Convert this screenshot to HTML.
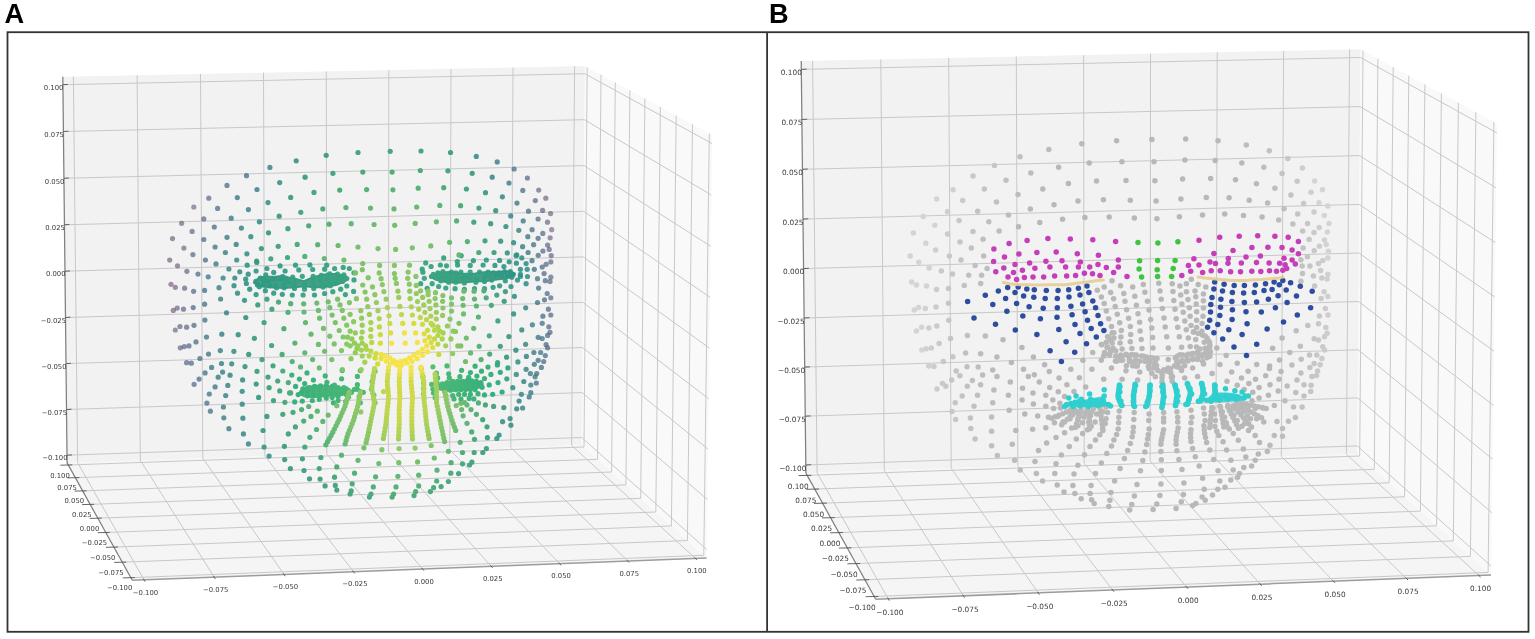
<!DOCTYPE html>
<html><head><meta charset="utf-8"><style>
html,body{margin:0;padding:0;background:#fff;}
body{width:1535px;height:639px;overflow:hidden;position:relative;}
svg{position:absolute;left:0;top:0;filter:blur(0.45px);}
.g{stroke:#c8c8c8;stroke-width:1;}
.ax{stroke:#808080;stroke-width:1.25;}
.ax2{stroke:#9c9c9c;stroke-width:1.5;}
.tk{stroke:#555;stroke-width:0.9;}
text{font-family:"DejaVu Sans","Liberation Sans",sans-serif;fill:#3a3a3a;}
.lbl{font-family:"Liberation Sans",sans-serif;font-weight:bold;fill:#000;}
</style></head><body>
<svg width="1535" height="639" viewBox="0 0 1535 639">
<polygon points="67.1,462.9 581.7,445.0 584.9,66.0 62.8,76.8" fill="#f2f2f2"/>
<polygon points="581.7,445.0 706.6,557.9 712.2,135.0 584.9,66.0" fill="#f9f9f9"/>
<polygon points="67.1,462.9 581.7,445.0 706.6,557.9 132.3,580.3" fill="#f5f5f5"/>
<line class="g" x1="77.6" y1="462.5" x2="73.4" y2="76.6"/>
<line class="g" x1="67.0" y1="455.2" x2="581.8" y2="437.5"/>
<line class="g" x1="703.8" y1="555.3" x2="709.3" y2="133.4"/>
<line class="g" x1="581.8" y1="437.5" x2="706.7" y2="549.5"/>
<line class="g" x1="77.6" y1="462.5" x2="144.0" y2="579.8"/>
<line class="g" x1="130.8" y1="577.7" x2="703.8" y2="555.3"/>
<line class="g" x1="140.3" y1="460.3" x2="137.1" y2="75.3"/>
<line class="g" x1="66.5" y1="409.5" x2="582.2" y2="392.6"/>
<line class="g" x1="687.4" y1="540.5" x2="692.5" y2="124.3"/>
<line class="g" x1="582.2" y1="392.6" x2="707.4" y2="499.5"/>
<line class="g" x1="140.3" y1="460.3" x2="214.2" y2="577.1"/>
<line class="g" x1="122.2" y1="562.2" x2="687.4" y2="540.5"/>
<line class="g" x1="202.8" y1="458.2" x2="200.5" y2="74.0"/>
<line class="g" x1="66.0" y1="363.6" x2="582.5" y2="347.5"/>
<line class="g" x1="671.4" y1="526.0" x2="676.2" y2="115.5"/>
<line class="g" x1="582.5" y1="347.5" x2="708.1" y2="449.2"/>
<line class="g" x1="202.8" y1="458.2" x2="284.0" y2="574.4"/>
<line class="g" x1="113.9" y1="547.1" x2="671.4" y2="526.0"/>
<line class="g" x1="264.9" y1="456.0" x2="263.5" y2="72.7"/>
<line class="g" x1="65.5" y1="317.5" x2="582.9" y2="302.3"/>
<line class="g" x1="655.8" y1="512.0" x2="660.4" y2="106.9"/>
<line class="g" x1="582.9" y1="302.3" x2="708.7" y2="398.8"/>
<line class="g" x1="264.9" y1="456.0" x2="353.4" y2="571.6"/>
<line class="g" x1="105.7" y1="532.5" x2="655.8" y2="512.0"/>
<line class="g" x1="326.8" y1="453.8" x2="326.3" y2="71.4"/>
<line class="g" x1="65.0" y1="271.2" x2="583.3" y2="256.9"/>
<line class="g" x1="640.7" y1="498.3" x2="644.9" y2="98.5"/>
<line class="g" x1="583.3" y1="256.9" x2="709.4" y2="348.1"/>
<line class="g" x1="326.8" y1="453.8" x2="422.5" y2="569.0"/>
<line class="g" x1="97.8" y1="518.2" x2="640.7" y2="498.3"/>
<line class="g" x1="388.4" y1="451.7" x2="388.8" y2="70.1"/>
<line class="g" x1="64.4" y1="224.8" x2="583.7" y2="211.3"/>
<line class="g" x1="625.9" y1="484.9" x2="629.9" y2="90.4"/>
<line class="g" x1="583.7" y1="211.3" x2="710.1" y2="297.3"/>
<line class="g" x1="388.4" y1="451.7" x2="491.2" y2="566.3"/>
<line class="g" x1="90.1" y1="504.4" x2="625.9" y2="484.9"/>
<line class="g" x1="449.8" y1="449.6" x2="451.0" y2="68.8"/>
<line class="g" x1="63.9" y1="178.3" x2="584.1" y2="165.6"/>
<line class="g" x1="611.6" y1="472.0" x2="615.3" y2="82.5"/>
<line class="g" x1="584.1" y1="165.6" x2="710.7" y2="246.2"/>
<line class="g" x1="449.8" y1="449.6" x2="559.6" y2="563.6"/>
<line class="g" x1="82.6" y1="490.9" x2="611.6" y2="472.0"/>
<line class="g" x1="510.8" y1="447.5" x2="513.0" y2="67.5"/>
<line class="g" x1="63.4" y1="131.5" x2="584.4" y2="119.7"/>
<line class="g" x1="597.6" y1="459.3" x2="601.0" y2="74.8"/>
<line class="g" x1="584.4" y1="119.7" x2="711.4" y2="195.0"/>
<line class="g" x1="510.8" y1="447.5" x2="627.7" y2="560.9"/>
<line class="g" x1="75.4" y1="477.7" x2="597.6" y2="459.3"/>
<line class="g" x1="571.6" y1="445.4" x2="574.6" y2="66.2"/>
<line class="g" x1="62.9" y1="84.7" x2="584.8" y2="73.7"/>
<line class="g" x1="584.0" y1="447.0" x2="587.2" y2="67.2"/>
<line class="g" x1="584.8" y1="73.7" x2="712.1" y2="143.6"/>
<line class="g" x1="571.6" y1="445.4" x2="695.4" y2="558.3"/>
<line class="g" x1="68.3" y1="465.0" x2="584.0" y2="447.0"/>
<line class="ax2" x1="132.3" y1="580.3" x2="706.6" y2="557.9"/>
<line class="ax" x1="67.1" y1="462.9" x2="132.3" y2="580.3"/>
<line class="ax" x1="67.1" y1="462.9" x2="62.8" y2="76.8"/>
<line class="tk" x1="67.0" y1="455.2" x2="72.0" y2="454.9"/>
<line class="tk" x1="122.8" y1="577.9" x2="134.8" y2="577.6"/>
<line class="tk" x1="143.4" y1="578.8" x2="145.1" y2="581.7"/>
<line class="tk" x1="66.5" y1="409.5" x2="71.5" y2="409.2"/>
<line class="tk" x1="114.2" y1="562.4" x2="126.2" y2="562.1"/>
<line class="tk" x1="213.5" y1="576.1" x2="215.3" y2="578.9"/>
<line class="tk" x1="66.0" y1="363.6" x2="71.0" y2="363.3"/>
<line class="tk" x1="105.9" y1="547.3" x2="117.9" y2="547.0"/>
<line class="tk" x1="283.3" y1="573.4" x2="285.2" y2="576.2"/>
<line class="tk" x1="65.5" y1="317.5" x2="70.5" y2="317.2"/>
<line class="tk" x1="97.7" y1="532.7" x2="109.7" y2="532.4"/>
<line class="tk" x1="352.7" y1="570.7" x2="354.7" y2="573.4"/>
<line class="tk" x1="65.0" y1="271.2" x2="70.0" y2="270.9"/>
<line class="tk" x1="89.8" y1="518.4" x2="101.8" y2="518.1"/>
<line class="tk" x1="421.7" y1="568.0" x2="423.9" y2="570.6"/>
<line class="tk" x1="64.4" y1="224.8" x2="69.4" y2="224.5"/>
<line class="tk" x1="82.1" y1="504.6" x2="94.1" y2="504.3"/>
<line class="tk" x1="490.4" y1="565.4" x2="492.7" y2="567.9"/>
<line class="tk" x1="63.9" y1="178.3" x2="68.9" y2="178.0"/>
<line class="tk" x1="74.6" y1="491.1" x2="86.6" y2="490.8"/>
<line class="tk" x1="558.8" y1="562.7" x2="561.1" y2="565.2"/>
<line class="tk" x1="63.4" y1="131.5" x2="68.4" y2="131.2"/>
<line class="tk" x1="67.4" y1="477.9" x2="79.4" y2="477.6"/>
<line class="tk" x1="626.8" y1="560.1" x2="629.2" y2="562.5"/>
<line class="tk" x1="62.9" y1="84.7" x2="67.9" y2="84.4"/>
<line class="tk" x1="60.3" y1="465.2" x2="72.3" y2="464.9"/>
<line class="tk" x1="694.5" y1="557.5" x2="697.0" y2="559.8"/>
<text x="67.5" y="460.4" text-anchor="end" font-size="6.85">−0.100</text>
<text x="132.3" y="590.2" text-anchor="end" font-size="6.85">−0.100</text>
<text x="145.5" y="594.6" text-anchor="middle" font-size="6.85">−0.100</text>
<text x="67.0" y="414.7" text-anchor="end" font-size="6.85">−0.075</text>
<text x="123.7" y="574.7" text-anchor="end" font-size="6.85">−0.075</text>
<text x="215.7" y="591.9" text-anchor="middle" font-size="6.85">−0.075</text>
<text x="66.5" y="368.8" text-anchor="end" font-size="6.85">−0.050</text>
<text x="115.4" y="559.6" text-anchor="end" font-size="6.85">−0.050</text>
<text x="285.5" y="589.2" text-anchor="middle" font-size="6.85">−0.050</text>
<text x="66.0" y="322.7" text-anchor="end" font-size="6.85">−0.025</text>
<text x="107.2" y="545.0" text-anchor="end" font-size="6.85">−0.025</text>
<text x="354.9" y="586.4" text-anchor="middle" font-size="6.85">−0.025</text>
<text x="65.5" y="276.4" text-anchor="end" font-size="6.85">0.000</text>
<text x="99.3" y="530.7" text-anchor="end" font-size="6.85">0.000</text>
<text x="424.0" y="583.8" text-anchor="middle" font-size="6.85">0.000</text>
<text x="64.9" y="230.0" text-anchor="end" font-size="6.85">0.025</text>
<text x="91.6" y="516.9" text-anchor="end" font-size="6.85">0.025</text>
<text x="492.7" y="581.1" text-anchor="middle" font-size="6.85">0.025</text>
<text x="64.4" y="183.5" text-anchor="end" font-size="6.85">0.050</text>
<text x="84.1" y="503.4" text-anchor="end" font-size="6.85">0.050</text>
<text x="561.1" y="578.4" text-anchor="middle" font-size="6.85">0.050</text>
<text x="63.9" y="136.7" text-anchor="end" font-size="6.85">0.075</text>
<text x="76.9" y="490.2" text-anchor="end" font-size="6.85">0.075</text>
<text x="629.2" y="575.7" text-anchor="middle" font-size="6.85">0.075</text>
<text x="63.4" y="89.9" text-anchor="end" font-size="6.85">0.100</text>
<text x="69.8" y="477.5" text-anchor="end" font-size="6.85">0.100</text>
<text x="696.9" y="573.1" text-anchor="middle" font-size="6.85">0.100</text>
<g><polygon points="253.6,282.8 259.3,277.0 266.5,276.4 275.1,276.4 283.0,275.5 289.4,277.5 295.2,278.5 303.8,281.0 313.1,277.0 321.0,275.0 327.4,273.8 336.8,273.8 343.9,275.2 348.2,278.5 345.4,281.4 336.8,285.0 329.6,286.4 323.1,287.5 313.8,287.5 304.5,286.5 295.2,287.5 285.1,288.2 276.5,288.0 268.7,287.5 259.3,286.5" fill="#2e9878" fill-opacity="0.9" stroke="#2e9878" stroke-opacity="0.9" stroke-width="1.5" stroke-linejoin="round"/>
<polygon points="430.0,275.8 437.9,272.6 448.7,271.8 455.8,272.4 463.0,273.4 470.2,274.2 479.5,272.4 488.1,271.5 495.3,271.8 502.4,271.3 509.6,271.0 515.3,273.6 513.2,276.5 506.0,278.7 498.9,279.4 491.7,280.5 484.5,281.5 475.9,281.5 466.6,282.5 457.3,283.0 448.7,282.6 440.8,281.5 434.3,279.4" fill="#2e9878" fill-opacity="0.9" stroke="#2e9878" stroke-opacity="0.9" stroke-width="1.5" stroke-linejoin="round"/>
<polygon points="298.8,393.4 302.9,387.6 314.6,385.5 326.3,385.5 338.1,387.2 345.7,388.0 345.7,394.0 336.9,395.3 325.2,396.5 313.4,397.5 304.7,396.5 299.4,394.6" fill="#43ad6e" fill-opacity="0.9" stroke="#43ad6e" stroke-opacity="0.9" stroke-width="1.5" stroke-linejoin="round"/>
<polygon points="483.3,384.9 478.6,381.0 469.8,380.0 458.1,380.5 449.3,381.6 442.3,383.0 437.6,384.8 437.6,389.2 446.4,391.0 455.2,391.0 464.0,390.4 472.8,389.2 478.6,387.5" fill="#44aa72" fill-opacity="0.9" stroke="#44aa72" stroke-opacity="0.9" stroke-width="1.5" stroke-linejoin="round"/></g><g><circle cx="181.6" cy="223.3" r="2.6" fill="rgb(53,21,64)" fill-opacity="0.45"/>
<circle cx="172.5" cy="238.6" r="2.6" fill="rgb(53,21,64)" fill-opacity="0.45"/>
<circle cx="545.8" cy="198.2" r="2.6" fill="rgb(53,21,64)" fill-opacity="0.45"/>
<circle cx="169.7" cy="260.0" r="2.6" fill="rgb(53,21,64)" fill-opacity="0.45"/>
<circle cx="550.6" cy="213.6" r="2.6" fill="rgb(53,21,64)" fill-opacity="0.45"/>
<circle cx="177.5" cy="265.8" r="2.6" fill="rgb(53,21,64)" fill-opacity="0.45"/>
<circle cx="171.0" cy="284.3" r="2.6" fill="rgb(53,21,64)" fill-opacity="0.45"/>
<circle cx="175.3" cy="287.3" r="2.6" fill="rgb(53,21,64)" fill-opacity="0.45"/>
<circle cx="173.3" cy="310.4" r="2.6" fill="rgb(53,21,64)" fill-opacity="0.45"/>
<circle cx="193.8" cy="207.0" r="2.6" fill="rgb(58,30,74)" fill-opacity="0.45"/>
<circle cx="551.7" cy="229.7" r="2.6" fill="rgb(59,31,75)" fill-opacity="0.45"/>
<circle cx="183.9" cy="248.1" r="2.6" fill="rgb(65,44,90)" fill-opacity="0.49"/>
<circle cx="175.3" cy="330.0" r="2.6" fill="rgb(65,45,91)" fill-opacity="0.49"/>
<circle cx="177.2" cy="308.1" r="2.6" fill="rgb(67,51,97)" fill-opacity="0.52"/>
<circle cx="547.5" cy="222.2" r="2.6" fill="rgb(67,54,100)" fill-opacity="0.53"/>
<circle cx="550.1" cy="237.8" r="2.6" fill="rgb(68,56,101)" fill-opacity="0.53"/>
<circle cx="538.7" cy="190.1" r="2.6" fill="rgb(68,59,104)" fill-opacity="0.54"/>
<circle cx="192.1" cy="231.4" r="2.6" fill="rgb(68,60,105)" fill-opacity="0.55"/>
<circle cx="180.3" cy="347.8" r="2.6" fill="rgb(68,64,108)" fill-opacity="0.56"/>
<circle cx="180.0" cy="326.5" r="2.6" fill="rgb(68,64,108)" fill-opacity="0.56"/>
<circle cx="551.2" cy="255.6" r="2.6" fill="rgb(68,65,109)" fill-opacity="0.56"/>
<circle cx="542.6" cy="210.4" r="2.6" fill="rgb(68,65,109)" fill-opacity="0.56"/>
<circle cx="549.2" cy="249.4" r="2.6" fill="rgb(68,69,111)" fill-opacity="0.58"/>
<circle cx="550.8" cy="261.9" r="2.6" fill="rgb(68,70,112)" fill-opacity="0.58"/>
<circle cx="184.6" cy="288.2" r="2.6" fill="rgb(68,71,113)" fill-opacity="0.58"/>
<circle cx="186.9" cy="271.3" r="2.6" fill="rgb(68,71,113)" fill-opacity="0.58"/>
<circle cx="183.5" cy="309.2" r="2.6" fill="rgb(68,72,114)" fill-opacity="0.59"/>
<circle cx="547.6" cy="245.1" r="2.6" fill="rgb(68,72,114)" fill-opacity="0.59"/>
<circle cx="184.3" cy="346.6" r="2.6" fill="rgb(67,74,115)" fill-opacity="0.60"/>
<circle cx="208.8" cy="198.2" r="2.6" fill="rgb(67,75,115)" fill-opacity="0.60"/>
<circle cx="550.8" cy="277.2" r="2.6" fill="rgb(67,76,116)" fill-opacity="0.60"/>
<circle cx="192.9" cy="254.6" r="2.6" fill="rgb(67,77,117)" fill-opacity="0.61"/>
<circle cx="186.6" cy="362.7" r="2.6" fill="rgb(67,78,117)" fill-opacity="0.61"/>
<circle cx="550.0" cy="281.5" r="2.6" fill="rgb(66,80,118)" fill-opacity="0.62"/>
<circle cx="203.8" cy="218.9" r="2.6" fill="rgb(66,80,118)" fill-opacity="0.62"/>
<circle cx="186.6" cy="327.2" r="2.6" fill="rgb(66,81,119)" fill-opacity="0.62"/>
<circle cx="550.8" cy="297.8" r="2.6" fill="rgb(66,82,119)" fill-opacity="0.63"/>
<circle cx="542.8" cy="233.4" r="2.6" fill="rgb(66,82,119)" fill-opacity="0.63"/>
<circle cx="535.3" cy="200.6" r="2.6" fill="rgb(66,82,119)" fill-opacity="0.63"/>
<circle cx="550.8" cy="315.0" r="2.6" fill="rgb(65,83,120)" fill-opacity="0.64"/>
<circle cx="527.4" cy="178.0" r="2.6" fill="rgb(65,84,120)" fill-opacity="0.64"/>
<circle cx="189.0" cy="345.9" r="2.6" fill="rgb(65,85,121)" fill-opacity="0.64"/>
<circle cx="546.1" cy="264.3" r="2.6" fill="rgb(65,86,121)" fill-opacity="0.64"/>
<circle cx="538.1" cy="219.0" r="2.6" fill="rgb(65,86,121)" fill-opacity="0.65"/>
<circle cx="550.0" cy="332.3" r="2.6" fill="rgb(65,87,122)" fill-opacity="0.65"/>
<circle cx="191.3" cy="363.2" r="2.6" fill="rgb(64,88,122)" fill-opacity="0.65"/>
<circle cx="194.1" cy="384.3" r="2.6" fill="rgb(64,88,122)" fill-opacity="0.65"/>
<circle cx="542.9" cy="251.0" r="2.6" fill="rgb(64,89,123)" fill-opacity="0.66"/>
<circle cx="548.4" cy="309.2" r="2.6" fill="rgb(64,89,123)" fill-opacity="0.66"/>
<circle cx="548.8" cy="326.8" r="2.6" fill="rgb(64,89,123)" fill-opacity="0.66"/>
<circle cx="193.6" cy="291.3" r="2.6" fill="rgb(64,90,123)" fill-opacity="0.66"/>
<circle cx="547.2" cy="293.5" r="2.6" fill="rgb(64,90,123)" fill-opacity="0.66"/>
<circle cx="203.8" cy="239.5" r="2.6" fill="rgb(63,91,124)" fill-opacity="0.67"/>
<circle cx="547.6" cy="347.8" r="2.6" fill="rgb(63,92,124)" fill-opacity="0.67"/>
<circle cx="193.2" cy="307.6" r="2.6" fill="rgb(63,92,124)" fill-opacity="0.67"/>
<circle cx="547.6" cy="335.4" r="2.6" fill="rgb(63,93,124)" fill-opacity="0.67"/>
<circle cx="545.3" cy="280.7" r="2.6" fill="rgb(63,93,124)" fill-opacity="0.67"/>
<circle cx="198.0" cy="274.1" r="2.6" fill="rgb(62,94,125)" fill-opacity="0.68"/>
<circle cx="544.1" cy="273.6" r="2.6" fill="rgb(62,94,125)" fill-opacity="0.68"/>
<circle cx="194.0" cy="325.3" r="2.6" fill="rgb(62,95,125)" fill-opacity="0.68"/>
<circle cx="538.1" cy="238.3" r="2.6" fill="rgb(62,96,125)" fill-opacity="0.69"/>
<circle cx="227.0" cy="185.4" r="2.6" fill="rgb(62,96,126)" fill-opacity="0.69"/>
<circle cx="546.1" cy="344.7" r="2.6" fill="rgb(62,96,126)" fill-opacity="0.69"/>
<circle cx="542.2" cy="267.0" r="2.6" fill="rgb(61,97,126)" fill-opacity="0.69"/>
<circle cx="217.6" cy="208.4" r="2.6" fill="rgb(61,97,126)" fill-opacity="0.69"/>
<circle cx="545.3" cy="355.6" r="2.6" fill="rgb(61,97,126)" fill-opacity="0.69"/>
<circle cx="199.1" cy="379.1" r="2.6" fill="rgb(61,97,126)" fill-opacity="0.69"/>
<circle cx="196.0" cy="341.9" r="2.6" fill="rgb(61,98,126)" fill-opacity="0.69"/>
<circle cx="544.5" cy="299.8" r="2.6" fill="rgb(61,98,126)" fill-opacity="0.70"/>
<circle cx="543.7" cy="361.5" r="2.6" fill="rgb(61,100,127)" fill-opacity="0.70"/>
<circle cx="205.4" cy="260.0" r="2.6" fill="rgb(60,101,127)" fill-opacity="0.71"/>
<circle cx="214.3" cy="227.0" r="2.6" fill="rgb(60,102,127)" fill-opacity="0.71"/>
<circle cx="538.2" cy="255.3" r="2.6" fill="rgb(60,102,128)" fill-opacity="0.71"/>
<circle cx="199.9" cy="358.5" r="2.6" fill="rgb(60,102,128)" fill-opacity="0.71"/>
<circle cx="206.9" cy="403.1" r="2.6" fill="rgb(59,103,128)" fill-opacity="0.71"/>
<circle cx="522.8" cy="190.4" r="2.6" fill="rgb(59,103,128)" fill-opacity="0.71"/>
<circle cx="542.9" cy="316.2" r="2.6" fill="rgb(59,103,128)" fill-opacity="0.72"/>
<circle cx="528.5" cy="211.2" r="2.6" fill="rgb(59,103,128)" fill-opacity="0.72"/>
<circle cx="541.4" cy="367.4" r="2.6" fill="rgb(59,104,128)" fill-opacity="0.72"/>
<circle cx="514.1" cy="169.0" r="2.6" fill="rgb(59,105,128)" fill-opacity="0.72"/>
<circle cx="210.4" cy="411.2" r="2.6" fill="rgb(59,105,128)" fill-opacity="0.72"/>
<circle cx="532.1" cy="229.7" r="2.6" fill="rgb(59,105,128)" fill-opacity="0.72"/>
<circle cx="542.2" cy="338.5" r="2.6" fill="rgb(59,106,128)" fill-opacity="0.72"/>
<circle cx="542.2" cy="323.3" r="2.6" fill="rgb(59,106,128)" fill-opacity="0.72"/>
<circle cx="204.6" cy="290.4" r="2.6" fill="rgb(59,107,129)" fill-opacity="0.73"/>
<circle cx="205.1" cy="372.9" r="2.6" fill="rgb(59,107,129)" fill-opacity="0.73"/>
<circle cx="540.6" cy="352.5" r="2.6" fill="rgb(58,108,129)" fill-opacity="0.73"/>
<circle cx="533.6" cy="244.7" r="2.6" fill="rgb(58,108,129)" fill-opacity="0.73"/>
<circle cx="209.3" cy="394.0" r="2.6" fill="rgb(58,108,129)" fill-opacity="0.74"/>
<circle cx="204.6" cy="304.2" r="2.6" fill="rgb(58,109,129)" fill-opacity="0.74"/>
<circle cx="538.6" cy="288.1" r="2.6" fill="rgb(58,109,129)" fill-opacity="0.74"/>
<circle cx="208.2" cy="276.8" r="2.6" fill="rgb(58,110,129)" fill-opacity="0.74"/>
<circle cx="537.5" cy="278.7" r="2.6" fill="rgb(58,110,129)" fill-opacity="0.74"/>
<circle cx="215.1" cy="247.0" r="2.6" fill="rgb(58,111,129)" fill-opacity="0.75"/>
<circle cx="204.9" cy="320.1" r="2.6" fill="rgb(58,111,129)" fill-opacity="0.75"/>
<circle cx="538.2" cy="360.3" r="2.6" fill="rgb(58,111,129)" fill-opacity="0.75"/>
<circle cx="536.3" cy="383.0" r="2.6" fill="rgb(58,111,129)" fill-opacity="0.75"/>
<circle cx="536.7" cy="373.6" r="2.6" fill="rgb(58,112,130)" fill-opacity="0.75"/>
<circle cx="206.5" cy="337.0" r="2.6" fill="rgb(57,113,130)" fill-opacity="0.76"/>
<circle cx="246.5" cy="175.7" r="2.6" fill="rgb(57,113,130)" fill-opacity="0.76"/>
<circle cx="538.2" cy="337.3" r="2.6" fill="rgb(57,113,130)" fill-opacity="0.76"/>
<circle cx="537.5" cy="302.5" r="2.6" fill="rgb(57,113,130)" fill-opacity="0.76"/>
<circle cx="534.3" cy="269.3" r="2.6" fill="rgb(57,113,130)" fill-opacity="0.76"/>
<circle cx="208.5" cy="354.1" r="2.6" fill="rgb(57,114,130)" fill-opacity="0.76"/>
<circle cx="535.1" cy="376.8" r="2.6" fill="rgb(57,115,130)" fill-opacity="0.76"/>
<circle cx="237.3" cy="197.6" r="2.6" fill="rgb(57,115,130)" fill-opacity="0.77"/>
<circle cx="527.8" cy="236.7" r="2.6" fill="rgb(57,115,130)" fill-opacity="0.77"/>
<circle cx="532.0" cy="260.7" r="2.6" fill="rgb(57,115,130)" fill-opacity="0.77"/>
<circle cx="216.0" cy="263.9" r="2.6" fill="rgb(57,116,130)" fill-opacity="0.77"/>
<circle cx="211.6" cy="367.4" r="2.6" fill="rgb(57,116,130)" fill-opacity="0.77"/>
<circle cx="523.2" cy="220.9" r="2.6" fill="rgb(57,117,130)" fill-opacity="0.77"/>
<circle cx="215.1" cy="386.9" r="2.6" fill="rgb(57,117,130)" fill-opacity="0.77"/>
<circle cx="534.3" cy="364.3" r="2.6" fill="rgb(57,118,130)" fill-opacity="0.78"/>
<circle cx="231.2" cy="218.2" r="2.6" fill="rgb(57,118,130)" fill-opacity="0.78"/>
<circle cx="223.8" cy="417.8" r="2.6" fill="rgb(56,119,130)" fill-opacity="0.78"/>
<circle cx="517.0" cy="203.1" r="2.6" fill="rgb(56,119,130)" fill-opacity="0.78"/>
<circle cx="530.8" cy="392.7" r="2.6" fill="rgb(56,119,130)" fill-opacity="0.78"/>
<circle cx="528.1" cy="252.5" r="2.6" fill="rgb(56,119,131)" fill-opacity="0.79"/>
<circle cx="533.9" cy="352.5" r="2.6" fill="rgb(56,119,131)" fill-opacity="0.79"/>
<circle cx="228.9" cy="428.7" r="2.6" fill="rgb(56,120,131)" fill-opacity="0.79"/>
<circle cx="509.0" cy="183.0" r="2.6" fill="rgb(56,120,131)" fill-opacity="0.79"/>
<circle cx="227.0" cy="237.3" r="2.6" fill="rgb(56,120,131)" fill-opacity="0.79"/>
<circle cx="529.2" cy="397.0" r="2.6" fill="rgb(56,120,131)" fill-opacity="0.79"/>
<circle cx="530.8" cy="385.0" r="2.6" fill="rgb(56,120,131)" fill-opacity="0.79"/>
<circle cx="223.4" cy="407.0" r="2.6" fill="rgb(56,121,131)" fill-opacity="0.79"/>
<circle cx="218.2" cy="377.2" r="2.6" fill="rgb(56,122,131)" fill-opacity="0.80"/>
<circle cx="530.4" cy="373.6" r="2.6" fill="rgb(56,123,131)" fill-opacity="0.80"/>
<circle cx="532.4" cy="324.8" r="2.6" fill="rgb(56,123,131)" fill-opacity="0.80"/>
<circle cx="225.4" cy="252.5" r="2.6" fill="rgb(56,123,131)" fill-opacity="0.80"/>
<circle cx="497.2" cy="161.9" r="2.6" fill="rgb(56,123,131)" fill-opacity="0.80"/>
<circle cx="219.0" cy="287.7" r="2.6" fill="rgb(56,123,131)" fill-opacity="0.80"/>
<circle cx="522.6" cy="246.7" r="2.6" fill="rgb(55,126,131)" fill-opacity="0.81"/>
<circle cx="223.1" cy="278.0" r="2.6" fill="rgb(55,127,131)" fill-opacity="0.81"/>
<circle cx="225.7" cy="395.6" r="2.6" fill="rgb(55,127,131)" fill-opacity="0.82"/>
<circle cx="518.8" cy="230.3" r="2.6" fill="rgb(55,127,131)" fill-opacity="0.82"/>
<circle cx="220.6" cy="299.0" r="2.6" fill="rgb(55,127,131)" fill-opacity="0.82"/>
<circle cx="220.3" cy="350.6" r="2.6" fill="rgb(55,127,131)" fill-opacity="0.82"/>
<circle cx="221.5" cy="363.5" r="2.6" fill="rgb(55,127,131)" fill-opacity="0.82"/>
<circle cx="222.6" cy="372.1" r="2.6" fill="rgb(55,127,131)" fill-opacity="0.82"/>
<circle cx="522.6" cy="408.0" r="2.6" fill="rgb(55,127,131)" fill-opacity="0.82"/>
<circle cx="269.9" cy="167.4" r="2.6" fill="rgb(55,128,131)" fill-opacity="0.82"/>
<circle cx="257.0" cy="189.5" r="2.6" fill="rgb(55,129,131)" fill-opacity="0.83"/>
<circle cx="221.8" cy="334.2" r="2.6" fill="rgb(55,129,131)" fill-opacity="0.83"/>
<circle cx="526.1" cy="369.3" r="2.6" fill="rgb(55,130,131)" fill-opacity="0.83"/>
<circle cx="228.9" cy="269.0" r="2.6" fill="rgb(55,130,131)" fill-opacity="0.83"/>
<circle cx="227.8" cy="385.4" r="2.6" fill="rgb(55,130,131)" fill-opacity="0.83"/>
<circle cx="248.4" cy="209.6" r="2.6" fill="rgb(54,131,131)" fill-opacity="0.83"/>
<circle cx="241.4" cy="228.1" r="2.6" fill="rgb(54,131,131)" fill-opacity="0.84"/>
<circle cx="526.4" cy="356.4" r="2.6" fill="rgb(54,131,131)" fill-opacity="0.84"/>
<circle cx="236.2" cy="244.4" r="2.6" fill="rgb(54,131,132)" fill-opacity="0.84"/>
<circle cx="523.8" cy="381.5" r="2.6" fill="rgb(54,131,132)" fill-opacity="0.84"/>
<circle cx="243.4" cy="433.9" r="2.6" fill="rgb(54,132,132)" fill-opacity="0.84"/>
<circle cx="525.7" cy="307.8" r="2.6" fill="rgb(54,132,132)" fill-opacity="0.84"/>
<circle cx="510.7" cy="215.9" r="2.6" fill="rgb(54,132,132)" fill-opacity="0.84"/>
<circle cx="521.4" cy="394.3" r="2.6" fill="rgb(54,132,132)" fill-opacity="0.84"/>
<circle cx="248.4" cy="443.9" r="2.6" fill="rgb(54,133,132)" fill-opacity="0.84"/>
<circle cx="525.6" cy="344.3" r="2.6" fill="rgb(54,133,132)" fill-opacity="0.84"/>
<circle cx="226.5" cy="312.8" r="2.6" fill="rgb(54,133,132)" fill-opacity="0.85"/>
<circle cx="230.1" cy="375.2" r="2.6" fill="rgb(54,134,132)" fill-opacity="0.85"/>
<circle cx="519.1" cy="401.0" r="2.6" fill="rgb(54,134,132)" fill-opacity="0.85"/>
<circle cx="502.4" cy="196.8" r="2.6" fill="rgb(54,135,132)" fill-opacity="0.85"/>
<circle cx="236.7" cy="260.0" r="2.6" fill="rgb(54,135,132)" fill-opacity="0.85"/>
<circle cx="516.7" cy="408.8" r="2.6" fill="rgb(54,135,132)" fill-opacity="0.85"/>
<circle cx="516.7" cy="254.9" r="2.6" fill="rgb(54,136,132)" fill-opacity="0.86"/>
<circle cx="242.9" cy="418.2" r="2.6" fill="rgb(54,136,132)" fill-opacity="0.86"/>
<circle cx="492.2" cy="177.2" r="2.6" fill="rgb(54,136,132)" fill-opacity="0.86"/>
<circle cx="231.7" cy="363.8" r="2.6" fill="rgb(54,137,132)" fill-opacity="0.86"/>
<circle cx="513.6" cy="242.7" r="2.6" fill="rgb(54,137,132)" fill-opacity="0.86"/>
<circle cx="234.8" cy="278.0" r="2.6" fill="rgb(54,137,132)" fill-opacity="0.86"/>
<circle cx="234.0" cy="285.7" r="2.6" fill="rgb(54,138,131)" fill-opacity="0.86"/>
<circle cx="521.8" cy="329.9" r="2.6" fill="rgb(54,138,131)" fill-opacity="0.87"/>
<circle cx="510.9" cy="425.2" r="2.6" fill="rgb(54,139,131)" fill-opacity="0.87"/>
<circle cx="527.2" cy="269.3" r="2.6" fill="rgb(47,141,134)" fill-opacity="0.87"/>
<circle cx="526.1" cy="263.6" r="2.6" fill="rgb(47,141,134)" fill-opacity="0.87"/>
<circle cx="527.5" cy="276.5" r="2.6" fill="rgb(47,141,134)" fill-opacity="0.87"/>
<circle cx="242.2" cy="404.2" r="2.6" fill="rgb(54,139,131)" fill-opacity="0.87"/>
<circle cx="233.9" cy="351.3" r="2.6" fill="rgb(54,139,131)" fill-opacity="0.87"/>
<circle cx="526.1" cy="283.7" r="2.6" fill="rgb(47,142,133)" fill-opacity="0.87"/>
<circle cx="239.8" cy="271.8" r="2.6" fill="rgb(54,140,131)" fill-opacity="0.88"/>
<circle cx="521.8" cy="257.9" r="2.6" fill="rgb(47,143,133)" fill-opacity="0.88"/>
<circle cx="476.3" cy="156.4" r="2.6" fill="rgb(54,140,131)" fill-opacity="0.88"/>
<circle cx="250.8" cy="236.7" r="2.6" fill="rgb(54,141,131)" fill-opacity="0.88"/>
<circle cx="510.1" cy="418.6" r="2.6" fill="rgb(54,141,131)" fill-opacity="0.88"/>
<circle cx="296.2" cy="160.8" r="2.6" fill="rgb(54,141,131)" fill-opacity="0.88"/>
<circle cx="505.9" cy="226.5" r="2.6" fill="rgb(54,141,131)" fill-opacity="0.88"/>
<circle cx="237.5" cy="293.2" r="2.6" fill="rgb(54,141,131)" fill-opacity="0.88"/>
<circle cx="520.4" cy="269.3" r="2.6" fill="rgb(47,145,133)" fill-opacity="0.88"/>
<circle cx="517.9" cy="361.9" r="2.6" fill="rgb(54,142,131)" fill-opacity="0.88"/>
<circle cx="242.2" cy="391.3" r="2.6" fill="rgb(54,142,131)" fill-opacity="0.88"/>
<circle cx="279.7" cy="182.6" r="2.6" fill="rgb(54,142,131)" fill-opacity="0.88"/>
<circle cx="520.4" cy="274.4" r="2.6" fill="rgb(47,145,133)" fill-opacity="0.88"/>
<circle cx="520.4" cy="276.5" r="2.6" fill="rgb(47,145,133)" fill-opacity="0.88"/>
<circle cx="516.3" cy="374.4" r="2.6" fill="rgb(54,142,131)" fill-opacity="0.88"/>
<circle cx="246.9" cy="253.8" r="2.6" fill="rgb(54,142,131)" fill-opacity="0.88"/>
<circle cx="268.0" cy="202.6" r="2.6" fill="rgb(54,142,131)" fill-opacity="0.88"/>
<circle cx="516.1" cy="255.7" r="2.6" fill="rgb(47,146,133)" fill-opacity="0.89"/>
<circle cx="516.4" cy="263.2" r="2.6" fill="rgb(47,146,133)" fill-opacity="0.89"/>
<circle cx="259.4" cy="221.8" r="2.6" fill="rgb(54,143,131)" fill-opacity="0.89"/>
<circle cx="517.5" cy="280.1" r="2.6" fill="rgb(47,147,133)" fill-opacity="0.89"/>
<circle cx="264.1" cy="447.0" r="2.6" fill="rgb(54,143,131)" fill-opacity="0.89"/>
<circle cx="269.1" cy="456.1" r="2.6" fill="rgb(54,143,131)" fill-opacity="0.89"/>
<circle cx="242.6" cy="379.9" r="2.6" fill="rgb(54,143,131)" fill-opacity="0.89"/>
<circle cx="238.2" cy="334.7" r="2.6" fill="rgb(54,143,131)" fill-opacity="0.89"/>
<circle cx="512.8" cy="387.7" r="2.6" fill="rgb(54,144,131)" fill-opacity="0.89"/>
<circle cx="513.2" cy="274.4" r="2.6" fill="rgb(47,147,133)" fill-opacity="0.89"/>
<circle cx="247.2" cy="265.2" r="2.6" fill="rgb(47,147,133)" fill-opacity="0.90"/>
<circle cx="515.9" cy="350.2" r="2.6" fill="rgb(54,145,131)" fill-opacity="0.90"/>
<circle cx="245.7" cy="279.2" r="2.6" fill="rgb(47,148,133)" fill-opacity="0.90"/>
<circle cx="511.8" cy="277.2" r="2.6" fill="rgb(47,148,133)" fill-opacity="0.90"/>
<circle cx="509.2" cy="261.8" r="2.6" fill="rgb(47,148,133)" fill-opacity="0.90"/>
<circle cx="510.3" cy="271.5" r="2.6" fill="rgb(47,148,133)" fill-opacity="0.90"/>
<circle cx="248.2" cy="274.2" r="2.6" fill="rgb(47,148,133)" fill-opacity="0.90"/>
<circle cx="246.4" cy="283.5" r="2.6" fill="rgb(47,148,133)" fill-opacity="0.90"/>
<circle cx="514.4" cy="296.3" r="2.6" fill="rgb(54,145,131)" fill-opacity="0.90"/>
<circle cx="511.0" cy="286.5" r="2.6" fill="rgb(47,149,132)" fill-opacity="0.90"/>
<circle cx="249.7" cy="289.2" r="2.6" fill="rgb(47,149,132)" fill-opacity="0.90"/>
<circle cx="507.5" cy="275.8" r="2.6" fill="rgb(48,150,132)" fill-opacity="0.90"/>
<circle cx="507.3" cy="252.9" r="2.6" fill="rgb(55,147,131)" fill-opacity="0.90"/>
<circle cx="495.7" cy="210.7" r="2.6" fill="rgb(55,147,131)" fill-opacity="0.90"/>
<circle cx="256.8" cy="262.4" r="2.6" fill="rgb(48,150,132)" fill-opacity="0.90"/>
<circle cx="256.1" cy="271.0" r="2.6" fill="rgb(48,150,132)" fill-opacity="0.90"/>
<circle cx="503.9" cy="266.5" r="2.6" fill="rgb(48,150,132)" fill-opacity="0.91"/>
<circle cx="504.6" cy="271.5" r="2.6" fill="rgb(48,150,132)" fill-opacity="0.91"/>
<circle cx="245.0" cy="366.6" r="2.6" fill="rgb(55,148,131)" fill-opacity="0.91"/>
<circle cx="505.3" cy="280.8" r="2.6" fill="rgb(48,151,132)" fill-opacity="0.91"/>
<circle cx="255.8" cy="281.4" r="2.6" fill="rgb(48,151,132)" fill-opacity="0.91"/>
<circle cx="244.5" cy="300.3" r="2.6" fill="rgb(55,148,131)" fill-opacity="0.91"/>
<circle cx="513.6" cy="313.9" r="2.6" fill="rgb(55,148,131)" fill-opacity="0.91"/>
<circle cx="257.5" cy="284.9" r="2.6" fill="rgb(48,151,132)" fill-opacity="0.91"/>
<circle cx="263.0" cy="430.5" r="2.6" fill="rgb(55,148,131)" fill-opacity="0.91"/>
<circle cx="256.1" cy="294.6" r="2.6" fill="rgb(48,151,132)" fill-opacity="0.91"/>
<circle cx="499.6" cy="260.4" r="2.6" fill="rgb(48,151,132)" fill-opacity="0.91"/>
<circle cx="260.4" cy="278.1" r="2.6" fill="rgb(48,152,132)" fill-opacity="0.91"/>
<circle cx="501.7" cy="275.8" r="2.6" fill="rgb(48,152,132)" fill-opacity="0.91"/>
<circle cx="259.3" cy="286.7" r="2.6" fill="rgb(48,152,132)" fill-opacity="0.91"/>
<circle cx="499.1" cy="435.0" r="2.6" fill="rgb(55,148,130)" fill-opacity="0.91"/>
<circle cx="502.6" cy="421.7" r="2.6" fill="rgb(55,148,130)" fill-opacity="0.91"/>
<circle cx="498.9" cy="272.9" r="2.6" fill="rgb(48,152,132)" fill-opacity="0.91"/>
<circle cx="266.9" cy="268.5" r="2.6" fill="rgb(48,153,132)" fill-opacity="0.91"/>
<circle cx="264.4" cy="279.9" r="2.6" fill="rgb(48,153,132)" fill-opacity="0.91"/>
<circle cx="265.8" cy="274.9" r="2.6" fill="rgb(48,153,132)" fill-opacity="0.91"/>
<circle cx="264.0" cy="284.2" r="2.6" fill="rgb(48,153,132)" fill-opacity="0.91"/>
<circle cx="499.6" cy="285.8" r="2.6" fill="rgb(48,153,132)" fill-opacity="0.91"/>
<circle cx="485.5" cy="192.7" r="2.6" fill="rgb(55,149,130)" fill-opacity="0.91"/>
<circle cx="265.4" cy="290.7" r="2.6" fill="rgb(48,153,132)" fill-opacity="0.92"/>
<circle cx="494.9" cy="265.4" r="2.6" fill="rgb(48,153,132)" fill-opacity="0.92"/>
<circle cx="245.8" cy="317.5" r="2.6" fill="rgb(55,149,130)" fill-opacity="0.92"/>
<circle cx="496.8" cy="438.5" r="2.6" fill="rgb(55,149,130)" fill-opacity="0.92"/>
<circle cx="496.0" cy="275.8" r="2.6" fill="rgb(49,153,131)" fill-opacity="0.92"/>
<circle cx="268.7" cy="281.0" r="2.6" fill="rgb(49,153,131)" fill-opacity="0.92"/>
<circle cx="269.7" cy="285.7" r="2.6" fill="rgb(49,153,131)" fill-opacity="0.92"/>
<circle cx="493.8" cy="272.9" r="2.6" fill="rgb(49,153,131)" fill-opacity="0.92"/>
<circle cx="273.7" cy="272.4" r="2.6" fill="rgb(49,153,131)" fill-opacity="0.92"/>
<circle cx="273.0" cy="279.6" r="2.6" fill="rgb(49,153,131)" fill-opacity="0.92"/>
<circle cx="503.8" cy="407.6" r="2.6" fill="rgb(56,151,130)" fill-opacity="0.92"/>
<circle cx="500.7" cy="241.2" r="2.6" fill="rgb(56,151,130)" fill-opacity="0.92"/>
<circle cx="256.6" cy="261.1" r="2.6" fill="rgb(56,151,130)" fill-opacity="0.92"/>
<circle cx="493.1" cy="287.3" r="2.6" fill="rgb(49,154,131)" fill-opacity="0.92"/>
<circle cx="491.7" cy="280.1" r="2.6" fill="rgb(49,154,131)" fill-opacity="0.92"/>
<circle cx="273.7" cy="293.2" r="2.6" fill="rgb(49,154,131)" fill-opacity="0.92"/>
<circle cx="280.1" cy="265.9" r="2.6" fill="rgb(49,154,131)" fill-opacity="0.92"/>
<circle cx="248.7" cy="354.4" r="2.6" fill="rgb(56,151,130)" fill-opacity="0.92"/>
<circle cx="277.3" cy="278.8" r="2.6" fill="rgb(49,154,131)" fill-opacity="0.92"/>
<circle cx="275.8" cy="285.7" r="2.6" fill="rgb(49,154,131)" fill-opacity="0.92"/>
<circle cx="276.5" cy="287.8" r="2.6" fill="rgb(50,155,131)" fill-opacity="0.92"/>
<circle cx="489.5" cy="275.8" r="2.6" fill="rgb(50,155,131)" fill-opacity="0.92"/>
<circle cx="486.3" cy="260.0" r="2.6" fill="rgb(50,155,131)" fill-opacity="0.92"/>
<circle cx="472.2" cy="173.3" r="2.6" fill="rgb(57,152,130)" fill-opacity="0.92"/>
<circle cx="488.1" cy="272.2" r="2.6" fill="rgb(50,155,131)" fill-opacity="0.92"/>
<circle cx="261.4" cy="248.6" r="2.6" fill="rgb(57,152,130)" fill-opacity="0.92"/>
<circle cx="290.4" cy="468.6" r="2.6" fill="rgb(57,152,130)" fill-opacity="0.93"/>
<circle cx="281.6" cy="279.2" r="2.6" fill="rgb(50,155,131)" fill-opacity="0.93"/>
<circle cx="326.2" cy="155.3" r="2.6" fill="rgb(57,152,130)" fill-opacity="0.93"/>
<circle cx="284.7" cy="459.6" r="2.6" fill="rgb(57,152,130)" fill-opacity="0.93"/>
<circle cx="282.6" cy="276.7" r="2.6" fill="rgb(50,155,131)" fill-opacity="0.93"/>
<circle cx="285.1" cy="271.0" r="2.6" fill="rgb(50,155,131)" fill-opacity="0.93"/>
<circle cx="268.5" cy="232.8" r="2.6" fill="rgb(57,153,130)" fill-opacity="0.93"/>
<circle cx="483.1" cy="265.0" r="2.6" fill="rgb(50,156,131)" fill-opacity="0.93"/>
<circle cx="283.7" cy="284.9" r="2.6" fill="rgb(50,156,131)" fill-opacity="0.93"/>
<circle cx="282.3" cy="294.3" r="2.6" fill="rgb(50,156,131)" fill-opacity="0.93"/>
<circle cx="484.5" cy="276.5" r="2.6" fill="rgb(50,156,131)" fill-opacity="0.93"/>
<circle cx="284.1" cy="287.8" r="2.6" fill="rgb(50,156,131)" fill-opacity="0.93"/>
<circle cx="258.6" cy="397.4" r="2.6" fill="rgb(57,153,130)" fill-opacity="0.93"/>
<circle cx="286.6" cy="280.6" r="2.6" fill="rgb(50,156,131)" fill-opacity="0.93"/>
<circle cx="484.5" cy="281.5" r="2.6" fill="rgb(50,156,131)" fill-opacity="0.93"/>
<circle cx="484.5" cy="288.7" r="2.6" fill="rgb(51,157,130)" fill-opacity="0.93"/>
<circle cx="288.7" cy="282.1" r="2.6" fill="rgb(51,157,130)" fill-opacity="0.93"/>
<circle cx="305.1" cy="177.2" r="2.6" fill="rgb(58,153,130)" fill-opacity="0.93"/>
<circle cx="508.9" cy="336.6" r="2.6" fill="rgb(58,153,130)" fill-opacity="0.93"/>
<circle cx="256.2" cy="384.1" r="2.6" fill="rgb(58,153,130)" fill-opacity="0.93"/>
<circle cx="295.5" cy="265.2" r="2.6" fill="rgb(51,157,130)" fill-opacity="0.93"/>
<circle cx="292.7" cy="277.1" r="2.6" fill="rgb(51,157,130)" fill-opacity="0.93"/>
<circle cx="479.5" cy="272.2" r="2.6" fill="rgb(51,157,130)" fill-opacity="0.93"/>
<circle cx="293.7" cy="285.7" r="2.6" fill="rgb(51,158,130)" fill-opacity="0.93"/>
<circle cx="290.7" cy="197.4" r="2.6" fill="rgb(58,154,129)" fill-opacity="0.93"/>
<circle cx="295.2" cy="281.4" r="2.6" fill="rgb(51,158,130)" fill-opacity="0.93"/>
<circle cx="298.8" cy="269.9" r="2.6" fill="rgb(51,158,130)" fill-opacity="0.93"/>
<circle cx="292.3" cy="295.0" r="2.6" fill="rgb(51,158,130)" fill-opacity="0.94"/>
<circle cx="279.2" cy="216.2" r="2.6" fill="rgb(58,154,129)" fill-opacity="0.94"/>
<circle cx="294.5" cy="288.5" r="2.6" fill="rgb(51,158,130)" fill-opacity="0.94"/>
<circle cx="473.4" cy="260.7" r="2.6" fill="rgb(51,158,130)" fill-opacity="0.94"/>
<circle cx="266.9" cy="416.4" r="2.6" fill="rgb(58,154,129)" fill-opacity="0.94"/>
<circle cx="476.6" cy="278.7" r="2.6" fill="rgb(51,158,130)" fill-opacity="0.94"/>
<circle cx="450.5" cy="152.5" r="2.6" fill="rgb(58,154,129)" fill-opacity="0.94"/>
<circle cx="475.9" cy="282.2" r="2.6" fill="rgb(51,158,130)" fill-opacity="0.94"/>
<circle cx="302.3" cy="276.3" r="2.6" fill="rgb(52,159,130)" fill-opacity="0.94"/>
<circle cx="506.6" cy="357.2" r="2.6" fill="rgb(59,155,129)" fill-opacity="0.94"/>
<circle cx="505.4" cy="291.6" r="2.6" fill="rgb(59,155,129)" fill-opacity="0.94"/>
<circle cx="470.2" cy="265.4" r="2.6" fill="rgb(52,159,130)" fill-opacity="0.94"/>
<circle cx="474.5" cy="288.7" r="2.6" fill="rgb(52,159,130)" fill-opacity="0.94"/>
<circle cx="309.9" cy="264.9" r="2.6" fill="rgb(52,159,130)" fill-opacity="0.94"/>
<circle cx="304.5" cy="282.8" r="2.6" fill="rgb(52,159,130)" fill-opacity="0.94"/>
<circle cx="470.2" cy="272.2" r="2.6" fill="rgb(52,159,130)" fill-opacity="0.94"/>
<circle cx="490.7" cy="223.7" r="2.6" fill="rgb(59,155,129)" fill-opacity="0.94"/>
<circle cx="304.5" cy="286.4" r="2.6" fill="rgb(52,159,130)" fill-opacity="0.94"/>
<circle cx="303.1" cy="295.0" r="2.6" fill="rgb(52,159,130)" fill-opacity="0.94"/>
<circle cx="304.5" cy="289.2" r="2.6" fill="rgb(52,159,130)" fill-opacity="0.94"/>
<circle cx="257.0" cy="371.3" r="2.6" fill="rgb(60,156,129)" fill-opacity="0.94"/>
<circle cx="469.5" cy="277.9" r="2.6" fill="rgb(52,160,130)" fill-opacity="0.94"/>
<circle cx="312.7" cy="269.5" r="2.6" fill="rgb(52,160,130)" fill-opacity="0.94"/>
<circle cx="461.2" cy="255.7" r="2.6" fill="rgb(52,160,130)" fill-opacity="0.94"/>
<circle cx="254.4" cy="338.3" r="2.6" fill="rgb(60,156,129)" fill-opacity="0.94"/>
<circle cx="313.1" cy="276.3" r="2.6" fill="rgb(52,160,130)" fill-opacity="0.94"/>
<circle cx="486.4" cy="448.6" r="2.6" fill="rgb(60,156,129)" fill-opacity="0.94"/>
<circle cx="465.9" cy="275.1" r="2.6" fill="rgb(52,160,130)" fill-opacity="0.94"/>
<circle cx="313.1" cy="281.4" r="2.6" fill="rgb(52,160,130)" fill-opacity="0.94"/>
<circle cx="313.5" cy="285.7" r="2.6" fill="rgb(53,160,129)" fill-opacity="0.94"/>
<circle cx="284.4" cy="446.3" r="2.6" fill="rgb(60,157,129)" fill-opacity="0.95"/>
<circle cx="313.8" cy="288.5" r="2.6" fill="rgb(53,160,129)" fill-opacity="0.95"/>
<circle cx="464.4" cy="283.0" r="2.6" fill="rgb(53,160,129)" fill-opacity="0.95"/>
<circle cx="463.0" cy="278.7" r="2.6" fill="rgb(53,160,129)" fill-opacity="0.95"/>
<circle cx="314.5" cy="295.0" r="2.6" fill="rgb(53,160,129)" fill-opacity="0.95"/>
<circle cx="460.9" cy="272.2" r="2.6" fill="rgb(53,160,129)" fill-opacity="0.95"/>
<circle cx="457.3" cy="261.5" r="2.6" fill="rgb(53,160,129)" fill-opacity="0.95"/>
<circle cx="321.3" cy="275.3" r="2.6" fill="rgb(53,160,129)" fill-opacity="0.95"/>
<circle cx="324.6" cy="269.2" r="2.6" fill="rgb(53,160,129)" fill-opacity="0.95"/>
<circle cx="464.4" cy="289.4" r="2.6" fill="rgb(53,160,129)" fill-opacity="0.95"/>
<circle cx="320.3" cy="279.9" r="2.6" fill="rgb(53,160,129)" fill-opacity="0.95"/>
<circle cx="457.6" cy="265.0" r="2.6" fill="rgb(53,160,129)" fill-opacity="0.95"/>
<circle cx="326.7" cy="265.2" r="2.6" fill="rgb(53,160,129)" fill-opacity="0.95"/>
<circle cx="504.2" cy="301.3" r="2.6" fill="rgb(60,157,129)" fill-opacity="0.95"/>
<circle cx="309.5" cy="478.8" r="2.6" fill="rgb(60,157,129)" fill-opacity="0.95"/>
<circle cx="322.4" cy="284.2" r="2.6" fill="rgb(54,161,129)" fill-opacity="0.95"/>
<circle cx="323.1" cy="287.1" r="2.6" fill="rgb(54,161,129)" fill-opacity="0.95"/>
<circle cx="455.8" cy="272.9" r="2.6" fill="rgb(54,161,129)" fill-opacity="0.95"/>
<circle cx="257.8" cy="304.9" r="2.6" fill="rgb(61,158,129)" fill-opacity="0.95"/>
<circle cx="329.6" cy="273.8" r="2.6" fill="rgb(54,161,129)" fill-opacity="0.95"/>
<circle cx="457.3" cy="278.7" r="2.6" fill="rgb(54,161,129)" fill-opacity="0.95"/>
<circle cx="327.4" cy="279.2" r="2.6" fill="rgb(54,161,129)" fill-opacity="0.95"/>
<circle cx="324.6" cy="293.5" r="2.6" fill="rgb(54,161,129)" fill-opacity="0.95"/>
<circle cx="334.6" cy="268.5" r="2.6" fill="rgb(54,161,129)" fill-opacity="0.95"/>
<circle cx="482.8" cy="452.5" r="2.6" fill="rgb(61,158,129)" fill-opacity="0.95"/>
<circle cx="455.8" cy="282.2" r="2.6" fill="rgb(54,161,129)" fill-opacity="0.95"/>
<circle cx="304.0" cy="470.5" r="2.6" fill="rgb(61,158,129)" fill-opacity="0.95"/>
<circle cx="330.3" cy="283.5" r="2.6" fill="rgb(54,161,129)" fill-opacity="0.95"/>
<circle cx="451.5" cy="272.2" r="2.6" fill="rgb(54,161,129)" fill-opacity="0.95"/>
<circle cx="330.3" cy="285.7" r="2.6" fill="rgb(54,161,129)" fill-opacity="0.95"/>
<circle cx="333.2" cy="279.2" r="2.6" fill="rgb(55,162,129)" fill-opacity="0.95"/>
<circle cx="337.5" cy="274.2" r="2.6" fill="rgb(55,162,129)" fill-opacity="0.95"/>
<circle cx="443.7" cy="257.9" r="2.6" fill="rgb(55,162,129)" fill-opacity="0.95"/>
<circle cx="455.1" cy="288.7" r="2.6" fill="rgb(55,162,129)" fill-opacity="0.95"/>
<circle cx="446.5" cy="265.8" r="2.6" fill="rgb(55,162,129)" fill-opacity="0.95"/>
<circle cx="343.2" cy="267.4" r="2.6" fill="rgb(55,162,129)" fill-opacity="0.95"/>
<circle cx="336.0" cy="282.8" r="2.6" fill="rgb(55,162,129)" fill-opacity="0.95"/>
<circle cx="332.8" cy="291.7" r="2.6" fill="rgb(55,162,129)" fill-opacity="0.95"/>
<circle cx="450.1" cy="278.7" r="2.6" fill="rgb(55,162,129)" fill-opacity="0.95"/>
<circle cx="338.9" cy="278.1" r="2.6" fill="rgb(55,162,129)" fill-opacity="0.95"/>
<circle cx="447.2" cy="274.4" r="2.6" fill="rgb(55,162,129)" fill-opacity="0.95"/>
<circle cx="343.9" cy="274.9" r="2.6" fill="rgb(55,162,129)" fill-opacity="0.95"/>
<circle cx="446.5" cy="276.5" r="2.6" fill="rgb(55,162,129)" fill-opacity="0.96"/>
<circle cx="448.7" cy="282.2" r="2.6" fill="rgb(55,162,129)" fill-opacity="0.96"/>
<circle cx="487.4" cy="437.7" r="2.6" fill="rgb(62,159,128)" fill-opacity="0.96"/>
<circle cx="349.3" cy="268.5" r="2.6" fill="rgb(55,162,129)" fill-opacity="0.96"/>
<circle cx="342.5" cy="281.4" r="2.6" fill="rgb(55,162,129)" fill-opacity="0.96"/>
<circle cx="344.6" cy="277.4" r="2.6" fill="rgb(55,162,129)" fill-opacity="0.96"/>
<circle cx="440.4" cy="265.0" r="2.6" fill="rgb(55,162,129)" fill-opacity="0.96"/>
<circle cx="442.9" cy="271.5" r="2.6" fill="rgb(56,163,128)" fill-opacity="0.96"/>
<circle cx="340.7" cy="289.2" r="2.6" fill="rgb(56,163,128)" fill-opacity="0.96"/>
<circle cx="346.8" cy="278.5" r="2.6" fill="rgb(56,163,128)" fill-opacity="0.96"/>
<circle cx="354.0" cy="272.8" r="2.6" fill="rgb(56,163,128)" fill-opacity="0.96"/>
<circle cx="441.5" cy="277.2" r="2.6" fill="rgb(56,163,128)" fill-opacity="0.96"/>
<circle cx="346.8" cy="286.0" r="2.6" fill="rgb(56,163,128)" fill-opacity="0.96"/>
<circle cx="445.8" cy="288.0" r="2.6" fill="rgb(56,163,128)" fill-opacity="0.96"/>
<circle cx="437.9" cy="272.9" r="2.6" fill="rgb(56,163,128)" fill-opacity="0.96"/>
<circle cx="345.4" cy="294.6" r="2.6" fill="rgb(56,163,128)" fill-opacity="0.96"/>
<circle cx="440.8" cy="280.8" r="2.6" fill="rgb(56,163,128)" fill-opacity="0.96"/>
<circle cx="354.0" cy="279.9" r="2.6" fill="rgb(56,163,128)" fill-opacity="0.96"/>
<circle cx="494.0" cy="252.5" r="2.6" fill="rgb(63,159,128)" fill-opacity="0.96"/>
<circle cx="431.1" cy="266.5" r="2.6" fill="rgb(56,163,128)" fill-opacity="0.96"/>
<circle cx="358.0" cy="152.5" r="2.6" fill="rgb(64,160,128)" fill-opacity="0.96"/>
<circle cx="270.8" cy="258.8" r="2.6" fill="rgb(64,160,128)" fill-opacity="0.96"/>
<circle cx="436.5" cy="277.9" r="2.6" fill="rgb(57,164,128)" fill-opacity="0.96"/>
<circle cx="425.7" cy="262.9" r="2.6" fill="rgb(57,164,128)" fill-opacity="0.96"/>
<circle cx="433.3" cy="274.4" r="2.6" fill="rgb(57,164,128)" fill-opacity="0.96"/>
<circle cx="478.9" cy="208.1" r="2.6" fill="rgb(64,160,128)" fill-opacity="0.96"/>
<circle cx="353.6" cy="291.4" r="2.6" fill="rgb(57,164,128)" fill-opacity="0.96"/>
<circle cx="262.0" cy="359.6" r="2.6" fill="rgb(64,160,128)" fill-opacity="0.96"/>
<circle cx="438.6" cy="286.5" r="2.6" fill="rgb(57,164,128)" fill-opacity="0.96"/>
<circle cx="431.5" cy="276.5" r="2.6" fill="rgb(57,164,128)" fill-opacity="0.96"/>
<circle cx="422.2" cy="269.0" r="2.6" fill="rgb(57,164,128)" fill-opacity="0.96"/>
<circle cx="506.8" cy="378.8" r="2.6" fill="rgb(48,168,128)" fill-opacity="0.96"/>
<circle cx="507.9" cy="367.9" r="2.6" fill="rgb(48,168,128)" fill-opacity="0.96"/>
<circle cx="422.9" cy="272.2" r="2.6" fill="rgb(57,164,128)" fill-opacity="0.96"/>
<circle cx="432.2" cy="283.7" r="2.6" fill="rgb(57,164,128)" fill-opacity="0.96"/>
<circle cx="325.1" cy="485.9" r="2.6" fill="rgb(64,160,128)" fill-opacity="0.96"/>
<circle cx="424.3" cy="278.3" r="2.6" fill="rgb(57,165,128)" fill-opacity="0.96"/>
<circle cx="493.6" cy="406.4" r="2.6" fill="rgb(65,161,128)" fill-opacity="0.96"/>
<circle cx="427.2" cy="288.3" r="2.6" fill="rgb(57,165,128)" fill-opacity="0.97"/>
<circle cx="420.7" cy="283.7" r="2.6" fill="rgb(57,165,128)" fill-opacity="0.97"/>
<circle cx="269.1" cy="387.7" r="2.6" fill="rgb(65,161,128)" fill-opacity="0.97"/>
<circle cx="502.1" cy="392.0" r="2.6" fill="rgb(49,169,128)" fill-opacity="0.97"/>
<circle cx="320.1" cy="479.1" r="2.6" fill="rgb(66,162,127)" fill-opacity="0.97"/>
<circle cx="278.2" cy="246.3" r="2.6" fill="rgb(66,162,127)" fill-opacity="0.97"/>
<circle cx="302.4" cy="458.8" r="2.6" fill="rgb(66,162,127)" fill-opacity="0.97"/>
<circle cx="466.4" cy="189.0" r="2.6" fill="rgb(66,162,127)" fill-opacity="0.97"/>
<circle cx="273.5" cy="400.6" r="2.6" fill="rgb(66,162,127)" fill-opacity="0.97"/>
<circle cx="500.3" cy="346.3" r="2.6" fill="rgb(66,162,127)" fill-opacity="0.97"/>
<circle cx="268.0" cy="377.1" r="2.6" fill="rgb(66,162,127)" fill-opacity="0.97"/>
<circle cx="487.0" cy="426.8" r="2.6" fill="rgb(67,163,127)" fill-opacity="0.97"/>
<circle cx="288.3" cy="433.9" r="2.6" fill="rgb(67,163,127)" fill-opacity="0.97"/>
<circle cx="264.1" cy="322.5" r="2.6" fill="rgb(67,163,127)" fill-opacity="0.97"/>
<circle cx="332.9" cy="173.3" r="2.6" fill="rgb(67,163,127)" fill-opacity="0.97"/>
<circle cx="287.9" cy="228.7" r="2.6" fill="rgb(67,163,127)" fill-opacity="0.97"/>
<circle cx="500.3" cy="372.3" r="2.6" fill="rgb(51,171,127)" fill-opacity="0.97"/>
<circle cx="471.9" cy="462.2" r="2.6" fill="rgb(67,163,127)" fill-opacity="0.97"/>
<circle cx="421.0" cy="151.0" r="2.6" fill="rgb(67,163,127)" fill-opacity="0.97"/>
<circle cx="336.8" cy="490.1" r="2.6" fill="rgb(67,163,127)" fill-opacity="0.97"/>
<circle cx="498.0" cy="382.6" r="2.6" fill="rgb(51,171,127)" fill-opacity="0.97"/>
<circle cx="266.9" cy="299.2" r="2.6" fill="rgb(67,163,127)" fill-opacity="0.97"/>
<circle cx="314.0" cy="192.4" r="2.6" fill="rgb(67,163,127)" fill-opacity="0.97"/>
<circle cx="469.5" cy="465.0" r="2.6" fill="rgb(68,164,127)" fill-opacity="0.97"/>
<circle cx="497.6" cy="362.7" r="2.6" fill="rgb(68,164,127)" fill-opacity="0.97"/>
<circle cx="496.8" cy="295.1" r="2.6" fill="rgb(68,164,127)" fill-opacity="0.98"/>
<circle cx="497.4" cy="365.0" r="2.6" fill="rgb(52,172,126)" fill-opacity="0.98"/>
<circle cx="390.2" cy="151.3" r="2.6" fill="rgb(68,164,127)" fill-opacity="0.98"/>
<circle cx="492.7" cy="394.3" r="2.6" fill="rgb(52,172,126)" fill-opacity="0.98"/>
<circle cx="447.9" cy="170.8" r="2.6" fill="rgb(68,164,127)" fill-opacity="0.98"/>
<circle cx="300.8" cy="212.3" r="2.6" fill="rgb(69,165,127)" fill-opacity="0.98"/>
<circle cx="497.9" cy="320.9" r="2.6" fill="rgb(69,165,127)" fill-opacity="0.98"/>
<circle cx="282.8" cy="414.3" r="2.6" fill="rgb(69,165,127)" fill-opacity="0.98"/>
<circle cx="335.3" cy="485.4" r="2.6" fill="rgb(69,165,127)" fill-opacity="0.98"/>
<circle cx="485.0" cy="240.8" r="2.6" fill="rgb(69,165,127)" fill-opacity="0.98"/>
<circle cx="474.2" cy="452.5" r="2.6" fill="rgb(69,165,127)" fill-opacity="0.98"/>
<circle cx="350.1" cy="494.0" r="2.6" fill="rgb(70,166,126)" fill-opacity="0.98"/>
<circle cx="490.9" cy="374.4" r="2.6" fill="rgb(54,174,125)" fill-opacity="0.98"/>
<circle cx="489.2" cy="384.9" r="2.6" fill="rgb(54,174,125)" fill-opacity="0.98"/>
<circle cx="319.2" cy="468.6" r="2.6" fill="rgb(70,166,126)" fill-opacity="0.98"/>
<circle cx="484.5" cy="394.9" r="2.6" fill="rgb(56,175,124)" fill-opacity="0.99"/>
<circle cx="488.0" cy="367.1" r="2.6" fill="rgb(56,175,124)" fill-opacity="0.99"/>
<circle cx="273.0" cy="365.8" r="2.6" fill="rgb(71,166,126)" fill-opacity="0.99"/>
<circle cx="290.6" cy="392.9" r="2.6" fill="rgb(56,175,124)" fill-opacity="0.99"/>
<circle cx="294.7" cy="401.9" r="2.6" fill="rgb(57,176,124)" fill-opacity="0.99"/>
<circle cx="484.5" cy="378.5" r="2.6" fill="rgb(57,176,124)" fill-opacity="0.99"/>
<circle cx="458.6" cy="473.6" r="2.6" fill="rgb(72,167,126)" fill-opacity="0.99"/>
<circle cx="271.9" cy="309.2" r="2.6" fill="rgb(72,167,126)" fill-opacity="0.99"/>
<circle cx="351.2" cy="490.9" r="2.6" fill="rgb(72,167,126)" fill-opacity="0.99"/>
<circle cx="271.6" cy="345.5" r="2.6" fill="rgb(72,167,126)" fill-opacity="0.99"/>
<circle cx="304.8" cy="447.0" r="2.6" fill="rgb(72,167,126)" fill-opacity="0.99"/>
<circle cx="482.1" cy="387.3" r="2.6" fill="rgb(57,176,124)" fill-opacity="0.99"/>
<circle cx="279.7" cy="390.9" r="2.6" fill="rgb(72,167,126)" fill-opacity="0.99"/>
<circle cx="277.7" cy="381.0" r="2.6" fill="rgb(72,167,126)" fill-opacity="0.99"/>
<circle cx="291.8" cy="375.0" r="2.6" fill="rgb(57,176,124)" fill-opacity="0.99"/>
<circle cx="481.0" cy="382.6" r="2.6" fill="rgb(57,176,124)" fill-opacity="0.99"/>
<circle cx="295.6" cy="386.4" r="2.6" fill="rgb(58,176,123)" fill-opacity="0.99"/>
<circle cx="298.2" cy="394.6" r="2.6" fill="rgb(58,176,123)" fill-opacity="0.99"/>
<circle cx="481.5" cy="371.2" r="2.6" fill="rgb(58,176,123)" fill-opacity="0.99"/>
<circle cx="478.0" cy="393.7" r="2.6" fill="rgb(58,176,123)" fill-opacity="0.99"/>
<circle cx="302.3" cy="401.1" r="2.6" fill="rgb(58,176,123)" fill-opacity="0.99"/>
<circle cx="478.6" cy="386.1" r="2.6" fill="rgb(58,176,123)" fill-opacity="0.99"/>
<circle cx="334.5" cy="477.2" r="2.6" fill="rgb(74,168,125)" fill-opacity="0.99"/>
<circle cx="369.4" cy="497.1" r="2.6" fill="rgb(74,168,125)" fill-opacity="0.99"/>
<circle cx="482.7" cy="419.7" r="2.6" fill="rgb(74,168,125)" fill-opacity="0.99"/>
<circle cx="284.9" cy="402.3" r="2.6" fill="rgb(74,168,125)" fill-opacity="0.99"/>
<circle cx="473.8" cy="222.2" r="2.6" fill="rgb(74,168,125)" fill-opacity="0.99"/>
<circle cx="295.4" cy="426.9" r="2.6" fill="rgb(74,168,125)" fill-opacity="0.99"/>
<circle cx="301.7" cy="392.3" r="2.6" fill="rgb(58,176,123)" fill-opacity="0.99"/>
<circle cx="299.4" cy="379.1" r="2.6" fill="rgb(60,177,122)" fill-opacity="0.99"/>
<circle cx="473.9" cy="399.0" r="2.6" fill="rgb(60,177,122)" fill-opacity="0.99"/>
<circle cx="302.9" cy="388.8" r="2.6" fill="rgb(60,177,122)" fill-opacity="0.99"/>
<circle cx="476.3" cy="381.4" r="2.6" fill="rgb(60,177,122)" fill-opacity="1.00"/>
<circle cx="475.1" cy="389.6" r="2.6" fill="rgb(60,177,122)" fill-opacity="1.00"/>
<circle cx="476.9" cy="376.1" r="2.6" fill="rgb(60,177,122)" fill-opacity="1.00"/>
<circle cx="462.5" cy="463.8" r="2.6" fill="rgb(75,169,125)" fill-opacity="1.00"/>
<circle cx="448.4" cy="481.5" r="2.6" fill="rgb(75,169,125)" fill-opacity="1.00"/>
<circle cx="485.4" cy="404.9" r="2.6" fill="rgb(75,169,125)" fill-opacity="1.00"/>
<circle cx="307.6" cy="395.8" r="2.6" fill="rgb(60,177,122)" fill-opacity="1.00"/>
<circle cx="304.7" cy="383.5" r="2.6" fill="rgb(60,177,122)" fill-opacity="1.00"/>
<circle cx="473.9" cy="385.5" r="2.6" fill="rgb(60,177,122)" fill-opacity="1.00"/>
<circle cx="307.6" cy="391.7" r="2.6" fill="rgb(60,177,122)" fill-opacity="1.00"/>
<circle cx="287.5" cy="257.5" r="2.6" fill="rgb(75,169,125)" fill-opacity="1.00"/>
<circle cx="475.1" cy="366.2" r="2.6" fill="rgb(61,178,122)" fill-opacity="1.00"/>
<circle cx="474.5" cy="439.3" r="2.6" fill="rgb(76,170,125)" fill-opacity="1.00"/>
<circle cx="312.3" cy="400.5" r="2.6" fill="rgb(61,178,122)" fill-opacity="1.00"/>
<circle cx="308.8" cy="387.6" r="2.6" fill="rgb(61,178,122)" fill-opacity="1.00"/>
<circle cx="491.3" cy="305.3" r="2.6" fill="rgb(76,170,125)" fill-opacity="1.00"/>
<circle cx="470.4" cy="394.3" r="2.6" fill="rgb(61,178,122)" fill-opacity="1.00"/>
<circle cx="441.1" cy="486.6" r="2.6" fill="rgb(76,170,125)" fill-opacity="1.00"/>
<circle cx="469.2" cy="398.4" r="2.6" fill="rgb(61,178,122)" fill-opacity="1.00"/>
<circle cx="307.0" cy="372.9" r="2.6" fill="rgb(61,178,122)" fill-opacity="1.00"/>
<circle cx="470.4" cy="389.6" r="2.6" fill="rgb(61,178,122)" fill-opacity="1.00"/>
<circle cx="471.6" cy="380.8" r="2.6" fill="rgb(61,178,122)" fill-opacity="1.00"/>
<circle cx="362.8" cy="172.1" r="2.6" fill="rgb(76,170,125)" fill-opacity="1.00"/>
<circle cx="313.4" cy="395.2" r="2.6" fill="rgb(61,178,122)" fill-opacity="1.00"/>
<circle cx="313.4" cy="391.1" r="2.6" fill="rgb(61,178,122)" fill-opacity="1.00"/>
<circle cx="371.0" cy="494.0" r="2.6" fill="rgb(76,170,125)" fill-opacity="1.00"/>
<circle cx="469.2" cy="384.9" r="2.6" fill="rgb(61,178,122)" fill-opacity="1.00"/>
<circle cx="278.5" cy="302.1" r="2.6" fill="rgb(77,171,124)" fill-opacity="1.00"/>
<circle cx="470.4" cy="372.6" r="2.6" fill="rgb(62,179,121)" fill-opacity="1.00"/>
<circle cx="314.6" cy="386.4" r="2.6" fill="rgb(62,179,121)" fill-opacity="1.00"/>
<circle cx="313.4" cy="380.0" r="2.6" fill="rgb(62,179,121)" fill-opacity="1.00"/>
<circle cx="319.3" cy="399.3" r="2.6" fill="rgb(62,179,121)" fill-opacity="1.00"/>
<circle cx="293.0" cy="412.3" r="2.6" fill="rgb(77,171,124)" fill-opacity="1.00"/>
<circle cx="468.7" cy="377.3" r="2.6" fill="rgb(62,179,121)" fill-opacity="1.00"/>
<circle cx="319.3" cy="394.6" r="2.6" fill="rgb(62,179,121)" fill-opacity="1.00"/>
<circle cx="352.2" cy="483.8" r="2.6" fill="rgb(77,171,124)" fill-opacity="1.00"/>
<circle cx="319.3" cy="390.5" r="2.6" fill="rgb(62,179,121)" fill-opacity="1.00"/>
<circle cx="320.9" cy="457.5" r="2.6" fill="rgb(77,171,124)" fill-opacity="1.00"/>
<circle cx="466.9" cy="380.8" r="2.6" fill="rgb(62,179,121)" fill-opacity="1.00"/>
<circle cx="465.7" cy="389.6" r="2.6" fill="rgb(62,179,121)" fill-opacity="1.00"/>
<circle cx="430.4" cy="491.6" r="2.6" fill="rgb(77,171,124)" fill-opacity="1.00"/>
<circle cx="464.5" cy="394.3" r="2.6" fill="rgb(62,179,121)" fill-opacity="1.00"/>
<circle cx="320.5" cy="385.8" r="2.6" fill="rgb(62,179,121)" fill-opacity="1.00"/>
<circle cx="460.6" cy="205.7" r="2.6" fill="rgb(79,172,124)" fill-opacity="1.00"/>
<circle cx="464.5" cy="384.9" r="2.6" fill="rgb(64,180,120)" fill-opacity="1.00"/>
<circle cx="489.7" cy="354.1" r="2.6" fill="rgb(79,172,124)" fill-opacity="1.00"/>
<circle cx="392.1" cy="497.1" r="2.6" fill="rgb(79,172,124)" fill-opacity="1.00"/>
<circle cx="297.2" cy="244.4" r="2.6" fill="rgb(79,172,124)" fill-opacity="1.00"/>
<circle cx="326.3" cy="398.1" r="2.6" fill="rgb(64,180,120)" fill-opacity="1.00"/>
<circle cx="325.2" cy="394.0" r="2.6" fill="rgb(64,180,120)" fill-opacity="1.00"/>
<circle cx="339.7" cy="190.1" r="2.6" fill="rgb(79,172,124)" fill-opacity="1.00"/>
<circle cx="325.2" cy="390.5" r="2.6" fill="rgb(64,180,120)" fill-opacity="1.00"/>
<circle cx="282.8" cy="371.0" r="2.6" fill="rgb(79,172,124)" fill-opacity="1.00"/>
<circle cx="461.0" cy="399.0" r="2.6" fill="rgb(64,180,120)" fill-opacity="1.00"/>
<circle cx="450.8" cy="473.2" r="2.6" fill="rgb(79,172,124)" fill-opacity="1.00"/>
<circle cx="326.3" cy="385.8" r="2.6" fill="rgb(64,180,120)" fill-opacity="1.00"/>
<circle cx="308.7" cy="225.8" r="2.6" fill="rgb(79,172,124)" fill-opacity="1.00"/>
<circle cx="462.2" cy="381.4" r="2.6" fill="rgb(64,180,120)" fill-opacity="1.00"/>
<circle cx="325.2" cy="375.9" r="2.6" fill="rgb(64,180,120)" fill-opacity="1.00"/>
<circle cx="461.0" cy="389.6" r="2.6" fill="rgb(64,180,120)" fill-opacity="1.00"/>
<circle cx="326.9" cy="382.3" r="2.6" fill="rgb(65,181,120)" fill-opacity="1.00"/>
<circle cx="420.3" cy="170.5" r="2.6" fill="rgb(80,172,124)" fill-opacity="1.00"/>
<circle cx="433.6" cy="487.7" r="2.6" fill="rgb(80,172,124)" fill-opacity="1.00"/>
<circle cx="333.4" cy="402.8" r="2.6" fill="rgb(65,181,120)" fill-opacity="1.00"/>
<circle cx="331.0" cy="393.4" r="2.6" fill="rgb(65,181,120)" fill-opacity="1.00"/>
<circle cx="414.0" cy="495.6" r="2.6" fill="rgb(80,172,124)" fill-opacity="1.00"/>
<circle cx="478.8" cy="252.5" r="2.6" fill="rgb(80,172,124)" fill-opacity="1.00"/>
<circle cx="332.2" cy="397.5" r="2.6" fill="rgb(65,181,120)" fill-opacity="1.00"/>
<circle cx="331.0" cy="390.5" r="2.6" fill="rgb(65,181,120)" fill-opacity="1.00"/>
<circle cx="489.3" cy="335.8" r="2.6" fill="rgb(80,172,124)" fill-opacity="1.00"/>
<circle cx="459.9" cy="385.5" r="2.6" fill="rgb(65,181,120)" fill-opacity="1.00"/>
<circle cx="458.7" cy="394.3" r="2.6" fill="rgb(65,181,120)" fill-opacity="1.00"/>
<circle cx="289.6" cy="392.9" r="2.6" fill="rgb(80,172,124)" fill-opacity="1.00"/>
<circle cx="322.8" cy="208.9" r="2.6" fill="rgb(80,172,124)" fill-opacity="1.00"/>
<circle cx="461.6" cy="370.3" r="2.6" fill="rgb(65,181,120)" fill-opacity="1.00"/>
<circle cx="332.2" cy="386.4" r="2.6" fill="rgb(65,181,120)" fill-opacity="1.00"/>
<circle cx="459.9" cy="376.7" r="2.6" fill="rgb(65,181,120)" fill-opacity="1.00"/>
<circle cx="282.1" cy="354.4" r="2.6" fill="rgb(80,172,124)" fill-opacity="1.00"/>
<circle cx="443.7" cy="187.7" r="2.6" fill="rgb(80,172,124)" fill-opacity="1.00"/>
<circle cx="309.9" cy="437.3" r="2.6" fill="rgb(80,172,124)" fill-opacity="1.00"/>
<circle cx="336.3" cy="394.6" r="2.6" fill="rgb(65,181,120)" fill-opacity="1.00"/>
<circle cx="334.5" cy="385.2" r="2.6" fill="rgb(65,181,120)" fill-opacity="1.00"/>
<circle cx="338.1" cy="400.5" r="2.6" fill="rgb(67,182,119)" fill-opacity="1.00"/>
<circle cx="457.5" cy="381.4" r="2.6" fill="rgb(67,182,119)" fill-opacity="1.00"/>
<circle cx="338.1" cy="396.4" r="2.6" fill="rgb(67,182,119)" fill-opacity="1.00"/>
<circle cx="336.9" cy="389.9" r="2.6" fill="rgb(67,182,119)" fill-opacity="1.00"/>
<circle cx="455.8" cy="389.6" r="2.6" fill="rgb(67,182,119)" fill-opacity="1.00"/>
<circle cx="486.2" cy="297.8" r="2.6" fill="rgb(82,173,123)" fill-opacity="1.00"/>
<circle cx="338.1" cy="387.6" r="2.6" fill="rgb(67,182,119)" fill-opacity="1.00"/>
<circle cx="288.3" cy="382.6" r="2.6" fill="rgb(82,173,123)" fill-opacity="1.00"/>
<circle cx="393.6" cy="494.0" r="2.6" fill="rgb(82,173,123)" fill-opacity="1.00"/>
<circle cx="454.0" cy="399.0" r="2.6" fill="rgb(67,182,119)" fill-opacity="1.00"/>
<circle cx="455.2" cy="385.5" r="2.6" fill="rgb(67,182,119)" fill-opacity="1.00"/>
<circle cx="392.1" cy="172.1" r="2.6" fill="rgb(82,173,123)" fill-opacity="1.00"/>
<circle cx="336.8" cy="466.9" r="2.6" fill="rgb(82,173,123)" fill-opacity="1.00"/>
<circle cx="341.6" cy="393.4" r="2.6" fill="rgb(67,182,119)" fill-opacity="1.00"/>
<circle cx="462.5" cy="452.5" r="2.6" fill="rgb(82,173,123)" fill-opacity="1.00"/>
<circle cx="452.8" cy="395.5" r="2.6" fill="rgb(69,182,118)" fill-opacity="1.00"/>
<circle cx="342.8" cy="389.9" r="2.6" fill="rgb(69,182,118)" fill-opacity="1.00"/>
<circle cx="341.6" cy="378.8" r="2.6" fill="rgb(69,182,118)" fill-opacity="1.00"/>
<circle cx="345.7" cy="401.7" r="2.6" fill="rgb(69,182,118)" fill-opacity="1.00"/>
<circle cx="343.9" cy="387.6" r="2.6" fill="rgb(69,182,118)" fill-opacity="1.00"/>
<circle cx="471.7" cy="431.9" r="2.6" fill="rgb(83,174,123)" fill-opacity="1.00"/>
<circle cx="342.2" cy="370.6" r="2.6" fill="rgb(69,182,118)" fill-opacity="1.00"/>
<circle cx="303.7" cy="421.1" r="2.6" fill="rgb(83,174,123)" fill-opacity="1.00"/>
<circle cx="452.8" cy="381.4" r="2.6" fill="rgb(69,182,118)" fill-opacity="1.00"/>
<circle cx="346.3" cy="394.6" r="2.6" fill="rgb(69,182,118)" fill-opacity="1.00"/>
<circle cx="415.6" cy="491.6" r="2.6" fill="rgb(83,174,123)" fill-opacity="1.00"/>
<circle cx="346.3" cy="388.8" r="2.6" fill="rgb(69,182,118)" fill-opacity="1.00"/>
<circle cx="373.3" cy="486.9" r="2.6" fill="rgb(83,174,123)" fill-opacity="1.00"/>
<circle cx="483.9" cy="290.8" r="2.6" fill="rgb(83,174,123)" fill-opacity="1.00"/>
<circle cx="283.9" cy="328.7" r="2.6" fill="rgb(83,174,123)" fill-opacity="1.00"/>
<circle cx="450.5" cy="390.2" r="2.6" fill="rgb(69,182,118)" fill-opacity="1.00"/>
<circle cx="348.6" cy="397.0" r="2.6" fill="rgb(69,182,118)" fill-opacity="1.00"/>
<circle cx="436.7" cy="481.0" r="2.6" fill="rgb(83,174,123)" fill-opacity="1.00"/>
<circle cx="450.5" cy="386.1" r="2.6" fill="rgb(69,182,118)" fill-opacity="1.00"/>
<circle cx="348.6" cy="390.5" r="2.6" fill="rgb(70,183,117)" fill-opacity="1.00"/>
<circle cx="476.4" cy="414.3" r="2.6" fill="rgb(85,175,122)" fill-opacity="1.00"/>
<circle cx="351.5" cy="392.3" r="2.6" fill="rgb(70,183,117)" fill-opacity="1.00"/>
<circle cx="449.3" cy="377.9" r="2.6" fill="rgb(70,183,117)" fill-opacity="1.00"/>
<circle cx="478.4" cy="402.9" r="2.6" fill="rgb(85,175,122)" fill-opacity="1.00"/>
<circle cx="447.0" cy="382.6" r="2.6" fill="rgb(72,184,117)" fill-opacity="1.00"/>
<circle cx="445.8" cy="395.5" r="2.6" fill="rgb(72,184,117)" fill-opacity="1.00"/>
<circle cx="354.5" cy="389.3" r="2.6" fill="rgb(72,184,117)" fill-opacity="1.00"/>
<circle cx="301.6" cy="409.6" r="2.6" fill="rgb(86,176,122)" fill-opacity="1.00"/>
<circle cx="448.7" cy="373.8" r="2.6" fill="rgb(72,184,117)" fill-opacity="1.00"/>
<circle cx="445.2" cy="386.1" r="2.6" fill="rgb(72,184,117)" fill-opacity="1.00"/>
<circle cx="444.6" cy="390.8" r="2.6" fill="rgb(72,184,117)" fill-opacity="1.00"/>
<circle cx="357.4" cy="389.3" r="2.6" fill="rgb(72,184,117)" fill-opacity="1.00"/>
<circle cx="357.4" cy="384.7" r="2.6" fill="rgb(72,184,117)" fill-opacity="1.00"/>
<circle cx="288.0" cy="312.3" r="2.6" fill="rgb(86,176,122)" fill-opacity="1.00"/>
<circle cx="357.4" cy="376.4" r="2.6" fill="rgb(72,184,117)" fill-opacity="1.00"/>
<circle cx="359.2" cy="396.4" r="2.6" fill="rgb(72,184,117)" fill-opacity="1.00"/>
<circle cx="360.3" cy="402.8" r="2.6" fill="rgb(74,185,116)" fill-opacity="1.00"/>
<circle cx="360.3" cy="391.7" r="2.6" fill="rgb(74,185,116)" fill-opacity="1.00"/>
<circle cx="354.5" cy="473.2" r="2.6" fill="rgb(88,177,122)" fill-opacity="1.00"/>
<circle cx="451.1" cy="462.7" r="2.6" fill="rgb(88,177,122)" fill-opacity="1.00"/>
<circle cx="442.3" cy="383.8" r="2.6" fill="rgb(74,185,116)" fill-opacity="1.00"/>
<circle cx="290.7" cy="303.7" r="2.6" fill="rgb(88,177,122)" fill-opacity="1.00"/>
<circle cx="360.3" cy="370.6" r="2.6" fill="rgb(74,185,116)" fill-opacity="1.00"/>
<circle cx="363.3" cy="392.3" r="2.6" fill="rgb(74,185,116)" fill-opacity="1.00"/>
<circle cx="418.7" cy="485.9" r="2.6" fill="rgb(88,177,122)" fill-opacity="1.00"/>
<circle cx="447.0" cy="365.9" r="2.6" fill="rgb(75,186,115)" fill-opacity="1.00"/>
<circle cx="467.4" cy="241.6" r="2.6" fill="rgb(89,178,121)" fill-opacity="1.00"/>
<circle cx="304.8" cy="256.4" r="2.6" fill="rgb(89,178,121)" fill-opacity="1.00"/>
<circle cx="439.3" cy="387.3" r="2.6" fill="rgb(75,186,115)" fill-opacity="1.00"/>
<circle cx="366.6" cy="189.6" r="2.6" fill="rgb(89,178,121)" fill-opacity="1.00"/>
<circle cx="292.2" cy="361.6" r="2.6" fill="rgb(89,178,121)" fill-opacity="1.00"/>
<circle cx="325.8" cy="444.8" r="2.6" fill="rgb(89,178,121)" fill-opacity="1.00"/>
<circle cx="396.0" cy="486.9" r="2.6" fill="rgb(89,178,121)" fill-opacity="1.00"/>
<circle cx="456.6" cy="220.9" r="2.6" fill="rgb(89,178,121)" fill-opacity="1.00"/>
<circle cx="316.5" cy="429.5" r="2.6" fill="rgb(89,178,121)" fill-opacity="1.00"/>
<circle cx="481.1" cy="359.6" r="2.6" fill="rgb(89,178,121)" fill-opacity="1.00"/>
<circle cx="437.0" cy="382.6" r="2.6" fill="rgb(77,187,114)" fill-opacity="1.00"/>
<circle cx="435.2" cy="397.8" r="2.6" fill="rgb(77,187,114)" fill-opacity="1.00"/>
<circle cx="437.6" cy="377.9" r="2.6" fill="rgb(77,187,114)" fill-opacity="1.00"/>
<circle cx="311.0" cy="416.4" r="2.6" fill="rgb(91,178,121)" fill-opacity="1.00"/>
<circle cx="371.5" cy="389.3" r="2.6" fill="rgb(77,187,114)" fill-opacity="1.00"/>
<circle cx="433.5" cy="393.1" r="2.6" fill="rgb(77,187,114)" fill-opacity="1.00"/>
<circle cx="372.1" cy="381.7" r="2.6" fill="rgb(77,187,114)" fill-opacity="1.00"/>
<circle cx="432.9" cy="389.0" r="2.6" fill="rgb(79,188,113)" fill-opacity="1.00"/>
<circle cx="329.0" cy="224.2" r="2.6" fill="rgb(92,179,120)" fill-opacity="1.00"/>
<circle cx="345.9" cy="207.6" r="2.6" fill="rgb(92,179,120)" fill-opacity="1.00"/>
<circle cx="418.2" cy="188.2" r="2.6" fill="rgb(92,179,120)" fill-opacity="1.00"/>
<circle cx="373.8" cy="395.2" r="2.6" fill="rgb(79,188,113)" fill-opacity="1.00"/>
<circle cx="460.2" cy="442.3" r="2.6" fill="rgb(92,179,120)" fill-opacity="1.00"/>
<circle cx="327.6" cy="441.7" r="2.6" fill="rgb(92,179,120)" fill-opacity="1.00"/>
<circle cx="375.0" cy="402.8" r="2.6" fill="rgb(79,188,113)" fill-opacity="1.00"/>
<circle cx="431.7" cy="384.3" r="2.6" fill="rgb(79,188,113)" fill-opacity="1.00"/>
<circle cx="373.2" cy="375.9" r="2.6" fill="rgb(79,188,113)" fill-opacity="1.00"/>
<circle cx="308.7" cy="406.5" r="2.6" fill="rgb(92,179,120)" fill-opacity="1.00"/>
<circle cx="294.9" cy="343.1" r="2.6" fill="rgb(92,179,120)" fill-opacity="1.00"/>
<circle cx="436.4" cy="373.2" r="2.6" fill="rgb(79,188,113)" fill-opacity="1.00"/>
<circle cx="471.0" cy="409.6" r="2.6" fill="rgb(94,180,120)" fill-opacity="1.00"/>
<circle cx="317.7" cy="244.7" r="2.6" fill="rgb(94,180,120)" fill-opacity="1.00"/>
<circle cx="439.8" cy="205.4" r="2.6" fill="rgb(94,180,120)" fill-opacity="1.00"/>
<circle cx="467.0" cy="423.3" r="2.6" fill="rgb(94,180,120)" fill-opacity="1.00"/>
<circle cx="341.5" cy="455.2" r="2.6" fill="rgb(94,180,120)" fill-opacity="1.00"/>
<circle cx="392.9" cy="189.8" r="2.6" fill="rgb(94,180,120)" fill-opacity="1.00"/>
<circle cx="437.0" cy="470.2" r="2.6" fill="rgb(94,180,120)" fill-opacity="1.00"/>
<circle cx="479.2" cy="346.3" r="2.6" fill="rgb(94,180,120)" fill-opacity="1.00"/>
<circle cx="375.6" cy="476.8" r="2.6" fill="rgb(94,180,120)" fill-opacity="1.00"/>
<circle cx="478.4" cy="317.0" r="2.6" fill="rgb(94,180,120)" fill-opacity="1.00"/>
<circle cx="375.0" cy="371.2" r="2.6" fill="rgb(82,189,112)" fill-opacity="1.00"/>
<circle cx="300.5" cy="366.9" r="2.6" fill="rgb(96,181,119)" fill-opacity="1.00"/>
<circle cx="329.3" cy="438.6" r="2.6" fill="rgb(96,181,119)" fill-opacity="1.00"/>
<circle cx="476.4" cy="306.0" r="2.6" fill="rgb(96,181,119)" fill-opacity="1.00"/>
<circle cx="474.1" cy="291.2" r="2.6" fill="rgb(96,181,119)" fill-opacity="1.00"/>
<circle cx="423.5" cy="394.3" r="2.6" fill="rgb(82,189,112)" fill-opacity="1.00"/>
<circle cx="423.5" cy="388.4" r="2.6" fill="rgb(82,189,112)" fill-opacity="1.00"/>
<circle cx="423.5" cy="382.6" r="2.6" fill="rgb(84,190,111)" fill-opacity="1.00"/>
<circle cx="474.5" cy="299.0" r="2.6" fill="rgb(97,182,119)" fill-opacity="1.00"/>
<circle cx="317.3" cy="411.2" r="2.6" fill="rgb(99,183,118)" fill-opacity="1.00"/>
<circle cx="303.7" cy="303.8" r="2.6" fill="rgb(99,183,118)" fill-opacity="1.00"/>
<circle cx="331.1" cy="435.4" r="2.6" fill="rgb(99,183,118)" fill-opacity="1.00"/>
<circle cx="322.8" cy="421.4" r="2.6" fill="rgb(99,183,118)" fill-opacity="1.00"/>
<circle cx="422.9" cy="376.7" r="2.6" fill="rgb(86,191,110)" fill-opacity="1.00"/>
<circle cx="304.0" cy="312.0" r="2.6" fill="rgb(101,184,117)" fill-opacity="1.00"/>
<circle cx="432.9" cy="366.8" r="2.6" fill="rgb(88,192,109)" fill-opacity="1.00"/>
<circle cx="304.8" cy="352.8" r="2.6" fill="rgb(101,184,117)" fill-opacity="1.00"/>
<circle cx="448.4" cy="451.3" r="2.6" fill="rgb(101,184,117)" fill-opacity="1.00"/>
<circle cx="418.7" cy="475.2" r="2.6" fill="rgb(101,184,117)" fill-opacity="1.00"/>
<circle cx="467.0" cy="404.9" r="2.6" fill="rgb(101,184,117)" fill-opacity="1.00"/>
<circle cx="370.5" cy="208.1" r="2.6" fill="rgb(101,184,117)" fill-opacity="1.00"/>
<circle cx="358.0" cy="460.3" r="2.6" fill="rgb(101,184,117)" fill-opacity="1.00"/>
<circle cx="305.5" cy="322.6" r="2.6" fill="rgb(102,184,117)" fill-opacity="1.00"/>
<circle cx="397.9" cy="476.3" r="2.6" fill="rgb(102,184,117)" fill-opacity="1.00"/>
<circle cx="332.8" cy="432.2" r="2.6" fill="rgb(102,184,117)" fill-opacity="1.00"/>
<circle cx="459.0" cy="254.9" r="2.6" fill="rgb(102,184,117)" fill-opacity="1.00"/>
<circle cx="473.7" cy="328.3" r="2.6" fill="rgb(102,184,117)" fill-opacity="1.00"/>
<circle cx="351.2" cy="223.7" r="2.6" fill="rgb(102,184,117)" fill-opacity="1.00"/>
<circle cx="463.1" cy="415.8" r="2.6" fill="rgb(102,184,117)" fill-opacity="1.00"/>
<circle cx="324.3" cy="258.5" r="2.6" fill="rgb(104,185,116)" fill-opacity="1.00"/>
<circle cx="416.7" cy="207.0" r="2.6" fill="rgb(104,185,116)" fill-opacity="1.00"/>
<circle cx="436.4" cy="221.8" r="2.6" fill="rgb(106,186,116)" fill-opacity="1.00"/>
<circle cx="345.1" cy="444.0" r="2.6" fill="rgb(106,186,116)" fill-opacity="1.00"/>
<circle cx="464.7" cy="402.5" r="2.6" fill="rgb(106,186,116)" fill-opacity="1.00"/>
<circle cx="334.4" cy="429.0" r="2.6" fill="rgb(106,186,116)" fill-opacity="1.00"/>
<circle cx="449.6" cy="242.3" r="2.6" fill="rgb(106,186,116)" fill-opacity="1.00"/>
<circle cx="394.0" cy="208.9" r="2.6" fill="rgb(106,186,116)" fill-opacity="1.00"/>
<circle cx="312.6" cy="359.6" r="2.6" fill="rgb(106,186,116)" fill-opacity="1.00"/>
<circle cx="311.0" cy="334.2" r="2.6" fill="rgb(106,186,116)" fill-opacity="1.00"/>
<circle cx="328.2" cy="415.1" r="2.6" fill="rgb(108,187,115)" fill-opacity="1.00"/>
<circle cx="338.1" cy="245.5" r="2.6" fill="rgb(108,187,115)" fill-opacity="1.00"/>
<circle cx="470.6" cy="352.9" r="2.6" fill="rgb(108,187,115)" fill-opacity="1.00"/>
<circle cx="455.7" cy="430.4" r="2.6" fill="rgb(108,187,115)" fill-opacity="1.00"/>
<circle cx="463.9" cy="291.2" r="2.6" fill="rgb(108,187,115)" fill-opacity="1.00"/>
<circle cx="461.6" cy="409.6" r="2.6" fill="rgb(108,187,115)" fill-opacity="1.00"/>
<circle cx="346.1" cy="440.6" r="2.6" fill="rgb(110,188,115)" fill-opacity="1.00"/>
<circle cx="336.0" cy="425.8" r="2.6" fill="rgb(110,188,115)" fill-opacity="1.00"/>
<circle cx="316.8" cy="303.1" r="2.6" fill="rgb(110,188,115)" fill-opacity="1.00"/>
<circle cx="421.2" cy="368.5" r="2.6" fill="rgb(98,196,104)" fill-opacity="1.00"/>
<circle cx="434.3" cy="458.0" r="2.6" fill="rgb(111,188,114)" fill-opacity="1.00"/>
<circle cx="319.3" cy="367.9" r="2.6" fill="rgb(111,188,114)" fill-opacity="1.00"/>
<circle cx="318.4" cy="310.4" r="2.6" fill="rgb(111,188,114)" fill-opacity="1.00"/>
<circle cx="454.4" cy="427.1" r="2.6" fill="rgb(111,188,114)" fill-opacity="1.00"/>
<circle cx="460.8" cy="403.3" r="2.6" fill="rgb(111,188,114)" fill-opacity="1.00"/>
<circle cx="374.1" cy="224.5" r="2.6" fill="rgb(111,188,114)" fill-opacity="1.00"/>
<circle cx="462.7" cy="298.6" r="2.6" fill="rgb(111,188,114)" fill-opacity="1.00"/>
<circle cx="337.6" cy="422.6" r="2.6" fill="rgb(113,189,113)" fill-opacity="1.00"/>
<circle cx="318.4" cy="344.4" r="2.6" fill="rgb(113,189,113)" fill-opacity="1.00"/>
<circle cx="347.0" cy="437.1" r="2.6" fill="rgb(113,189,113)" fill-opacity="1.00"/>
<circle cx="378.8" cy="463.5" r="2.6" fill="rgb(113,189,113)" fill-opacity="1.00"/>
<circle cx="319.6" cy="318.2" r="2.6" fill="rgb(113,189,113)" fill-opacity="1.00"/>
<circle cx="463.1" cy="305.3" r="2.6" fill="rgb(113,189,113)" fill-opacity="1.00"/>
<circle cx="465.5" cy="361.5" r="2.6" fill="rgb(115,190,113)" fill-opacity="1.00"/>
<circle cx="415.2" cy="223.4" r="2.6" fill="rgb(115,190,113)" fill-opacity="1.00"/>
<circle cx="444.6" cy="441.6" r="2.6" fill="rgb(115,190,113)" fill-opacity="1.00"/>
<circle cx="339.2" cy="419.4" r="2.6" fill="rgb(115,190,113)" fill-opacity="1.00"/>
<circle cx="466.3" cy="338.1" r="2.6" fill="rgb(115,190,113)" fill-opacity="1.00"/>
<circle cx="463.5" cy="313.9" r="2.6" fill="rgb(115,190,113)" fill-opacity="1.00"/>
<circle cx="453.1" cy="423.7" r="2.6" fill="rgb(115,190,113)" fill-opacity="1.00"/>
<circle cx="394.7" cy="225.3" r="2.6" fill="rgb(115,190,113)" fill-opacity="1.00"/>
<circle cx="343.9" cy="260.0" r="2.6" fill="rgb(115,190,113)" fill-opacity="1.00"/>
<circle cx="348.1" cy="433.7" r="2.6" fill="rgb(117,191,112)" fill-opacity="1.00"/>
<circle cx="323.5" cy="328.4" r="2.6" fill="rgb(117,191,112)" fill-opacity="1.00"/>
<circle cx="324.6" cy="351.3" r="2.6" fill="rgb(117,191,112)" fill-opacity="1.00"/>
<circle cx="358.0" cy="247.0" r="2.6" fill="rgb(117,191,112)" fill-opacity="1.00"/>
<circle cx="328.2" cy="301.8" r="2.6" fill="rgb(117,191,112)" fill-opacity="1.00"/>
<circle cx="336.8" cy="405.7" r="2.6" fill="rgb(119,192,111)" fill-opacity="1.00"/>
<circle cx="340.7" cy="416.1" r="2.6" fill="rgb(119,192,111)" fill-opacity="1.00"/>
<circle cx="456.2" cy="405.6" r="2.6" fill="rgb(119,192,111)" fill-opacity="1.00"/>
<circle cx="329.8" cy="307.6" r="2.6" fill="rgb(119,192,111)" fill-opacity="1.00"/>
<circle cx="363.9" cy="447.8" r="2.6" fill="rgb(119,192,111)" fill-opacity="1.00"/>
<circle cx="349.5" cy="430.3" r="2.6" fill="rgb(121,192,110)" fill-opacity="1.00"/>
<circle cx="451.9" cy="420.3" r="2.6" fill="rgb(121,192,110)" fill-opacity="1.00"/>
<circle cx="430.8" cy="245.9" r="2.6" fill="rgb(121,192,110)" fill-opacity="1.00"/>
<circle cx="443.8" cy="438.1" r="2.6" fill="rgb(121,192,110)" fill-opacity="1.00"/>
<circle cx="417.6" cy="461.9" r="2.6" fill="rgb(121,192,110)" fill-opacity="1.00"/>
<circle cx="342.1" cy="412.8" r="2.6" fill="rgb(121,192,110)" fill-opacity="1.00"/>
<circle cx="329.8" cy="336.2" r="2.6" fill="rgb(123,193,110)" fill-opacity="1.00"/>
<circle cx="331.8" cy="359.6" r="2.6" fill="rgb(123,193,110)" fill-opacity="1.00"/>
<circle cx="332.1" cy="315.1" r="2.6" fill="rgb(123,193,110)" fill-opacity="1.00"/>
<circle cx="398.8" cy="462.7" r="2.6" fill="rgb(123,193,110)" fill-opacity="1.00"/>
<circle cx="337.6" cy="299.2" r="2.6" fill="rgb(123,193,110)" fill-opacity="1.00"/>
<circle cx="350.8" cy="427.0" r="2.6" fill="rgb(125,194,109)" fill-opacity="1.00"/>
<circle cx="450.9" cy="416.9" r="2.6" fill="rgb(125,194,109)" fill-opacity="1.00"/>
<circle cx="343.6" cy="409.5" r="2.6" fill="rgb(125,194,109)" fill-opacity="1.00"/>
<circle cx="378.0" cy="248.6" r="2.6" fill="rgb(125,194,109)" fill-opacity="1.00"/>
<circle cx="451.5" cy="297.8" r="2.6" fill="rgb(125,194,109)" fill-opacity="1.00"/>
<circle cx="443.0" cy="434.6" r="2.6" fill="rgb(125,194,109)" fill-opacity="1.00"/>
<circle cx="334.2" cy="343.9" r="2.6" fill="rgb(125,194,109)" fill-opacity="1.00"/>
<circle cx="335.3" cy="322.6" r="2.6" fill="rgb(125,194,109)" fill-opacity="1.00"/>
<circle cx="362.7" cy="263.5" r="2.6" fill="rgb(126,195,108)" fill-opacity="1.00"/>
<circle cx="460.8" cy="345.9" r="2.6" fill="rgb(126,195,108)" fill-opacity="1.00"/>
<circle cx="355.6" cy="272.9" r="2.6" fill="rgb(126,195,108)" fill-opacity="1.00"/>
<circle cx="340.0" cy="304.9" r="2.6" fill="rgb(126,195,108)" fill-opacity="1.00"/>
<circle cx="459.0" cy="323.3" r="2.6" fill="rgb(126,195,108)" fill-opacity="1.00"/>
<circle cx="412.3" cy="247.8" r="2.6" fill="rgb(126,195,108)" fill-opacity="1.00"/>
<circle cx="345.0" cy="406.2" r="2.6" fill="rgb(126,195,108)" fill-opacity="1.00"/>
<circle cx="352.1" cy="423.7" r="2.6" fill="rgb(128,195,108)" fill-opacity="1.00"/>
<circle cx="449.8" cy="413.4" r="2.6" fill="rgb(128,195,108)" fill-opacity="1.00"/>
<circle cx="395.6" cy="249.4" r="2.6" fill="rgb(128,195,108)" fill-opacity="1.00"/>
<circle cx="362.3" cy="269.7" r="2.6" fill="rgb(128,195,108)" fill-opacity="1.00"/>
<circle cx="366.1" cy="442.7" r="2.6" fill="rgb(128,195,108)" fill-opacity="1.00"/>
<circle cx="451.5" cy="304.1" r="2.6" fill="rgb(128,195,108)" fill-opacity="1.00"/>
<circle cx="342.3" cy="310.4" r="2.6" fill="rgb(128,195,108)" fill-opacity="1.00"/>
<circle cx="346.1" cy="402.7" r="2.6" fill="rgb(128,195,108)" fill-opacity="1.00"/>
<circle cx="339.2" cy="330.5" r="2.6" fill="rgb(130,196,107)" fill-opacity="1.00"/>
<circle cx="442.3" cy="431.0" r="2.6" fill="rgb(130,196,107)" fill-opacity="1.00"/>
<circle cx="342.3" cy="369.7" r="2.6" fill="rgb(130,196,107)" fill-opacity="1.00"/>
<circle cx="353.5" cy="420.3" r="2.6" fill="rgb(130,196,107)" fill-opacity="1.00"/>
<circle cx="448.8" cy="410.0" r="2.6" fill="rgb(130,196,107)" fill-opacity="1.00"/>
<circle cx="347.1" cy="399.3" r="2.6" fill="rgb(130,196,107)" fill-opacity="1.00"/>
<circle cx="431.2" cy="445.5" r="2.6" fill="rgb(130,196,107)" fill-opacity="1.00"/>
<circle cx="379.6" cy="265.4" r="2.6" fill="rgb(132,197,106)" fill-opacity="1.00"/>
<circle cx="341.5" cy="350.6" r="2.6" fill="rgb(132,197,106)" fill-opacity="1.00"/>
<circle cx="349.4" cy="302.6" r="2.6" fill="rgb(132,197,106)" fill-opacity="1.00"/>
<circle cx="343.9" cy="318.2" r="2.6" fill="rgb(132,197,106)" fill-opacity="1.00"/>
<circle cx="457.8" cy="345.9" r="2.6" fill="rgb(132,197,106)" fill-opacity="1.00"/>
<circle cx="442.9" cy="295.5" r="2.6" fill="rgb(132,197,106)" fill-opacity="1.00"/>
<circle cx="451.5" cy="311.1" r="2.6" fill="rgb(132,197,106)" fill-opacity="1.00"/>
<circle cx="368.2" cy="277.7" r="2.6" fill="rgb(132,197,106)" fill-opacity="1.00"/>
<circle cx="366.9" cy="439.2" r="2.6" fill="rgb(132,197,106)" fill-opacity="1.00"/>
<circle cx="362.7" cy="285.0" r="2.6" fill="rgb(132,197,106)" fill-opacity="1.00"/>
<circle cx="348.1" cy="395.8" r="2.6" fill="rgb(132,197,106)" fill-opacity="1.00"/>
<circle cx="343.1" cy="337.0" r="2.6" fill="rgb(134,198,105)" fill-opacity="1.00"/>
<circle cx="394.4" cy="265.4" r="2.6" fill="rgb(134,198,105)" fill-opacity="1.00"/>
<circle cx="379.2" cy="272.9" r="2.6" fill="rgb(134,198,105)" fill-opacity="1.00"/>
<circle cx="409.5" cy="265.2" r="2.6" fill="rgb(134,198,105)" fill-opacity="1.00"/>
<circle cx="441.5" cy="427.5" r="2.6" fill="rgb(134,198,105)" fill-opacity="1.00"/>
<circle cx="354.5" cy="416.9" r="2.6" fill="rgb(134,198,105)" fill-opacity="1.00"/>
<circle cx="447.8" cy="406.5" r="2.6" fill="rgb(134,198,105)" fill-opacity="1.00"/>
<circle cx="349.2" cy="392.4" r="2.6" fill="rgb(134,198,105)" fill-opacity="1.00"/>
<circle cx="356.4" cy="298.7" r="2.6" fill="rgb(134,198,105)" fill-opacity="1.00"/>
<circle cx="381.9" cy="449.7" r="2.6" fill="rgb(134,198,105)" fill-opacity="1.00"/>
<circle cx="455.5" cy="331.5" r="2.6" fill="rgb(136,198,104)" fill-opacity="1.00"/>
<circle cx="346.7" cy="325.2" r="2.6" fill="rgb(133,201,97)" fill-opacity="1.00"/>
<circle cx="350.1" cy="314.3" r="2.6" fill="rgb(136,198,104)" fill-opacity="1.00"/>
<circle cx="365.1" cy="292.0" r="2.6" fill="rgb(136,198,104)" fill-opacity="1.00"/>
<circle cx="381.1" cy="278.7" r="2.6" fill="rgb(136,198,104)" fill-opacity="1.00"/>
<circle cx="442.6" cy="301.3" r="2.6" fill="rgb(136,198,104)" fill-opacity="1.00"/>
<circle cx="408.1" cy="272.1" r="2.6" fill="rgb(136,198,104)" fill-opacity="1.00"/>
<circle cx="447.0" cy="403.0" r="2.6" fill="rgb(136,198,104)" fill-opacity="1.00"/>
<circle cx="394.4" cy="273.6" r="2.6" fill="rgb(136,198,104)" fill-opacity="1.00"/>
<circle cx="435.5" cy="292.7" r="2.6" fill="rgb(136,198,104)" fill-opacity="1.00"/>
<circle cx="355.5" cy="413.4" r="2.6" fill="rgb(136,198,104)" fill-opacity="1.00"/>
<circle cx="367.7" cy="435.7" r="2.6" fill="rgb(138,199,103)" fill-opacity="1.00"/>
<circle cx="346.7" cy="344.1" r="2.6" fill="rgb(135,202,96)" fill-opacity="1.00"/>
<circle cx="415.9" cy="276.4" r="2.6" fill="rgb(138,199,103)" fill-opacity="1.00"/>
<circle cx="372.5" cy="286.9" r="2.6" fill="rgb(138,199,103)" fill-opacity="1.00"/>
<circle cx="347.6" cy="337.2" r="2.6" fill="rgb(135,202,96)" fill-opacity="1.00"/>
<circle cx="440.8" cy="424.0" r="2.6" fill="rgb(138,199,103)" fill-opacity="1.00"/>
<circle cx="395.2" cy="278.3" r="2.6" fill="rgb(138,199,103)" fill-opacity="1.00"/>
<circle cx="446.3" cy="399.5" r="2.6" fill="rgb(138,199,103)" fill-opacity="1.00"/>
<circle cx="407.7" cy="278.3" r="2.6" fill="rgb(140,200,103)" fill-opacity="1.00"/>
<circle cx="382.3" cy="284.6" r="2.6" fill="rgb(140,200,103)" fill-opacity="1.00"/>
<circle cx="453.4" cy="331.2" r="2.6" fill="rgb(137,203,95)" fill-opacity="1.00"/>
<circle cx="356.6" cy="410.0" r="2.6" fill="rgb(140,200,103)" fill-opacity="1.00"/>
<circle cx="450.0" cy="319.0" r="2.6" fill="rgb(140,200,103)" fill-opacity="1.00"/>
<circle cx="350.2" cy="331.2" r="2.6" fill="rgb(137,203,95)" fill-opacity="1.00"/>
<circle cx="428.1" cy="291.2" r="2.6" fill="rgb(140,200,103)" fill-opacity="1.00"/>
<circle cx="366.7" cy="299.2" r="2.6" fill="rgb(140,200,103)" fill-opacity="1.00"/>
<circle cx="445.6" cy="395.9" r="2.6" fill="rgb(142,200,102)" fill-opacity="1.00"/>
<circle cx="351.0" cy="358.7" r="2.6" fill="rgb(139,204,94)" fill-opacity="1.00"/>
<circle cx="350.2" cy="345.8" r="2.6" fill="rgb(139,204,94)" fill-opacity="1.00"/>
<circle cx="396.4" cy="283.4" r="2.6" fill="rgb(142,200,102)" fill-opacity="1.00"/>
<circle cx="368.5" cy="432.2" r="2.6" fill="rgb(142,200,102)" fill-opacity="1.00"/>
<circle cx="435.1" cy="298.6" r="2.6" fill="rgb(142,200,102)" fill-opacity="1.00"/>
<circle cx="416.3" cy="285.4" r="2.6" fill="rgb(142,200,102)" fill-opacity="1.00"/>
<circle cx="353.6" cy="321.7" r="2.6" fill="rgb(139,204,94)" fill-opacity="1.00"/>
<circle cx="442.9" cy="308.0" r="2.6" fill="rgb(142,200,102)" fill-opacity="1.00"/>
<circle cx="357.6" cy="406.5" r="2.6" fill="rgb(142,200,102)" fill-opacity="1.00"/>
<circle cx="440.1" cy="420.5" r="2.6" fill="rgb(142,200,102)" fill-opacity="1.00"/>
<circle cx="409.3" cy="284.2" r="2.6" fill="rgb(142,200,102)" fill-opacity="1.00"/>
<circle cx="374.9" cy="294.7" r="2.6" fill="rgb(142,200,102)" fill-opacity="1.00"/>
<circle cx="444.9" cy="392.4" r="2.6" fill="rgb(142,200,102)" fill-opacity="1.00"/>
<circle cx="351.9" cy="338.9" r="2.6" fill="rgb(141,204,93)" fill-opacity="1.00"/>
<circle cx="429.1" cy="438.4" r="2.6" fill="rgb(145,201,101)" fill-opacity="1.00"/>
<circle cx="360.8" cy="310.7" r="2.6" fill="rgb(145,201,101)" fill-opacity="1.00"/>
<circle cx="428.1" cy="294.7" r="2.6" fill="rgb(145,201,101)" fill-opacity="1.00"/>
<circle cx="358.3" cy="403.0" r="2.6" fill="rgb(145,201,101)" fill-opacity="1.00"/>
<circle cx="383.9" cy="291.6" r="2.6" fill="rgb(145,201,101)" fill-opacity="1.00"/>
<circle cx="420.6" cy="290.8" r="2.6" fill="rgb(145,201,101)" fill-opacity="1.00"/>
<circle cx="360.8" cy="411.9" r="2.6" fill="rgb(145,201,101)" fill-opacity="1.00"/>
<circle cx="415.1" cy="448.1" r="2.6" fill="rgb(147,202,100)" fill-opacity="1.00"/>
<circle cx="452.6" cy="353.6" r="2.6" fill="rgb(144,205,92)" fill-opacity="1.00"/>
<circle cx="359.0" cy="399.5" r="2.6" fill="rgb(147,202,100)" fill-opacity="1.00"/>
<circle cx="439.4" cy="416.9" r="2.6" fill="rgb(147,202,100)" fill-opacity="1.00"/>
<circle cx="369.2" cy="428.6" r="2.6" fill="rgb(147,202,100)" fill-opacity="1.00"/>
<circle cx="367.8" cy="306.6" r="2.6" fill="rgb(149,202,99)" fill-opacity="1.00"/>
<circle cx="359.7" cy="395.9" r="2.6" fill="rgb(149,202,99)" fill-opacity="1.00"/>
<circle cx="354.5" cy="343.2" r="2.6" fill="rgb(146,205,91)" fill-opacity="1.00"/>
<circle cx="450.9" cy="338.9" r="2.6" fill="rgb(146,205,91)" fill-opacity="1.00"/>
<circle cx="397.9" cy="291.2" r="2.6" fill="rgb(149,202,99)" fill-opacity="1.00"/>
<circle cx="355.3" cy="332.9" r="2.6" fill="rgb(146,205,91)" fill-opacity="1.00"/>
<circle cx="435.9" cy="304.9" r="2.6" fill="rgb(149,202,99)" fill-opacity="1.00"/>
<circle cx="399.1" cy="448.6" r="2.6" fill="rgb(149,202,99)" fill-opacity="1.00"/>
<circle cx="409.7" cy="291.2" r="2.6" fill="rgb(149,202,99)" fill-opacity="1.00"/>
<circle cx="355.3" cy="352.7" r="2.6" fill="rgb(146,205,91)" fill-opacity="1.00"/>
<circle cx="360.4" cy="392.4" r="2.6" fill="rgb(149,202,99)" fill-opacity="1.00"/>
<circle cx="416.3" cy="293.5" r="2.6" fill="rgb(149,202,99)" fill-opacity="1.00"/>
<circle cx="428.5" cy="434.9" r="2.6" fill="rgb(151,203,98)" fill-opacity="1.00"/>
<circle cx="361.6" cy="318.2" r="2.6" fill="rgb(151,203,98)" fill-opacity="1.00"/>
<circle cx="438.7" cy="413.4" r="2.6" fill="rgb(151,203,98)" fill-opacity="1.00"/>
<circle cx="376.4" cy="302.5" r="2.6" fill="rgb(151,203,98)" fill-opacity="1.00"/>
<circle cx="429.2" cy="301.3" r="2.6" fill="rgb(151,203,98)" fill-opacity="1.00"/>
<circle cx="422.6" cy="297.4" r="2.6" fill="rgb(151,203,98)" fill-opacity="1.00"/>
<circle cx="447.4" cy="326.0" r="2.6" fill="rgb(148,206,90)" fill-opacity="1.00"/>
<circle cx="442.6" cy="315.4" r="2.6" fill="rgb(151,203,98)" fill-opacity="1.00"/>
<circle cx="369.9" cy="425.1" r="2.6" fill="rgb(151,203,98)" fill-opacity="1.00"/>
<circle cx="357.0" cy="348.4" r="2.6" fill="rgb(150,207,88)" fill-opacity="1.00"/>
<circle cx="386.2" cy="299.2" r="2.6" fill="rgb(153,204,97)" fill-opacity="1.00"/>
<circle cx="357.9" cy="345.8" r="2.6" fill="rgb(150,207,88)" fill-opacity="1.00"/>
<circle cx="438.0" cy="409.9" r="2.6" fill="rgb(155,204,96)" fill-opacity="1.00"/>
<circle cx="361.2" cy="369.7" r="2.6" fill="rgb(155,204,96)" fill-opacity="1.00"/>
<circle cx="383.3" cy="438.5" r="2.6" fill="rgb(155,204,96)" fill-opacity="1.00"/>
<circle cx="370.6" cy="421.6" r="2.6" fill="rgb(155,204,96)" fill-opacity="1.00"/>
<circle cx="398.7" cy="297.4" r="2.6" fill="rgb(155,204,96)" fill-opacity="1.00"/>
<circle cx="362.2" cy="325.2" r="2.6" fill="rgb(152,207,87)" fill-opacity="1.00"/>
<circle cx="427.8" cy="431.3" r="2.6" fill="rgb(157,205,95)" fill-opacity="1.00"/>
<circle cx="437.3" cy="406.3" r="2.6" fill="rgb(157,205,95)" fill-opacity="1.00"/>
<circle cx="369.4" cy="314.4" r="2.6" fill="rgb(157,205,95)" fill-opacity="1.00"/>
<circle cx="410.1" cy="298.6" r="2.6" fill="rgb(157,205,95)" fill-opacity="1.00"/>
<circle cx="436.3" cy="312.3" r="2.6" fill="rgb(157,205,95)" fill-opacity="1.00"/>
<circle cx="362.2" cy="332.0" r="2.6" fill="rgb(157,209,85)" fill-opacity="1.00"/>
<circle cx="361.4" cy="338.1" r="2.6" fill="rgb(157,209,85)" fill-opacity="1.00"/>
<circle cx="371.3" cy="418.1" r="2.6" fill="rgb(159,206,94)" fill-opacity="1.00"/>
<circle cx="436.6" cy="402.8" r="2.6" fill="rgb(159,206,94)" fill-opacity="1.00"/>
<circle cx="383.9" cy="435.0" r="2.6" fill="rgb(161,206,93)" fill-opacity="1.00"/>
<circle cx="417.5" cy="301.6" r="2.6" fill="rgb(161,206,93)" fill-opacity="1.00"/>
<circle cx="436.5" cy="399.2" r="2.6" fill="rgb(161,206,93)" fill-opacity="1.00"/>
<circle cx="361.4" cy="350.1" r="2.6" fill="rgb(159,209,84)" fill-opacity="1.00"/>
<circle cx="436.5" cy="395.6" r="2.6" fill="rgb(161,206,93)" fill-opacity="1.00"/>
<circle cx="430.0" cy="308.6" r="2.6" fill="rgb(161,206,93)" fill-opacity="1.00"/>
<circle cx="436.5" cy="392.0" r="2.6" fill="rgb(161,206,93)" fill-opacity="1.00"/>
<circle cx="423.8" cy="304.9" r="2.6" fill="rgb(161,206,93)" fill-opacity="1.00"/>
<circle cx="427.2" cy="427.8" r="2.6" fill="rgb(161,206,93)" fill-opacity="1.00"/>
<circle cx="436.5" cy="388.4" r="2.6" fill="rgb(161,206,93)" fill-opacity="1.00"/>
<circle cx="362.2" cy="343.2" r="2.6" fill="rgb(159,209,84)" fill-opacity="1.00"/>
<circle cx="372.1" cy="414.5" r="2.6" fill="rgb(163,207,93)" fill-opacity="1.00"/>
<circle cx="362.2" cy="356.1" r="2.6" fill="rgb(161,210,83)" fill-opacity="1.00"/>
<circle cx="378.0" cy="310.7" r="2.6" fill="rgb(163,207,93)" fill-opacity="1.00"/>
<circle cx="436.1" cy="384.8" r="2.6" fill="rgb(163,207,93)" fill-opacity="1.00"/>
<circle cx="412.5" cy="438.9" r="2.6" fill="rgb(163,207,93)" fill-opacity="1.00"/>
<circle cx="435.8" cy="381.2" r="2.6" fill="rgb(166,207,92)" fill-opacity="1.00"/>
<circle cx="445.7" cy="345.8" r="2.6" fill="rgb(164,210,82)" fill-opacity="1.00"/>
<circle cx="372.8" cy="411.0" r="2.6" fill="rgb(166,207,92)" fill-opacity="1.00"/>
<circle cx="443.1" cy="332.9" r="2.6" fill="rgb(164,210,82)" fill-opacity="1.00"/>
<circle cx="384.6" cy="431.5" r="2.6" fill="rgb(166,207,92)" fill-opacity="1.00"/>
<circle cx="398.5" cy="439.0" r="2.6" fill="rgb(166,207,92)" fill-opacity="1.00"/>
<circle cx="364.8" cy="362.2" r="2.6" fill="rgb(166,211,80)" fill-opacity="1.00"/>
<circle cx="426.6" cy="424.3" r="2.6" fill="rgb(168,208,91)" fill-opacity="1.00"/>
<circle cx="387.4" cy="307.6" r="2.6" fill="rgb(168,208,91)" fill-opacity="1.00"/>
<circle cx="372.0" cy="386.3" r="2.6" fill="rgb(168,208,91)" fill-opacity="1.00"/>
<circle cx="436.3" cy="319.0" r="2.6" fill="rgb(168,208,91)" fill-opacity="1.00"/>
<circle cx="372.0" cy="389.8" r="2.6" fill="rgb(168,208,91)" fill-opacity="1.00"/>
<circle cx="370.8" cy="322.6" r="2.6" fill="rgb(166,211,80)" fill-opacity="1.00"/>
<circle cx="373.5" cy="407.5" r="2.6" fill="rgb(170,209,90)" fill-opacity="1.00"/>
<circle cx="372.5" cy="382.7" r="2.6" fill="rgb(170,209,90)" fill-opacity="1.00"/>
<circle cx="372.7" cy="393.3" r="2.6" fill="rgb(170,209,90)" fill-opacity="1.00"/>
<circle cx="435.4" cy="377.7" r="2.6" fill="rgb(170,209,90)" fill-opacity="1.00"/>
<circle cx="365.7" cy="345.8" r="2.6" fill="rgb(168,211,79)" fill-opacity="1.00"/>
<circle cx="412.3" cy="435.3" r="2.6" fill="rgb(170,209,90)" fill-opacity="1.00"/>
<circle cx="373.4" cy="396.9" r="2.6" fill="rgb(170,209,90)" fill-opacity="1.00"/>
<circle cx="373.0" cy="379.1" r="2.6" fill="rgb(172,209,89)" fill-opacity="1.00"/>
<circle cx="374.2" cy="403.9" r="2.6" fill="rgb(172,209,89)" fill-opacity="1.00"/>
<circle cx="426.2" cy="420.7" r="2.6" fill="rgb(172,209,89)" fill-opacity="1.00"/>
<circle cx="374.1" cy="400.4" r="2.6" fill="rgb(172,209,89)" fill-opacity="1.00"/>
<circle cx="385.2" cy="427.9" r="2.6" fill="rgb(172,209,89)" fill-opacity="1.00"/>
<circle cx="442.2" cy="338.9" r="2.6" fill="rgb(171,212,78)" fill-opacity="1.00"/>
<circle cx="399.9" cy="306.4" r="2.6" fill="rgb(172,209,89)" fill-opacity="1.00"/>
<circle cx="398.7" cy="435.4" r="2.6" fill="rgb(172,209,89)" fill-opacity="1.00"/>
<circle cx="411.3" cy="306.8" r="2.6" fill="rgb(174,210,88)" fill-opacity="1.00"/>
<circle cx="430.8" cy="316.2" r="2.6" fill="rgb(174,210,88)" fill-opacity="1.00"/>
<circle cx="366.5" cy="349.3" r="2.6" fill="rgb(173,212,77)" fill-opacity="1.00"/>
<circle cx="439.7" cy="331.2" r="2.6" fill="rgb(173,212,77)" fill-opacity="1.00"/>
<circle cx="373.5" cy="375.6" r="2.6" fill="rgb(174,210,88)" fill-opacity="1.00"/>
<circle cx="370.8" cy="329.5" r="2.6" fill="rgb(173,212,77)" fill-opacity="1.00"/>
<circle cx="437.9" cy="326.9" r="2.6" fill="rgb(173,212,77)" fill-opacity="1.00"/>
<circle cx="418.7" cy="309.2" r="2.6" fill="rgb(174,210,88)" fill-opacity="1.00"/>
<circle cx="424.9" cy="312.3" r="2.6" fill="rgb(174,210,88)" fill-opacity="1.00"/>
<circle cx="425.8" cy="417.1" r="2.6" fill="rgb(176,210,87)" fill-opacity="1.00"/>
<circle cx="435.1" cy="374.1" r="2.6" fill="rgb(176,210,87)" fill-opacity="1.00"/>
<circle cx="412.1" cy="431.7" r="2.6" fill="rgb(176,210,87)" fill-opacity="1.00"/>
<circle cx="385.8" cy="424.4" r="2.6" fill="rgb(176,210,87)" fill-opacity="1.00"/>
<circle cx="379.2" cy="318.6" r="2.6" fill="rgb(176,210,87)" fill-opacity="1.00"/>
<circle cx="370.8" cy="336.4" r="2.6" fill="rgb(178,214,74)" fill-opacity="1.00"/>
<circle cx="398.8" cy="431.8" r="2.6" fill="rgb(178,211,86)" fill-opacity="1.00"/>
<circle cx="425.5" cy="413.5" r="2.6" fill="rgb(178,211,86)" fill-opacity="1.00"/>
<circle cx="374.0" cy="372.0" r="2.6" fill="rgb(181,211,85)" fill-opacity="1.00"/>
<circle cx="386.2" cy="420.8" r="2.6" fill="rgb(183,212,84)" fill-opacity="1.00"/>
<circle cx="425.1" cy="409.9" r="2.6" fill="rgb(183,212,84)" fill-opacity="1.00"/>
<circle cx="437.9" cy="335.5" r="2.6" fill="rgb(182,215,72)" fill-opacity="1.00"/>
<circle cx="412.0" cy="428.2" r="2.6" fill="rgb(183,212,84)" fill-opacity="1.00"/>
<circle cx="369.1" cy="356.1" r="2.6" fill="rgb(182,215,72)" fill-opacity="1.00"/>
<circle cx="424.8" cy="406.3" r="2.6" fill="rgb(185,212,83)" fill-opacity="1.00"/>
<circle cx="399.0" cy="428.2" r="2.6" fill="rgb(185,212,83)" fill-opacity="1.00"/>
<circle cx="371.7" cy="342.4" r="2.6" fill="rgb(184,215,71)" fill-opacity="1.00"/>
<circle cx="432.8" cy="325.2" r="2.6" fill="rgb(184,215,71)" fill-opacity="1.00"/>
<circle cx="386.5" cy="417.2" r="2.6" fill="rgb(185,212,83)" fill-opacity="1.00"/>
<circle cx="389.0" cy="315.8" r="2.6" fill="rgb(187,213,82)" fill-opacity="1.00"/>
<circle cx="431.1" cy="323.4" r="2.6" fill="rgb(187,216,69)" fill-opacity="1.00"/>
<circle cx="424.4" cy="402.8" r="2.6" fill="rgb(187,213,82)" fill-opacity="1.00"/>
<circle cx="374.5" cy="368.5" r="2.6" fill="rgb(187,213,82)" fill-opacity="1.00"/>
<circle cx="434.5" cy="330.3" r="2.6" fill="rgb(187,216,69)" fill-opacity="1.00"/>
<circle cx="424.1" cy="399.2" r="2.6" fill="rgb(187,213,82)" fill-opacity="1.00"/>
<circle cx="411.8" cy="424.6" r="2.6" fill="rgb(187,213,82)" fill-opacity="1.00"/>
<circle cx="370.8" cy="351.0" r="2.6" fill="rgb(189,216,68)" fill-opacity="1.00"/>
<circle cx="423.8" cy="392.0" r="2.6" fill="rgb(189,214,81)" fill-opacity="1.00"/>
<circle cx="423.8" cy="395.6" r="2.6" fill="rgb(189,214,81)" fill-opacity="1.00"/>
<circle cx="383.5" cy="391.6" r="2.6" fill="rgb(189,214,81)" fill-opacity="1.00"/>
<circle cx="423.8" cy="388.4" r="2.6" fill="rgb(189,214,81)" fill-opacity="1.00"/>
<circle cx="426.5" cy="319.7" r="2.6" fill="rgb(189,214,81)" fill-opacity="1.00"/>
<circle cx="386.9" cy="413.6" r="2.6" fill="rgb(189,214,81)" fill-opacity="1.00"/>
<circle cx="423.8" cy="384.8" r="2.6" fill="rgb(189,214,81)" fill-opacity="1.00"/>
<circle cx="399.2" cy="424.6" r="2.6" fill="rgb(189,214,81)" fill-opacity="1.00"/>
<circle cx="379.4" cy="326.9" r="2.6" fill="rgb(189,216,68)" fill-opacity="1.00"/>
<circle cx="437.9" cy="344.1" r="2.6" fill="rgb(191,216,67)" fill-opacity="1.00"/>
<circle cx="387.2" cy="410.0" r="2.6" fill="rgb(191,214,80)" fill-opacity="1.00"/>
<circle cx="411.8" cy="421.0" r="2.6" fill="rgb(194,215,79)" fill-opacity="1.00"/>
<circle cx="423.6" cy="381.2" r="2.6" fill="rgb(194,215,79)" fill-opacity="1.00"/>
<circle cx="420.3" cy="317.4" r="2.6" fill="rgb(194,215,79)" fill-opacity="1.00"/>
<circle cx="401.5" cy="314.6" r="2.6" fill="rgb(194,215,79)" fill-opacity="1.00"/>
<circle cx="387.6" cy="406.5" r="2.6" fill="rgb(194,215,79)" fill-opacity="1.00"/>
<circle cx="412.4" cy="315.0" r="2.6" fill="rgb(194,215,79)" fill-opacity="1.00"/>
<circle cx="399.2" cy="421.0" r="2.6" fill="rgb(196,215,78)" fill-opacity="1.00"/>
<circle cx="387.4" cy="385.0" r="2.6" fill="rgb(196,215,78)" fill-opacity="1.00"/>
<circle cx="387.8" cy="388.5" r="2.6" fill="rgb(196,215,78)" fill-opacity="1.00"/>
<circle cx="388.0" cy="402.9" r="2.6" fill="rgb(196,215,78)" fill-opacity="1.00"/>
<circle cx="388.1" cy="392.1" r="2.6" fill="rgb(196,215,78)" fill-opacity="1.00"/>
<circle cx="387.3" cy="381.4" r="2.6" fill="rgb(196,215,78)" fill-opacity="1.00"/>
<circle cx="411.8" cy="417.4" r="2.6" fill="rgb(196,215,78)" fill-opacity="1.00"/>
<circle cx="434.5" cy="338.9" r="2.6" fill="rgb(196,217,65)" fill-opacity="1.00"/>
<circle cx="388.3" cy="399.3" r="2.6" fill="rgb(196,215,78)" fill-opacity="1.00"/>
<circle cx="388.5" cy="395.7" r="2.6" fill="rgb(198,216,77)" fill-opacity="1.00"/>
<circle cx="399.2" cy="417.4" r="2.6" fill="rgb(198,216,77)" fill-opacity="1.00"/>
<circle cx="438.8" cy="354.4" r="2.6" fill="rgb(201,218,63)" fill-opacity="1.00"/>
<circle cx="411.8" cy="413.8" r="2.6" fill="rgb(200,216,76)" fill-opacity="1.00"/>
<circle cx="422.9" cy="377.7" r="2.6" fill="rgb(200,216,76)" fill-opacity="1.00"/>
<circle cx="380.3" cy="334.6" r="2.6" fill="rgb(203,219,62)" fill-opacity="1.00"/>
<circle cx="387.6" cy="377.8" r="2.6" fill="rgb(202,217,76)" fill-opacity="1.00"/>
<circle cx="399.2" cy="413.8" r="2.6" fill="rgb(202,217,76)" fill-opacity="1.00"/>
<circle cx="411.9" cy="410.2" r="2.6" fill="rgb(202,217,76)" fill-opacity="1.00"/>
<circle cx="389.8" cy="323.4" r="2.6" fill="rgb(205,219,62)" fill-opacity="1.00"/>
<circle cx="412.0" cy="406.6" r="2.6" fill="rgb(204,217,75)" fill-opacity="1.00"/>
<circle cx="399.2" cy="410.2" r="2.6" fill="rgb(204,217,75)" fill-opacity="1.00"/>
<circle cx="427.6" cy="330.3" r="2.6" fill="rgb(205,219,62)" fill-opacity="1.00"/>
<circle cx="412.2" cy="403.0" r="2.6" fill="rgb(204,217,75)" fill-opacity="1.00"/>
<circle cx="422.5" cy="324.3" r="2.6" fill="rgb(207,220,61)" fill-opacity="1.00"/>
<circle cx="412.4" cy="399.4" r="2.6" fill="rgb(207,217,75)" fill-opacity="1.00"/>
<circle cx="412.5" cy="395.8" r="2.6" fill="rgb(207,217,75)" fill-opacity="1.00"/>
<circle cx="375.1" cy="357.9" r="2.6" fill="rgb(207,220,61)" fill-opacity="1.00"/>
<circle cx="412.1" cy="392.2" r="2.6" fill="rgb(207,217,75)" fill-opacity="1.00"/>
<circle cx="411.7" cy="388.6" r="2.6" fill="rgb(207,217,75)" fill-opacity="1.00"/>
<circle cx="399.4" cy="406.6" r="2.6" fill="rgb(207,217,75)" fill-opacity="1.00"/>
<circle cx="411.4" cy="385.0" r="2.6" fill="rgb(207,217,75)" fill-opacity="1.00"/>
<circle cx="399.5" cy="388.6" r="2.6" fill="rgb(209,218,74)" fill-opacity="1.00"/>
<circle cx="377.7" cy="363.9" r="2.6" fill="rgb(210,220,60)" fill-opacity="1.00"/>
<circle cx="399.5" cy="403.0" r="2.6" fill="rgb(209,218,74)" fill-opacity="1.00"/>
<circle cx="399.6" cy="392.2" r="2.6" fill="rgb(209,218,74)" fill-opacity="1.00"/>
<circle cx="399.3" cy="385.0" r="2.6" fill="rgb(209,218,74)" fill-opacity="1.00"/>
<circle cx="399.7" cy="399.4" r="2.6" fill="rgb(209,218,74)" fill-opacity="1.00"/>
<circle cx="399.8" cy="395.8" r="2.6" fill="rgb(209,218,74)" fill-opacity="1.00"/>
<circle cx="376.0" cy="353.6" r="2.6" fill="rgb(210,220,60)" fill-opacity="1.00"/>
<circle cx="387.9" cy="374.2" r="2.6" fill="rgb(211,218,74)" fill-opacity="1.00"/>
<circle cx="429.3" cy="337.2" r="2.6" fill="rgb(212,221,60)" fill-opacity="1.00"/>
<circle cx="411.1" cy="381.4" r="2.6" fill="rgb(211,218,74)" fill-opacity="1.00"/>
<circle cx="399.2" cy="381.4" r="2.6" fill="rgb(211,218,74)" fill-opacity="1.00"/>
<circle cx="380.3" cy="343.2" r="2.6" fill="rgb(214,221,60)" fill-opacity="1.00"/>
<circle cx="422.3" cy="374.1" r="2.6" fill="rgb(213,219,74)" fill-opacity="1.00"/>
<circle cx="431.1" cy="342.4" r="2.6" fill="rgb(217,221,59)" fill-opacity="1.00"/>
<circle cx="413.8" cy="323.4" r="2.6" fill="rgb(217,221,59)" fill-opacity="1.00"/>
<circle cx="402.7" cy="323.4" r="2.6" fill="rgb(219,222,60)" fill-opacity="1.00"/>
<circle cx="399.4" cy="377.8" r="2.6" fill="rgb(217,220,74)" fill-opacity="1.00"/>
<circle cx="411.1" cy="377.8" r="2.6" fill="rgb(219,220,74)" fill-opacity="1.00"/>
<circle cx="424.2" cy="333.8" r="2.6" fill="rgb(221,222,60)" fill-opacity="1.00"/>
<circle cx="432.8" cy="347.5" r="2.6" fill="rgb(221,222,60)" fill-opacity="1.00"/>
<circle cx="390.6" cy="332.9" r="2.6" fill="rgb(223,223,60)" fill-opacity="1.00"/>
<circle cx="388.3" cy="370.6" r="2.6" fill="rgb(224,221,75)" fill-opacity="1.00"/>
<circle cx="425.0" cy="340.7" r="2.6" fill="rgb(232,225,63)" fill-opacity="1.00"/>
<circle cx="399.5" cy="374.2" r="2.6" fill="rgb(230,223,78)" fill-opacity="1.00"/>
<circle cx="421.6" cy="370.6" r="2.6" fill="rgb(232,224,79)" fill-opacity="1.00"/>
<circle cx="411.1" cy="374.2" r="2.6" fill="rgb(232,224,79)" fill-opacity="1.00"/>
<circle cx="381.1" cy="358.7" r="2.6" fill="rgb(234,225,65)" fill-opacity="1.00"/>
<circle cx="415.6" cy="332.9" r="2.6" fill="rgb(237,226,66)" fill-opacity="1.00"/>
<circle cx="381.1" cy="354.4" r="2.6" fill="rgb(237,226,66)" fill-opacity="1.00"/>
<circle cx="404.4" cy="332.9" r="2.6" fill="rgb(241,226,69)" fill-opacity="1.00"/>
<circle cx="426.8" cy="345.8" r="2.6" fill="rgb(241,226,69)" fill-opacity="1.00"/>
<circle cx="388.6" cy="367.0" r="2.6" fill="rgb(240,226,85)" fill-opacity="1.00"/>
<circle cx="391.5" cy="363.0" r="2.6" fill="rgb(245,227,72)" fill-opacity="1.00"/>
<circle cx="413.8" cy="355.3" r="2.6" fill="rgb(245,227,72)" fill-opacity="1.00"/>
<circle cx="409.5" cy="357.9" r="2.6" fill="rgb(245,227,72)" fill-opacity="1.00"/>
<circle cx="412.1" cy="361.3" r="2.6" fill="rgb(245,227,72)" fill-opacity="1.00"/>
<circle cx="417.3" cy="358.7" r="2.6" fill="rgb(245,227,72)" fill-opacity="1.00"/>
<circle cx="399.9" cy="367.0" r="2.6" fill="rgb(242,226,86)" fill-opacity="1.00"/>
<circle cx="399.7" cy="370.6" r="2.6" fill="rgb(242,226,86)" fill-opacity="1.00"/>
<circle cx="421.0" cy="367.0" r="2.6" fill="rgb(242,226,86)" fill-opacity="1.00"/>
<circle cx="396.6" cy="364.8" r="2.6" fill="rgb(245,227,72)" fill-opacity="1.00"/>
<circle cx="401.8" cy="364.8" r="2.6" fill="rgb(245,227,72)" fill-opacity="1.00"/>
<circle cx="407.0" cy="363.0" r="2.6" fill="rgb(245,227,72)" fill-opacity="1.00"/>
<circle cx="396.6" cy="362.2" r="2.6" fill="rgb(245,227,72)" fill-opacity="1.00"/>
<circle cx="393.2" cy="360.4" r="2.6" fill="rgb(245,227,72)" fill-opacity="1.00"/>
<circle cx="422.5" cy="355.3" r="2.6" fill="rgb(245,227,72)" fill-opacity="1.00"/>
<circle cx="427.6" cy="351.8" r="2.6" fill="rgb(245,227,72)" fill-opacity="1.00"/>
<circle cx="386.3" cy="361.3" r="2.6" fill="rgb(245,227,72)" fill-opacity="1.00"/>
<circle cx="391.5" cy="343.2" r="2.6" fill="rgb(245,227,72)" fill-opacity="1.00"/>
<circle cx="405.2" cy="360.4" r="2.6" fill="rgb(245,227,72)" fill-opacity="1.00"/>
<circle cx="400.9" cy="361.3" r="2.6" fill="rgb(245,227,72)" fill-opacity="1.00"/>
<circle cx="418.1" cy="352.7" r="2.6" fill="rgb(245,227,72)" fill-opacity="1.00"/>
<circle cx="422.5" cy="349.3" r="2.6" fill="rgb(245,227,72)" fill-opacity="1.00"/>
<circle cx="405.2" cy="343.2" r="2.6" fill="rgb(245,227,72)" fill-opacity="1.00"/>
<circle cx="417.3" cy="342.4" r="2.6" fill="rgb(245,227,72)" fill-opacity="1.00"/>
<circle cx="389.8" cy="357.9" r="2.6" fill="rgb(245,227,72)" fill-opacity="1.00"/>
<circle cx="385.4" cy="356.1" r="2.6" fill="rgb(245,227,72)" fill-opacity="1.00"/>
<circle cx="411.1" cy="370.6" r="2.6" fill="rgb(242,226,86)" fill-opacity="1.00"/>
<circle cx="411.1" cy="367.0" r="2.6" fill="rgb(242,226,86)" fill-opacity="1.00"/></g>
<polygon points="805.9,473.1 1357.3,453.9 1360.6,49.3 801.2,61.0" fill="#f2f2f2"/>
<polygon points="1357.3,453.9 1491.0,575.1 1497.0,123.7 1360.6,49.3" fill="#f9f9f9"/>
<polygon points="805.9,473.1 1357.3,453.9 1491.0,575.1 875.7,599.3" fill="#f5f5f5"/>
<line class="g" x1="817.1" y1="472.7" x2="812.6" y2="60.8"/>
<line class="g" x1="805.8" y1="465.0" x2="1357.3" y2="445.9"/>
<line class="g" x1="1488.1" y1="572.4" x2="1493.9" y2="122.0"/>
<line class="g" x1="1357.3" y1="445.9" x2="1491.2" y2="566.2"/>
<line class="g" x1="817.1" y1="472.7" x2="888.2" y2="598.8"/>
<line class="g" x1="874.1" y1="596.5" x2="1488.1" y2="572.4"/>
<line class="g" x1="884.3" y1="470.4" x2="880.8" y2="59.4"/>
<line class="g" x1="805.2" y1="416.2" x2="1357.7" y2="397.9"/>
<line class="g" x1="1470.4" y1="556.4" x2="1475.9" y2="112.2"/>
<line class="g" x1="1357.7" y1="397.9" x2="1491.9" y2="512.8"/>
<line class="g" x1="884.3" y1="470.4" x2="963.4" y2="595.8"/>
<line class="g" x1="864.9" y1="579.8" x2="1470.4" y2="556.4"/>
<line class="g" x1="951.2" y1="468.1" x2="948.7" y2="57.9"/>
<line class="g" x1="804.7" y1="367.1" x2="1358.1" y2="349.8"/>
<line class="g" x1="1453.3" y1="540.9" x2="1458.4" y2="102.7"/>
<line class="g" x1="1358.1" y1="349.8" x2="1492.6" y2="459.1"/>
<line class="g" x1="951.2" y1="468.1" x2="1038.2" y2="592.9"/>
<line class="g" x1="856.0" y1="563.6" x2="1453.3" y2="540.9"/>
<line class="g" x1="1017.8" y1="465.7" x2="1016.3" y2="56.5"/>
<line class="g" x1="804.1" y1="318.0" x2="1358.5" y2="301.5"/>
<line class="g" x1="1436.6" y1="525.8" x2="1441.4" y2="93.4"/>
<line class="g" x1="1358.5" y1="301.5" x2="1493.3" y2="405.3"/>
<line class="g" x1="1017.8" y1="465.7" x2="1112.6" y2="590.0"/>
<line class="g" x1="847.2" y1="547.9" x2="1436.6" y2="525.8"/>
<line class="g" x1="1084.2" y1="463.4" x2="1083.6" y2="55.1"/>
<line class="g" x1="803.5" y1="268.6" x2="1358.9" y2="253.0"/>
<line class="g" x1="1420.4" y1="511.1" x2="1424.9" y2="84.4"/>
<line class="g" x1="1358.9" y1="253.0" x2="1494.0" y2="351.2"/>
<line class="g" x1="1084.2" y1="463.4" x2="1186.6" y2="587.1"/>
<line class="g" x1="838.8" y1="532.6" x2="1420.4" y2="511.1"/>
<line class="g" x1="1150.2" y1="461.1" x2="1150.5" y2="53.7"/>
<line class="g" x1="803.0" y1="219.1" x2="1359.3" y2="204.4"/>
<line class="g" x1="1404.6" y1="496.8" x2="1408.8" y2="75.6"/>
<line class="g" x1="1359.3" y1="204.4" x2="1494.7" y2="296.9"/>
<line class="g" x1="1150.2" y1="461.1" x2="1260.3" y2="584.2"/>
<line class="g" x1="830.5" y1="517.7" x2="1404.6" y2="496.8"/>
<line class="g" x1="1215.9" y1="458.8" x2="1217.2" y2="52.3"/>
<line class="g" x1="802.4" y1="169.3" x2="1359.7" y2="155.6"/>
<line class="g" x1="1389.2" y1="482.8" x2="1393.2" y2="67.1"/>
<line class="g" x1="1359.7" y1="155.6" x2="1495.4" y2="242.5"/>
<line class="g" x1="1215.9" y1="458.8" x2="1333.5" y2="581.3"/>
<line class="g" x1="822.5" y1="503.2" x2="1389.2" y2="482.8"/>
<line class="g" x1="1281.3" y1="456.5" x2="1283.6" y2="50.9"/>
<line class="g" x1="801.8" y1="119.5" x2="1360.1" y2="106.6"/>
<line class="g" x1="1374.3" y1="469.3" x2="1377.9" y2="58.7"/>
<line class="g" x1="1360.1" y1="106.6" x2="1496.1" y2="187.8"/>
<line class="g" x1="1281.3" y1="456.5" x2="1406.4" y2="578.4"/>
<line class="g" x1="814.7" y1="489.1" x2="1374.3" y2="469.3"/>
<line class="g" x1="1346.4" y1="454.3" x2="1349.6" y2="49.5"/>
<line class="g" x1="801.3" y1="69.4" x2="1360.5" y2="57.5"/>
<line class="g" x1="1359.7" y1="456.0" x2="1363.0" y2="50.6"/>
<line class="g" x1="1360.5" y1="57.5" x2="1496.9" y2="132.9"/>
<line class="g" x1="1346.4" y1="454.3" x2="1479.0" y2="575.6"/>
<line class="g" x1="807.1" y1="475.4" x2="1359.7" y2="456.0"/>
<line class="ax2" x1="875.7" y1="599.3" x2="1491.0" y2="575.1"/>
<line class="ax" x1="805.9" y1="473.1" x2="875.7" y2="599.3"/>
<line class="ax" x1="805.9" y1="473.1" x2="801.2" y2="61.0"/>
<line class="tk" x1="805.8" y1="465.0" x2="811.1" y2="464.7"/>
<line class="tk" x1="865.6" y1="596.7" x2="878.4" y2="596.4"/>
<line class="tk" x1="887.7" y1="597.7" x2="889.3" y2="600.7"/>
<line class="tk" x1="805.2" y1="416.2" x2="810.6" y2="415.9"/>
<line class="tk" x1="856.3" y1="580.0" x2="869.2" y2="579.7"/>
<line class="tk" x1="962.8" y1="594.8" x2="964.6" y2="597.7"/>
<line class="tk" x1="804.7" y1="367.1" x2="810.0" y2="366.8"/>
<line class="tk" x1="847.4" y1="563.8" x2="860.2" y2="563.5"/>
<line class="tk" x1="1037.5" y1="591.9" x2="1039.4" y2="594.7"/>
<line class="tk" x1="804.1" y1="318.0" x2="809.5" y2="317.7"/>
<line class="tk" x1="838.7" y1="548.1" x2="851.5" y2="547.8"/>
<line class="tk" x1="1111.9" y1="589.0" x2="1113.9" y2="591.7"/>
<line class="tk" x1="803.5" y1="268.6" x2="808.9" y2="268.3"/>
<line class="tk" x1="830.2" y1="532.8" x2="843.1" y2="532.5"/>
<line class="tk" x1="1185.8" y1="586.1" x2="1188.0" y2="588.8"/>
<line class="tk" x1="803.0" y1="219.1" x2="808.3" y2="218.8"/>
<line class="tk" x1="822.0" y1="517.9" x2="834.8" y2="517.6"/>
<line class="tk" x1="1259.5" y1="583.3" x2="1261.7" y2="585.8"/>
<line class="tk" x1="802.4" y1="169.3" x2="807.8" y2="169.0"/>
<line class="tk" x1="814.0" y1="503.4" x2="826.8" y2="503.1"/>
<line class="tk" x1="1332.7" y1="580.4" x2="1335.1" y2="582.9"/>
<line class="tk" x1="801.8" y1="119.5" x2="807.2" y2="119.2"/>
<line class="tk" x1="806.2" y1="489.3" x2="819.0" y2="489.0"/>
<line class="tk" x1="1405.6" y1="577.6" x2="1408.0" y2="580.0"/>
<line class="tk" x1="801.3" y1="69.4" x2="806.6" y2="69.1"/>
<line class="tk" x1="798.5" y1="475.6" x2="811.4" y2="475.3"/>
<line class="tk" x1="1478.1" y1="574.8" x2="1480.6" y2="577.1"/>
<text x="806.3" y="470.6" text-anchor="end" font-size="7.34">−0.100</text>
<text x="875.7" y="609.8" text-anchor="end" font-size="7.34">−0.100</text>
<text x="889.9" y="614.6" text-anchor="middle" font-size="7.34">−0.100</text>
<text x="805.8" y="421.7" text-anchor="end" font-size="7.34">−0.075</text>
<text x="866.5" y="593.2" text-anchor="end" font-size="7.34">−0.075</text>
<text x="965.0" y="611.7" text-anchor="middle" font-size="7.34">−0.075</text>
<text x="805.2" y="372.7" text-anchor="end" font-size="7.34">−0.050</text>
<text x="857.6" y="577.0" text-anchor="end" font-size="7.34">−0.050</text>
<text x="1039.8" y="608.7" text-anchor="middle" font-size="7.34">−0.050</text>
<text x="804.6" y="323.5" text-anchor="end" font-size="7.34">−0.025</text>
<text x="848.9" y="561.3" text-anchor="end" font-size="7.34">−0.025</text>
<text x="1114.2" y="605.8" text-anchor="middle" font-size="7.34">−0.025</text>
<text x="804.1" y="274.2" text-anchor="end" font-size="7.34">0.000</text>
<text x="840.4" y="546.0" text-anchor="end" font-size="7.34">0.000</text>
<text x="1188.2" y="602.9" text-anchor="middle" font-size="7.34">0.000</text>
<text x="803.5" y="224.6" text-anchor="end" font-size="7.34">0.025</text>
<text x="832.1" y="531.1" text-anchor="end" font-size="7.34">0.025</text>
<text x="1261.9" y="600.0" text-anchor="middle" font-size="7.34">0.025</text>
<text x="802.9" y="174.9" text-anchor="end" font-size="7.34">0.050</text>
<text x="824.1" y="516.6" text-anchor="end" font-size="7.34">0.050</text>
<text x="1335.1" y="597.1" text-anchor="middle" font-size="7.34">0.050</text>
<text x="802.4" y="125.0" text-anchor="end" font-size="7.34">0.075</text>
<text x="816.3" y="502.5" text-anchor="end" font-size="7.34">0.075</text>
<text x="1408.1" y="594.3" text-anchor="middle" font-size="7.34">0.075</text>
<text x="801.8" y="75.0" text-anchor="end" font-size="7.34">0.100</text>
<text x="808.7" y="488.8" text-anchor="end" font-size="7.34">0.100</text>
<text x="1480.6" y="591.4" text-anchor="middle" font-size="7.34">0.100</text>
<g><circle cx="1081.8" cy="143.8" r="2.75" fill="rgb(185,185,185)"/>
<circle cx="1116.6" cy="140.8" r="2.75" fill="rgb(184,184,184)"/>
<circle cx="1048.8" cy="149.6" r="2.75" fill="rgb(188,188,188)"/>
<circle cx="1020.0" cy="156.7" r="2.75" fill="rgb(192,192,192)"/>
<circle cx="994.5" cy="165.6" r="2.75" fill="rgb(197,197,197)"/>
<circle cx="973.0" cy="176.0" r="2.75" fill="rgb(201,201,201)"/>
<circle cx="953.1" cy="189.7" r="2.75" fill="rgb(208,208,208)"/>
<circle cx="936.7" cy="199.1" r="2.75" fill="rgb(212,212,212)"/>
<circle cx="923.3" cy="216.5" r="2.75" fill="rgb(212,212,212)"/>
<circle cx="913.3" cy="233.0" r="2.75" fill="rgb(212,212,212)"/>
<circle cx="1089.2" cy="163.1" r="2.75" fill="rgb(184,184,184)"/>
<circle cx="1058.6" cy="167.2" r="2.75" fill="rgb(185,185,185)"/>
<circle cx="1030.8" cy="172.9" r="2.75" fill="rgb(188,188,188)"/>
<circle cx="1006.0" cy="180.3" r="2.75" fill="rgb(192,192,192)"/>
<circle cx="984.3" cy="189.0" r="2.75" fill="rgb(196,196,196)"/>
<circle cx="962.7" cy="200.6" r="2.75" fill="rgb(201,201,201)"/>
<circle cx="947.6" cy="211.8" r="2.75" fill="rgb(206,206,206)"/>
<circle cx="934.8" cy="225.3" r="2.75" fill="rgb(212,212,212)"/>
<circle cx="1096.5" cy="181.0" r="2.75" fill="rgb(184,184,184)"/>
<circle cx="1068.4" cy="183.5" r="2.75" fill="rgb(184,184,184)"/>
<circle cx="1042.8" cy="188.9" r="2.75" fill="rgb(185,185,185)"/>
<circle cx="1018.0" cy="194.4" r="2.75" fill="rgb(188,188,188)"/>
<circle cx="996.5" cy="202.0" r="2.75" fill="rgb(192,192,192)"/>
<circle cx="977.7" cy="211.2" r="2.75" fill="rgb(195,195,195)"/>
<circle cx="959.1" cy="220.6" r="2.75" fill="rgb(200,200,200)"/>
<circle cx="947.6" cy="234.0" r="2.75" fill="rgb(203,203,203)"/>
<circle cx="1103.4" cy="199.8" r="2.75" fill="rgb(184,184,184)"/>
<circle cx="1078.0" cy="201.1" r="2.75" fill="rgb(184,184,184)"/>
<circle cx="1054.0" cy="204.8" r="2.75" fill="rgb(184,184,184)"/>
<circle cx="1030.3" cy="209.0" r="2.75" fill="rgb(185,185,185)"/>
<circle cx="1008.5" cy="215.0" r="2.75" fill="rgb(188,188,188)"/>
<circle cx="988.8" cy="221.7" r="2.75" fill="rgb(191,191,191)"/>
<circle cx="973.0" cy="231.6" r="2.75" fill="rgb(195,195,195)"/>
<circle cx="1109.2" cy="217.0" r="2.75" fill="rgb(184,184,184)"/>
<circle cx="1084.9" cy="217.5" r="2.75" fill="rgb(184,184,184)"/>
<circle cx="1062.6" cy="219.2" r="2.75" fill="rgb(184,184,184)"/>
<circle cx="1039.8" cy="222.4" r="2.75" fill="rgb(184,184,184)"/>
<circle cx="1018.5" cy="226.8" r="2.75" fill="rgb(185,185,185)"/>
<circle cx="999.1" cy="231.0" r="2.75" fill="rgb(189,189,189)"/>
<circle cx="1151.9" cy="139.4" r="2.75" fill="rgb(184,184,184)"/>
<circle cx="1185.7" cy="139.1" r="2.75" fill="rgb(184,184,184)"/>
<circle cx="1218.0" cy="140.8" r="2.75" fill="rgb(185,185,185)"/>
<circle cx="1246.3" cy="144.9" r="2.75" fill="rgb(189,189,189)"/>
<circle cx="1269.3" cy="150.8" r="2.75" fill="rgb(194,194,194)"/>
<circle cx="1287.8" cy="158.4" r="2.75" fill="rgb(199,199,199)"/>
<circle cx="1302.4" cy="168.1" r="2.75" fill="rgb(205,205,205)"/>
<circle cx="1314.7" cy="181.0" r="2.75" fill="rgb(212,212,212)"/>
<circle cx="1322.5" cy="189.7" r="2.75" fill="rgb(212,212,212)"/>
<circle cx="1327.8" cy="206.1" r="2.75" fill="rgb(212,212,212)"/>
<circle cx="1329.0" cy="223.4" r="2.75" fill="rgb(212,212,212)"/>
<circle cx="1327.3" cy="232.1" r="2.75" fill="rgb(212,212,212)"/>
<circle cx="1121.9" cy="161.7" r="2.75" fill="rgb(184,184,184)"/>
<circle cx="1154.0" cy="161.7" r="2.75" fill="rgb(184,184,184)"/>
<circle cx="1184.9" cy="160.0" r="2.75" fill="rgb(184,184,184)"/>
<circle cx="1215.2" cy="160.4" r="2.75" fill="rgb(184,184,184)"/>
<circle cx="1241.8" cy="163.1" r="2.75" fill="rgb(185,185,185)"/>
<circle cx="1263.8" cy="167.2" r="2.75" fill="rgb(190,190,190)"/>
<circle cx="1282.1" cy="173.4" r="2.75" fill="rgb(195,195,195)"/>
<circle cx="1297.2" cy="181.3" r="2.75" fill="rgb(200,200,200)"/>
<circle cx="1311.0" cy="192.2" r="2.75" fill="rgb(206,206,206)"/>
<circle cx="1319.0" cy="202.8" r="2.75" fill="rgb(212,212,212)"/>
<circle cx="1324.3" cy="215.4" r="2.75" fill="rgb(212,212,212)"/>
<circle cx="1126.0" cy="180.5" r="2.75" fill="rgb(184,184,184)"/>
<circle cx="1154.9" cy="180.7" r="2.75" fill="rgb(184,184,184)"/>
<circle cx="1182.6" cy="179.0" r="2.75" fill="rgb(184,184,184)"/>
<circle cx="1210.6" cy="178.5" r="2.75" fill="rgb(184,184,184)"/>
<circle cx="1235.5" cy="179.8" r="2.75" fill="rgb(184,184,184)"/>
<circle cx="1256.4" cy="183.8" r="2.75" fill="rgb(186,186,186)"/>
<circle cx="1274.9" cy="188.2" r="2.75" fill="rgb(190,190,190)"/>
<circle cx="1290.9" cy="194.9" r="2.75" fill="rgb(195,195,195)"/>
<circle cx="1303.6" cy="203.6" r="2.75" fill="rgb(200,200,200)"/>
<circle cx="1314.0" cy="212.0" r="2.75" fill="rgb(205,205,205)"/>
<circle cx="1319.2" cy="227.4" r="2.75" fill="rgb(206,206,206)"/>
<circle cx="1130.3" cy="200.3" r="2.75" fill="rgb(184,184,184)"/>
<circle cx="1156.1" cy="201.1" r="2.75" fill="rgb(184,184,184)"/>
<circle cx="1180.9" cy="199.1" r="2.75" fill="rgb(184,184,184)"/>
<circle cx="1206.3" cy="197.4" r="2.75" fill="rgb(184,184,184)"/>
<circle cx="1229.1" cy="197.8" r="2.75" fill="rgb(184,184,184)"/>
<circle cx="1249.2" cy="200.3" r="2.75" fill="rgb(184,184,184)"/>
<circle cx="1267.6" cy="203.1" r="2.75" fill="rgb(187,187,187)"/>
<circle cx="1284.0" cy="208.7" r="2.75" fill="rgb(191,191,191)"/>
<circle cx="1297.7" cy="214.0" r="2.75" fill="rgb(196,196,196)"/>
<circle cx="1307.5" cy="223.4" r="2.75" fill="rgb(199,199,199)"/>
<circle cx="1134.3" cy="217.9" r="2.75" fill="rgb(184,184,184)"/>
<circle cx="1156.9" cy="218.7" r="2.75" fill="rgb(184,184,184)"/>
<circle cx="1179.4" cy="216.7" r="2.75" fill="rgb(184,184,184)"/>
<circle cx="1202.5" cy="215.0" r="2.75" fill="rgb(184,184,184)"/>
<circle cx="1224.7" cy="214.0" r="2.75" fill="rgb(184,184,184)"/>
<circle cx="1243.5" cy="215.4" r="2.75" fill="rgb(184,184,184)"/>
<circle cx="1262.1" cy="217.0" r="2.75" fill="rgb(185,185,185)"/>
<circle cx="1278.7" cy="220.1" r="2.75" fill="rgb(189,189,189)"/>
<circle cx="1292.9" cy="224.1" r="2.75" fill="rgb(193,193,193)"/>
<circle cx="1302.7" cy="231.0" r="2.75" fill="rgb(196,196,196)"/>
<circle cx="1314.0" cy="232.6" r="2.75" fill="rgb(202,202,202)"/>
<circle cx="925.8" cy="243.2" r="2.75" fill="rgb(212,212,212)"/>
<circle cx="910.2" cy="255.9" r="2.75" fill="rgb(212,212,212)"/>
<circle cx="918.8" cy="262.2" r="2.75" fill="rgb(212,212,212)"/>
<circle cx="935.6" cy="250.1" r="2.75" fill="rgb(207,207,207)"/>
<circle cx="929.1" cy="268.0" r="2.75" fill="rgb(210,210,210)"/>
<circle cx="911.6" cy="281.9" r="2.75" fill="rgb(212,212,212)"/>
<circle cx="916.4" cy="285.1" r="2.75" fill="rgb(212,212,212)"/>
<circle cx="926.5" cy="286.1" r="2.75" fill="rgb(210,210,210)"/>
<circle cx="936.5" cy="289.5" r="2.75" fill="rgb(204,204,204)"/>
<circle cx="914.2" cy="309.9" r="2.75" fill="rgb(212,212,212)"/>
<circle cx="918.5" cy="307.4" r="2.75" fill="rgb(212,212,212)"/>
<circle cx="925.3" cy="308.6" r="2.75" fill="rgb(209,209,209)"/>
<circle cx="936.0" cy="306.9" r="2.75" fill="rgb(203,203,203)"/>
<circle cx="916.4" cy="330.9" r="2.75" fill="rgb(212,212,212)"/>
<circle cx="921.6" cy="327.2" r="2.75" fill="rgb(212,212,212)"/>
<circle cx="928.8" cy="327.9" r="2.75" fill="rgb(206,206,206)"/>
<circle cx="936.8" cy="325.9" r="2.75" fill="rgb(202,202,202)"/>
<circle cx="941.3" cy="271.0" r="2.75" fill="rgb(202,202,202)"/>
<circle cx="949.3" cy="255.9" r="2.75" fill="rgb(200,200,200)"/>
<circle cx="948.5" cy="288.5" r="2.75" fill="rgb(199,199,199)"/>
<circle cx="948.5" cy="303.2" r="2.75" fill="rgb(198,198,198)"/>
<circle cx="948.8" cy="320.3" r="2.75" fill="rgb(198,198,198)"/>
<circle cx="950.5" cy="338.4" r="2.75" fill="rgb(197,197,197)"/>
<circle cx="960.0" cy="242.0" r="2.75" fill="rgb(198,198,198)"/>
<circle cx="971.3" cy="247.9" r="2.75" fill="rgb(194,194,194)"/>
<circle cx="961.0" cy="260.1" r="2.75" fill="rgb(196,196,196)"/>
<circle cx="952.4" cy="273.9" r="2.75" fill="rgb(198,198,198)"/>
<circle cx="975.1" cy="265.5" r="2.75" fill="rgb(192,192,192)"/>
<circle cx="968.7" cy="275.2" r="2.75" fill="rgb(193,193,193)"/>
<circle cx="964.3" cy="285.6" r="2.75" fill="rgb(194,194,194)"/>
<circle cx="967.4" cy="335.4" r="2.75" fill="rgb(192,192,192)"/>
<circle cx="983.1" cy="239.2" r="2.75" fill="rgb(191,191,191)"/>
<circle cx="983.7" cy="255.9" r="2.75" fill="rgb(190,190,190)"/>
<circle cx="987.1" cy="268.5" r="2.75" fill="rgb(189,189,189)"/>
<circle cx="981.6" cy="275.2" r="2.75" fill="rgb(190,190,190)"/>
<circle cx="980.7" cy="283.4" r="2.75" fill="rgb(190,190,190)"/>
<circle cx="985.4" cy="335.9" r="2.75" fill="rgb(188,188,188)"/>
<circle cx="1003.0" cy="339.8" r="2.75" fill="rgb(184,184,184)"/>
<circle cx="1309.1" cy="239.5" r="2.75" fill="rgb(199,199,199)"/>
<circle cx="1324.5" cy="239.9" r="2.75" fill="rgb(210,210,210)"/>
<circle cx="1303.1" cy="247.9" r="2.75" fill="rgb(195,195,195)"/>
<circle cx="1319.4" cy="246.2" r="2.75" fill="rgb(204,204,204)"/>
<circle cx="1314.2" cy="250.8" r="2.75" fill="rgb(200,200,200)"/>
<circle cx="1326.2" cy="244.5" r="2.75" fill="rgb(211,211,211)"/>
<circle cx="1328.4" cy="251.3" r="2.75" fill="rgb(212,212,212)"/>
<circle cx="1307.4" cy="256.7" r="2.75" fill="rgb(196,196,196)"/>
<circle cx="1327.9" cy="258.0" r="2.75" fill="rgb(211,211,211)"/>
<circle cx="1322.8" cy="260.5" r="2.75" fill="rgb(205,205,205)"/>
<circle cx="1318.5" cy="263.4" r="2.75" fill="rgb(202,202,202)"/>
<circle cx="1309.9" cy="265.9" r="2.75" fill="rgb(197,197,197)"/>
<circle cx="1320.6" cy="270.5" r="2.75" fill="rgb(203,203,203)"/>
<circle cx="1327.9" cy="274.3" r="2.75" fill="rgb(209,209,209)"/>
<circle cx="1321.9" cy="278.1" r="2.75" fill="rgb(203,203,203)"/>
<circle cx="1327.1" cy="278.9" r="2.75" fill="rgb(207,207,207)"/>
<circle cx="1313.4" cy="276.0" r="2.75" fill="rgb(198,198,198)"/>
<circle cx="1314.6" cy="286.0" r="2.75" fill="rgb(198,198,198)"/>
<circle cx="1324.1" cy="291.8" r="2.75" fill="rgb(204,204,204)"/>
<circle cx="1327.9" cy="296.4" r="2.75" fill="rgb(207,207,207)"/>
<circle cx="1321.1" cy="298.5" r="2.75" fill="rgb(202,202,202)"/>
<circle cx="1325.4" cy="308.6" r="2.75" fill="rgb(204,204,204)"/>
<circle cx="1327.9" cy="314.9" r="2.75" fill="rgb(206,206,206)"/>
<circle cx="1319.4" cy="316.1" r="2.75" fill="rgb(200,200,200)"/>
<circle cx="1307.8" cy="325.4" r="2.75" fill="rgb(194,194,194)"/>
<circle cx="1318.5" cy="323.7" r="2.75" fill="rgb(199,199,199)"/>
<circle cx="1325.8" cy="327.5" r="2.75" fill="rgb(204,204,204)"/>
<circle cx="1327.1" cy="333.3" r="2.75" fill="rgb(205,205,205)"/>
<circle cx="1296.2" cy="330.8" r="2.75" fill="rgb(190,190,190)"/>
<circle cx="1324.5" cy="336.7" r="2.75" fill="rgb(203,203,203)"/>
<circle cx="1314.2" cy="338.8" r="2.75" fill="rgb(197,197,197)"/>
<circle cx="1318.5" cy="340.0" r="2.75" fill="rgb(199,199,199)"/>
<circle cx="1282.1" cy="337.9" r="2.75" fill="rgb(185,185,185)"/>
<circle cx="939.1" cy="343.6" r="2.75" fill="rgb(201,201,201)"/>
<circle cx="921.9" cy="350.0" r="2.75" fill="rgb(212,212,212)"/>
<circle cx="926.2" cy="348.7" r="2.75" fill="rgb(208,208,208)"/>
<circle cx="931.3" cy="348.0" r="2.75" fill="rgb(205,205,205)"/>
<circle cx="952.8" cy="356.7" r="2.75" fill="rgb(197,197,197)"/>
<circle cx="965.6" cy="353.0" r="2.75" fill="rgb(193,193,193)"/>
<circle cx="980.6" cy="353.7" r="2.75" fill="rgb(189,189,189)"/>
<circle cx="996.9" cy="357.1" r="2.75" fill="rgb(186,186,186)"/>
<circle cx="1021.9" cy="347.5" r="2.75" fill="rgb(184,184,184)"/>
<circle cx="943.3" cy="361.4" r="2.75" fill="rgb(200,200,200)"/>
<circle cx="928.8" cy="365.9" r="2.75" fill="rgb(207,207,207)"/>
<circle cx="933.9" cy="366.4" r="2.75" fill="rgb(204,204,204)"/>
<circle cx="956.2" cy="371.0" r="2.75" fill="rgb(196,196,196)"/>
<circle cx="967.0" cy="366.8" r="2.75" fill="rgb(193,193,193)"/>
<circle cx="978.2" cy="367.1" r="2.75" fill="rgb(190,190,190)"/>
<circle cx="992.7" cy="370.1" r="2.75" fill="rgb(187,187,187)"/>
<circle cx="1011.4" cy="362.6" r="2.75" fill="rgb(184,184,184)"/>
<circle cx="1033.4" cy="357.1" r="2.75" fill="rgb(184,184,184)"/>
<circle cx="942.5" cy="383.5" r="2.75" fill="rgb(201,201,201)"/>
<circle cx="937.0" cy="389.1" r="2.75" fill="rgb(204,204,204)"/>
<circle cx="1023.5" cy="369.3" r="2.75" fill="rgb(184,184,184)"/>
<circle cx="1044.6" cy="364.8" r="2.75" fill="rgb(184,184,184)"/>
<circle cx="1034.3" cy="374.8" r="2.75" fill="rgb(184,184,184)"/>
<circle cx="1272.6" cy="348.3" r="2.75" fill="rgb(184,184,184)"/>
<circle cx="1300.3" cy="346.2" r="2.75" fill="rgb(191,191,191)"/>
<circle cx="1322.8" cy="346.7" r="2.75" fill="rgb(202,202,202)"/>
<circle cx="1324.5" cy="350.0" r="2.75" fill="rgb(203,203,203)"/>
<circle cx="1289.8" cy="352.5" r="2.75" fill="rgb(188,188,188)"/>
<circle cx="1309.5" cy="355.0" r="2.75" fill="rgb(195,195,195)"/>
<circle cx="1316.8" cy="355.0" r="2.75" fill="rgb(199,199,199)"/>
<circle cx="1321.9" cy="358.4" r="2.75" fill="rgb(202,202,202)"/>
<circle cx="1279.5" cy="360.1" r="2.75" fill="rgb(185,185,185)"/>
<circle cx="1301.2" cy="359.2" r="2.75" fill="rgb(192,192,192)"/>
<circle cx="1269.6" cy="365.9" r="2.75" fill="rgb(184,184,184)"/>
<circle cx="1291.9" cy="365.1" r="2.75" fill="rgb(189,189,189)"/>
<circle cx="1314.2" cy="363.4" r="2.75" fill="rgb(198,198,198)"/>
<circle cx="1320.2" cy="364.7" r="2.75" fill="rgb(201,201,201)"/>
<circle cx="1309.9" cy="367.6" r="2.75" fill="rgb(196,196,196)"/>
<circle cx="1317.6" cy="371.0" r="2.75" fill="rgb(200,200,200)"/>
<circle cx="1300.9" cy="373.1" r="2.75" fill="rgb(192,192,192)"/>
<circle cx="1300.9" cy="259.8" r="2.75" fill="rgb(193,193,193)"/>
<circle cx="1302.1" cy="265.9" r="2.75" fill="rgb(194,194,194)"/>
<circle cx="1302.5" cy="273.6" r="2.75" fill="rgb(193,193,193)"/>
<circle cx="1300.9" cy="281.3" r="2.75" fill="rgb(192,192,192)"/>
<circle cx="1269.4" cy="368.4" r="2.75" fill="rgb(184,184,184)"/>
<circle cx="1281.0" cy="371.6" r="2.75" fill="rgb(185,185,185)"/>
<circle cx="1111.5" cy="326.6" r="2.75" fill="rgb(184,184,184)"/>
<circle cx="1121.3" cy="330.5" r="2.75" fill="rgb(184,184,184)"/>
<circle cx="1130.3" cy="326.6" r="2.75" fill="rgb(184,184,184)"/>
<circle cx="1140.1" cy="330.9" r="2.75" fill="rgb(184,184,184)"/>
<circle cx="1151.8" cy="328.1" r="2.75" fill="rgb(184,184,184)"/>
<circle cx="1113.9" cy="332.8" r="2.75" fill="rgb(184,184,184)"/>
<circle cx="1120.9" cy="337.1" r="2.75" fill="rgb(184,184,184)"/>
<circle cx="1130.7" cy="334.4" r="2.75" fill="rgb(184,184,184)"/>
<circle cx="1141.2" cy="339.5" r="2.75" fill="rgb(184,184,184)"/>
<circle cx="1152.6" cy="337.5" r="2.75" fill="rgb(184,184,184)"/>
<circle cx="1110.7" cy="339.9" r="2.75" fill="rgb(184,184,184)"/>
<circle cx="1120.1" cy="343.0" r="2.75" fill="rgb(184,184,184)"/>
<circle cx="1130.3" cy="341.8" r="2.75" fill="rgb(184,184,184)"/>
<circle cx="1142.0" cy="348.5" r="2.75" fill="rgb(184,184,184)"/>
<circle cx="1153.0" cy="348.1" r="2.75" fill="rgb(184,184,184)"/>
<circle cx="1101.3" cy="344.6" r="2.75" fill="rgb(184,184,184)"/>
<circle cx="1107.6" cy="346.9" r="2.75" fill="rgb(184,184,184)"/>
<circle cx="1122.1" cy="348.9" r="2.75" fill="rgb(184,184,184)"/>
<circle cx="1131.9" cy="348.5" r="2.75" fill="rgb(184,184,184)"/>
<circle cx="1112.3" cy="350.0" r="2.75" fill="rgb(184,184,184)"/>
<circle cx="1105.3" cy="354.0" r="2.75" fill="rgb(184,184,184)"/>
<circle cx="1092.7" cy="352.4" r="2.75" fill="rgb(184,184,184)"/>
<circle cx="1101.3" cy="360.2" r="2.75" fill="rgb(184,184,184)"/>
<circle cx="1082.9" cy="360.2" r="2.75" fill="rgb(184,184,184)"/>
<circle cx="1070.8" cy="369.2" r="2.75" fill="rgb(184,184,184)"/>
<circle cx="1091.9" cy="369.2" r="2.75" fill="rgb(184,184,184)"/>
<circle cx="1049.3" cy="371.6" r="2.75" fill="rgb(184,184,184)"/>
<circle cx="1111.5" cy="368.0" r="2.75" fill="rgb(184,184,184)"/>
<circle cx="1126.0" cy="370.8" r="2.75" fill="rgb(184,184,184)"/>
<circle cx="1139.7" cy="371.9" r="2.75" fill="rgb(184,184,184)"/>
<circle cx="1117.0" cy="356.3" r="2.75" fill="rgb(184,184,184)"/>
<circle cx="1115.4" cy="361.0" r="2.75" fill="rgb(184,184,184)"/>
<circle cx="1121.7" cy="356.3" r="2.75" fill="rgb(184,184,184)"/>
<circle cx="1127.9" cy="355.5" r="2.75" fill="rgb(184,184,184)"/>
<circle cx="1129.5" cy="361.8" r="2.75" fill="rgb(184,184,184)"/>
<circle cx="1133.4" cy="354.7" r="2.75" fill="rgb(184,184,184)"/>
<circle cx="1135.8" cy="359.4" r="2.75" fill="rgb(184,184,184)"/>
<circle cx="1132.6" cy="365.7" r="2.75" fill="rgb(184,184,184)"/>
<circle cx="1137.3" cy="365.7" r="2.75" fill="rgb(184,184,184)"/>
<circle cx="1143.6" cy="356.3" r="2.75" fill="rgb(184,184,184)"/>
<circle cx="1146.7" cy="361.0" r="2.75" fill="rgb(184,184,184)"/>
<circle cx="1150.6" cy="357.9" r="2.75" fill="rgb(184,184,184)"/>
<circle cx="1153.8" cy="364.1" r="2.75" fill="rgb(184,184,184)"/>
<circle cx="1149.1" cy="368.8" r="2.75" fill="rgb(184,184,184)"/>
<circle cx="1126.4" cy="365.7" r="2.75" fill="rgb(184,184,184)"/>
<circle cx="1120.1" cy="360.2" r="2.75" fill="rgb(184,184,184)"/>
<circle cx="1107.6" cy="336.7" r="2.75" fill="rgb(184,184,184)"/>
<circle cx="1165.2" cy="327.0" r="2.75" fill="rgb(184,184,184)"/>
<circle cx="1177.7" cy="327.3" r="2.75" fill="rgb(184,184,184)"/>
<circle cx="1186.3" cy="329.7" r="2.75" fill="rgb(184,184,184)"/>
<circle cx="1191.0" cy="325.4" r="2.75" fill="rgb(184,184,184)"/>
<circle cx="1193.3" cy="332.0" r="2.75" fill="rgb(184,184,184)"/>
<circle cx="1166.7" cy="336.7" r="2.75" fill="rgb(184,184,184)"/>
<circle cx="1179.3" cy="336.7" r="2.75" fill="rgb(184,184,184)"/>
<circle cx="1188.3" cy="337.9" r="2.75" fill="rgb(184,184,184)"/>
<circle cx="1195.7" cy="339.5" r="2.75" fill="rgb(184,184,184)"/>
<circle cx="1168.3" cy="348.1" r="2.75" fill="rgb(184,184,184)"/>
<circle cx="1181.6" cy="347.3" r="2.75" fill="rgb(184,184,184)"/>
<circle cx="1190.2" cy="346.5" r="2.75" fill="rgb(184,184,184)"/>
<circle cx="1196.5" cy="346.9" r="2.75" fill="rgb(184,184,184)"/>
<circle cx="1216.8" cy="348.1" r="2.75" fill="rgb(184,184,184)"/>
<circle cx="1226.2" cy="355.5" r="2.75" fill="rgb(184,184,184)"/>
<circle cx="1219.9" cy="364.5" r="2.75" fill="rgb(184,184,184)"/>
<circle cx="1237.2" cy="363.3" r="2.75" fill="rgb(184,184,184)"/>
<circle cx="1256.7" cy="364.5" r="2.75" fill="rgb(184,184,184)"/>
<circle cx="1231.7" cy="371.9" r="2.75" fill="rgb(184,184,184)"/>
<circle cx="1248.1" cy="371.2" r="2.75" fill="rgb(184,184,184)"/>
<circle cx="1168.3" cy="359.4" r="2.75" fill="rgb(184,184,184)"/>
<circle cx="1155.0" cy="358.6" r="2.75" fill="rgb(184,184,184)"/>
<circle cx="1192.6" cy="368.0" r="2.75" fill="rgb(184,184,184)"/>
<circle cx="1203.5" cy="364.1" r="2.75" fill="rgb(184,184,184)"/>
<circle cx="1212.1" cy="373.5" r="2.75" fill="rgb(184,184,184)"/>
<circle cx="1181.6" cy="370.4" r="2.75" fill="rgb(184,184,184)"/>
<circle cx="1201.9" cy="331.3" r="2.75" fill="rgb(184,184,184)"/>
<circle cx="1205.1" cy="336.0" r="2.75" fill="rgb(184,184,184)"/>
<circle cx="1208.2" cy="340.6" r="2.75" fill="rgb(184,184,184)"/>
<circle cx="1209.8" cy="345.3" r="2.75" fill="rgb(184,184,184)"/>
<circle cx="1209.0" cy="350.0" r="2.75" fill="rgb(184,184,184)"/>
<circle cx="1205.9" cy="354.0" r="2.75" fill="rgb(184,184,184)"/>
<circle cx="1201.9" cy="356.3" r="2.75" fill="rgb(184,184,184)"/>
<circle cx="1197.3" cy="357.9" r="2.75" fill="rgb(184,184,184)"/>
<circle cx="1192.6" cy="359.4" r="2.75" fill="rgb(184,184,184)"/>
<circle cx="1187.9" cy="361.0" r="2.75" fill="rgb(184,184,184)"/>
<circle cx="1183.2" cy="361.8" r="2.75" fill="rgb(184,184,184)"/>
<circle cx="1178.5" cy="362.6" r="2.75" fill="rgb(184,184,184)"/>
<circle cx="1175.3" cy="357.9" r="2.75" fill="rgb(184,184,184)"/>
<circle cx="1180.0" cy="354.7" r="2.75" fill="rgb(184,184,184)"/>
<circle cx="1186.3" cy="355.5" r="2.75" fill="rgb(184,184,184)"/>
<circle cx="1191.0" cy="354.0" r="2.75" fill="rgb(184,184,184)"/>
<circle cx="1197.3" cy="352.4" r="2.75" fill="rgb(184,184,184)"/>
<circle cx="1209.8" cy="356.3" r="2.75" fill="rgb(184,184,184)"/>
<circle cx="1174.6" cy="365.7" r="2.75" fill="rgb(184,184,184)"/>
<circle cx="1170.6" cy="368.8" r="2.75" fill="rgb(184,184,184)"/>
<circle cx="1166.7" cy="371.2" r="2.75" fill="rgb(184,184,184)"/>
<circle cx="1161.3" cy="371.9" r="2.75" fill="rgb(184,184,184)"/>
<circle cx="1156.6" cy="365.7" r="2.75" fill="rgb(184,184,184)"/>
<circle cx="1184.7" cy="365.7" r="2.75" fill="rgb(184,184,184)"/>
<circle cx="1178.5" cy="367.3" r="2.75" fill="rgb(184,184,184)"/>
<circle cx="1059.1" cy="378.1" r="2.75" fill="rgb(184,184,184)"/>
<circle cx="1079.4" cy="377.7" r="2.75" fill="rgb(184,184,184)"/>
<circle cx="1103.7" cy="379.3" r="2.75" fill="rgb(184,184,184)"/>
<circle cx="1122.1" cy="379.3" r="2.75" fill="rgb(184,184,184)"/>
<circle cx="1137.7" cy="380.1" r="2.75" fill="rgb(184,184,184)"/>
<circle cx="1066.9" cy="384.8" r="2.75" fill="rgb(184,184,184)"/>
<circle cx="1085.7" cy="387.1" r="2.75" fill="rgb(184,184,184)"/>
<circle cx="1049.7" cy="387.5" r="2.75" fill="rgb(184,184,184)"/>
<circle cx="1058.3" cy="391.8" r="2.75" fill="rgb(184,184,184)"/>
<circle cx="1074.0" cy="391.4" r="2.75" fill="rgb(184,184,184)"/>
<circle cx="1045.8" cy="395.3" r="2.75" fill="rgb(184,184,184)"/>
<circle cx="1064.6" cy="396.5" r="2.75" fill="rgb(184,184,184)"/>
<circle cx="1052.8" cy="400.0" r="2.75" fill="rgb(184,184,184)"/>
<circle cx="1059.9" cy="403.2" r="2.75" fill="rgb(184,184,184)"/>
<circle cx="1045.8" cy="406.3" r="2.75" fill="rgb(184,184,184)"/>
<circle cx="1053.6" cy="408.6" r="2.75" fill="rgb(184,184,184)"/>
<circle cx="1060.6" cy="407.9" r="2.75" fill="rgb(184,184,184)"/>
<circle cx="1048.5" cy="417.3" r="2.75" fill="rgb(184,184,184)"/>
<circle cx="1057.5" cy="416.5" r="2.75" fill="rgb(184,184,184)"/>
<circle cx="1063.0" cy="421.9" r="2.75" fill="rgb(184,184,184)"/>
<circle cx="1054.4" cy="422.7" r="2.75" fill="rgb(184,184,184)"/>
<circle cx="1070.0" cy="418.8" r="2.75" fill="rgb(184,184,184)"/>
<circle cx="1068.5" cy="411.8" r="2.75" fill="rgb(184,184,184)"/>
<circle cx="1074.7" cy="411.0" r="2.75" fill="rgb(184,184,184)"/>
<circle cx="1081.0" cy="410.2" r="2.75" fill="rgb(184,184,184)"/>
<circle cx="1087.3" cy="409.4" r="2.75" fill="rgb(184,184,184)"/>
<circle cx="1093.5" cy="408.6" r="2.75" fill="rgb(184,184,184)"/>
<circle cx="1099.8" cy="407.9" r="2.75" fill="rgb(184,184,184)"/>
<circle cx="1106.0" cy="407.1" r="2.75" fill="rgb(184,184,184)"/>
<circle cx="1072.4" cy="414.9" r="2.75" fill="rgb(184,184,184)"/>
<circle cx="1078.6" cy="414.1" r="2.75" fill="rgb(184,184,184)"/>
<circle cx="1085.7" cy="413.3" r="2.75" fill="rgb(184,184,184)"/>
<circle cx="1091.9" cy="411.8" r="2.75" fill="rgb(184,184,184)"/>
<circle cx="1077.9" cy="418.8" r="2.75" fill="rgb(184,184,184)"/>
<circle cx="1084.1" cy="417.3" r="2.75" fill="rgb(184,184,184)"/>
<circle cx="1090.4" cy="415.7" r="2.75" fill="rgb(184,184,184)"/>
<circle cx="1096.6" cy="414.1" r="2.75" fill="rgb(184,184,184)"/>
<circle cx="1102.9" cy="411.8" r="2.75" fill="rgb(184,184,184)"/>
<circle cx="1107.6" cy="412.6" r="2.75" fill="rgb(184,184,184)"/>
<circle cx="1106.0" cy="418.8" r="2.75" fill="rgb(184,184,184)"/>
<circle cx="1105.3" cy="423.5" r="2.75" fill="rgb(184,184,184)"/>
<circle cx="1095.1" cy="421.9" r="2.75" fill="rgb(184,184,184)"/>
<circle cx="1088.8" cy="421.9" r="2.75" fill="rgb(184,184,184)"/>
<circle cx="1082.6" cy="422.7" r="2.75" fill="rgb(184,184,184)"/>
<circle cx="1119.3" cy="411.0" r="2.75" fill="rgb(184,184,184)"/>
<circle cx="1118.9" cy="417.3" r="2.75" fill="rgb(184,184,184)"/>
<circle cx="1118.6" cy="422.7" r="2.75" fill="rgb(184,184,184)"/>
<circle cx="1134.2" cy="412.6" r="2.75" fill="rgb(184,184,184)"/>
<circle cx="1133.8" cy="419.6" r="2.75" fill="rgb(184,184,184)"/>
<circle cx="1149.1" cy="414.1" r="2.75" fill="rgb(184,184,184)"/>
<circle cx="1148.7" cy="420.4" r="2.75" fill="rgb(184,184,184)"/>
<circle cx="1162.0" cy="378.1" r="2.75" fill="rgb(184,184,184)"/>
<circle cx="1162.0" cy="382.0" r="2.75" fill="rgb(184,184,184)"/>
<circle cx="1171.4" cy="377.3" r="2.75" fill="rgb(184,184,184)"/>
<circle cx="1172.2" cy="381.3" r="2.75" fill="rgb(184,184,184)"/>
<circle cx="1184.7" cy="378.1" r="2.75" fill="rgb(184,184,184)"/>
<circle cx="1197.6" cy="376.6" r="2.75" fill="rgb(184,184,184)"/>
<circle cx="1227.0" cy="381.3" r="2.75" fill="rgb(184,184,184)"/>
<circle cx="1241.5" cy="378.1" r="2.75" fill="rgb(184,184,184)"/>
<circle cx="1255.5" cy="379.3" r="2.75" fill="rgb(184,184,184)"/>
<circle cx="1237.2" cy="385.2" r="2.75" fill="rgb(184,184,184)"/>
<circle cx="1248.9" cy="383.6" r="2.75" fill="rgb(184,184,184)"/>
<circle cx="1259.1" cy="387.5" r="2.75" fill="rgb(184,184,184)"/>
<circle cx="1252.8" cy="392.2" r="2.75" fill="rgb(184,184,184)"/>
<circle cx="1259.1" cy="398.1" r="2.75" fill="rgb(184,184,184)"/>
<circle cx="1252.0" cy="400.8" r="2.75" fill="rgb(184,184,184)"/>
<circle cx="1163.6" cy="412.6" r="2.75" fill="rgb(184,184,184)"/>
<circle cx="1163.6" cy="418.0" r="2.75" fill="rgb(184,184,184)"/>
<circle cx="1163.6" cy="421.9" r="2.75" fill="rgb(184,184,184)"/>
<circle cx="1176.9" cy="411.8" r="2.75" fill="rgb(184,184,184)"/>
<circle cx="1177.7" cy="417.3" r="2.75" fill="rgb(184,184,184)"/>
<circle cx="1177.7" cy="421.9" r="2.75" fill="rgb(184,184,184)"/>
<circle cx="1191.0" cy="410.2" r="2.75" fill="rgb(184,184,184)"/>
<circle cx="1191.8" cy="417.3" r="2.75" fill="rgb(184,184,184)"/>
<circle cx="1191.0" cy="422.7" r="2.75" fill="rgb(184,184,184)"/>
<circle cx="1203.5" cy="407.9" r="2.75" fill="rgb(184,184,184)"/>
<circle cx="1204.3" cy="414.1" r="2.75" fill="rgb(184,184,184)"/>
<circle cx="1205.1" cy="420.4" r="2.75" fill="rgb(184,184,184)"/>
<circle cx="1212.9" cy="407.9" r="2.75" fill="rgb(184,184,184)"/>
<circle cx="1214.5" cy="414.1" r="2.75" fill="rgb(184,184,184)"/>
<circle cx="1215.3" cy="420.4" r="2.75" fill="rgb(184,184,184)"/>
<circle cx="1219.9" cy="406.3" r="2.75" fill="rgb(184,184,184)"/>
<circle cx="1222.3" cy="411.8" r="2.75" fill="rgb(184,184,184)"/>
<circle cx="1224.6" cy="417.3" r="2.75" fill="rgb(184,184,184)"/>
<circle cx="1226.2" cy="422.7" r="2.75" fill="rgb(184,184,184)"/>
<circle cx="1227.8" cy="405.5" r="2.75" fill="rgb(184,184,184)"/>
<circle cx="1230.9" cy="410.2" r="2.75" fill="rgb(184,184,184)"/>
<circle cx="1234.0" cy="414.9" r="2.75" fill="rgb(184,184,184)"/>
<circle cx="1237.2" cy="420.4" r="2.75" fill="rgb(184,184,184)"/>
<circle cx="1235.6" cy="404.7" r="2.75" fill="rgb(184,184,184)"/>
<circle cx="1239.5" cy="407.9" r="2.75" fill="rgb(184,184,184)"/>
<circle cx="1243.4" cy="411.8" r="2.75" fill="rgb(184,184,184)"/>
<circle cx="1247.3" cy="415.7" r="2.75" fill="rgb(184,184,184)"/>
<circle cx="1250.5" cy="418.8" r="2.75" fill="rgb(184,184,184)"/>
<circle cx="1243.4" cy="404.7" r="2.75" fill="rgb(184,184,184)"/>
<circle cx="1248.1" cy="407.9" r="2.75" fill="rgb(184,184,184)"/>
<circle cx="1255.2" cy="408.6" r="2.75" fill="rgb(184,184,184)"/>
<circle cx="1263.0" cy="407.9" r="2.75" fill="rgb(184,184,184)"/>
<circle cx="1256.7" cy="418.8" r="2.75" fill="rgb(184,184,184)"/>
<circle cx="1263.8" cy="421.9" r="2.75" fill="rgb(184,184,184)"/>
<circle cx="1045.8" cy="427.7" r="2.75" fill="rgb(184,184,184)"/>
<circle cx="1071.6" cy="428.1" r="2.75" fill="rgb(184,184,184)"/>
<circle cx="1077.9" cy="425.8" r="2.75" fill="rgb(184,184,184)"/>
<circle cx="1064.6" cy="432.8" r="2.75" fill="rgb(184,184,184)"/>
<circle cx="1056.0" cy="437.5" r="2.75" fill="rgb(184,184,184)"/>
<circle cx="1046.6" cy="443.0" r="2.75" fill="rgb(184,184,184)"/>
<circle cx="1076.3" cy="439.1" r="2.75" fill="rgb(184,184,184)"/>
<circle cx="1082.6" cy="433.6" r="2.75" fill="rgb(184,184,184)"/>
<circle cx="1087.6" cy="429.7" r="2.75" fill="rgb(184,184,184)"/>
<circle cx="1091.2" cy="426.2" r="2.75" fill="rgb(184,184,184)"/>
<circle cx="1069.3" cy="446.5" r="2.75" fill="rgb(184,184,184)"/>
<circle cx="1090.0" cy="446.5" r="2.75" fill="rgb(184,184,184)"/>
<circle cx="1095.5" cy="439.9" r="2.75" fill="rgb(184,184,184)"/>
<circle cx="1099.8" cy="434.8" r="2.75" fill="rgb(184,184,184)"/>
<circle cx="1102.9" cy="430.5" r="2.75" fill="rgb(184,184,184)"/>
<circle cx="1111.5" cy="446.1" r="2.75" fill="rgb(184,184,184)"/>
<circle cx="1113.9" cy="439.9" r="2.75" fill="rgb(184,184,184)"/>
<circle cx="1116.6" cy="434.4" r="2.75" fill="rgb(184,184,184)"/>
<circle cx="1118.2" cy="428.9" r="2.75" fill="rgb(184,184,184)"/>
<circle cx="1130.3" cy="443.4" r="2.75" fill="rgb(184,184,184)"/>
<circle cx="1132.2" cy="436.7" r="2.75" fill="rgb(184,184,184)"/>
<circle cx="1133.0" cy="432.0" r="2.75" fill="rgb(184,184,184)"/>
<circle cx="1133.4" cy="427.3" r="2.75" fill="rgb(184,184,184)"/>
<circle cx="1146.7" cy="444.6" r="2.75" fill="rgb(184,184,184)"/>
<circle cx="1147.5" cy="439.1" r="2.75" fill="rgb(184,184,184)"/>
<circle cx="1148.3" cy="434.4" r="2.75" fill="rgb(184,184,184)"/>
<circle cx="1149.1" cy="428.9" r="2.75" fill="rgb(184,184,184)"/>
<circle cx="1061.4" cy="455.1" r="2.75" fill="rgb(184,184,184)"/>
<circle cx="1084.5" cy="454.7" r="2.75" fill="rgb(184,184,184)"/>
<circle cx="1106.8" cy="453.6" r="2.75" fill="rgb(184,184,184)"/>
<circle cx="1127.6" cy="450.4" r="2.75" fill="rgb(184,184,184)"/>
<circle cx="1144.8" cy="452.0" r="2.75" fill="rgb(184,184,184)"/>
<circle cx="1124.4" cy="458.6" r="2.75" fill="rgb(184,184,184)"/>
<circle cx="1142.8" cy="460.6" r="2.75" fill="rgb(184,184,184)"/>
<circle cx="1056.0" cy="463.7" r="2.75" fill="rgb(184,184,184)"/>
<circle cx="1077.9" cy="465.3" r="2.75" fill="rgb(184,184,184)"/>
<circle cx="1101.3" cy="462.9" r="2.75" fill="rgb(184,184,184)"/>
<circle cx="1120.1" cy="468.4" r="2.75" fill="rgb(184,184,184)"/>
<circle cx="1140.5" cy="470.8" r="2.75" fill="rgb(184,184,184)"/>
<circle cx="1054.8" cy="473.5" r="2.75" fill="rgb(184,184,184)"/>
<circle cx="1074.0" cy="473.9" r="2.75" fill="rgb(184,184,184)"/>
<circle cx="1095.5" cy="473.5" r="2.75" fill="rgb(184,184,184)"/>
<circle cx="1163.6" cy="429.7" r="2.75" fill="rgb(184,184,184)"/>
<circle cx="1162.8" cy="433.6" r="2.75" fill="rgb(184,184,184)"/>
<circle cx="1162.0" cy="437.5" r="2.75" fill="rgb(184,184,184)"/>
<circle cx="1161.3" cy="440.6" r="2.75" fill="rgb(184,184,184)"/>
<circle cx="1160.9" cy="444.2" r="2.75" fill="rgb(184,184,184)"/>
<circle cx="1160.9" cy="451.6" r="2.75" fill="rgb(184,184,184)"/>
<circle cx="1161.3" cy="459.8" r="2.75" fill="rgb(184,184,184)"/>
<circle cx="1161.3" cy="470.4" r="2.75" fill="rgb(184,184,184)"/>
<circle cx="1178.1" cy="428.1" r="2.75" fill="rgb(184,184,184)"/>
<circle cx="1177.3" cy="432.0" r="2.75" fill="rgb(184,184,184)"/>
<circle cx="1176.5" cy="436.0" r="2.75" fill="rgb(184,184,184)"/>
<circle cx="1176.1" cy="439.9" r="2.75" fill="rgb(184,184,184)"/>
<circle cx="1176.1" cy="444.2" r="2.75" fill="rgb(184,184,184)"/>
<circle cx="1176.9" cy="450.8" r="2.75" fill="rgb(184,184,184)"/>
<circle cx="1178.9" cy="459.4" r="2.75" fill="rgb(184,184,184)"/>
<circle cx="1182.0" cy="469.6" r="2.75" fill="rgb(184,184,184)"/>
<circle cx="1191.0" cy="429.7" r="2.75" fill="rgb(184,184,184)"/>
<circle cx="1190.6" cy="433.6" r="2.75" fill="rgb(184,184,184)"/>
<circle cx="1190.6" cy="437.5" r="2.75" fill="rgb(184,184,184)"/>
<circle cx="1191.0" cy="441.4" r="2.75" fill="rgb(184,184,184)"/>
<circle cx="1192.6" cy="448.5" r="2.75" fill="rgb(184,184,184)"/>
<circle cx="1195.3" cy="456.7" r="2.75" fill="rgb(184,184,184)"/>
<circle cx="1199.2" cy="466.1" r="2.75" fill="rgb(184,184,184)"/>
<circle cx="1203.9" cy="425.8" r="2.75" fill="rgb(184,184,184)"/>
<circle cx="1204.3" cy="429.7" r="2.75" fill="rgb(184,184,184)"/>
<circle cx="1204.7" cy="433.6" r="2.75" fill="rgb(184,184,184)"/>
<circle cx="1205.5" cy="437.5" r="2.75" fill="rgb(184,184,184)"/>
<circle cx="1206.6" cy="442.6" r="2.75" fill="rgb(184,184,184)"/>
<circle cx="1209.8" cy="450.0" r="2.75" fill="rgb(184,184,184)"/>
<circle cx="1213.7" cy="459.4" r="2.75" fill="rgb(184,184,184)"/>
<circle cx="1218.0" cy="470.8" r="2.75" fill="rgb(184,184,184)"/>
<circle cx="1214.9" cy="426.6" r="2.75" fill="rgb(184,184,184)"/>
<circle cx="1216.8" cy="431.3" r="2.75" fill="rgb(184,184,184)"/>
<circle cx="1218.8" cy="435.6" r="2.75" fill="rgb(184,184,184)"/>
<circle cx="1223.1" cy="441.8" r="2.75" fill="rgb(184,184,184)"/>
<circle cx="1226.6" cy="450.0" r="2.75" fill="rgb(184,184,184)"/>
<circle cx="1230.9" cy="460.2" r="2.75" fill="rgb(184,184,184)"/>
<circle cx="1233.2" cy="470.0" r="2.75" fill="rgb(184,184,184)"/>
<circle cx="1239.5" cy="473.5" r="2.75" fill="rgb(184,184,184)"/>
<circle cx="1227.0" cy="426.6" r="2.75" fill="rgb(184,184,184)"/>
<circle cx="1229.3" cy="428.9" r="2.75" fill="rgb(184,184,184)"/>
<circle cx="1233.2" cy="433.6" r="2.75" fill="rgb(184,184,184)"/>
<circle cx="1238.3" cy="440.3" r="2.75" fill="rgb(184,184,184)"/>
<circle cx="1243.4" cy="448.9" r="2.75" fill="rgb(184,184,184)"/>
<circle cx="1245.8" cy="457.1" r="2.75" fill="rgb(184,184,184)"/>
<circle cx="1243.8" cy="467.6" r="2.75" fill="rgb(184,184,184)"/>
<circle cx="1241.9" cy="426.2" r="2.75" fill="rgb(184,184,184)"/>
<circle cx="1248.5" cy="430.5" r="2.75" fill="rgb(184,184,184)"/>
<circle cx="1255.2" cy="435.6" r="2.75" fill="rgb(184,184,184)"/>
<circle cx="1259.5" cy="442.6" r="2.75" fill="rgb(184,184,184)"/>
<circle cx="1258.3" cy="454.0" r="2.75" fill="rgb(184,184,184)"/>
<circle cx="1255.2" cy="460.2" r="2.75" fill="rgb(184,184,184)"/>
<circle cx="1251.6" cy="466.1" r="2.75" fill="rgb(184,184,184)"/>
<circle cx="1020.2" cy="470.0" r="2.75" fill="rgb(188,188,188)"/>
<circle cx="1036.4" cy="473.6" r="2.75" fill="rgb(186,186,186)"/>
<circle cx="1042.6" cy="480.9" r="2.75" fill="rgb(185,185,185)"/>
<circle cx="1057.2" cy="485.1" r="2.75" fill="rgb(184,184,184)"/>
<circle cx="1072.9" cy="485.4" r="2.75" fill="rgb(184,184,184)"/>
<circle cx="1091.1" cy="485.4" r="2.75" fill="rgb(184,184,184)"/>
<circle cx="1114.6" cy="480.9" r="2.75" fill="rgb(184,184,184)"/>
<circle cx="1137.0" cy="484.6" r="2.75" fill="rgb(184,184,184)"/>
<circle cx="1064.0" cy="491.9" r="2.75" fill="rgb(184,184,184)"/>
<circle cx="1074.9" cy="493.5" r="2.75" fill="rgb(184,184,184)"/>
<circle cx="1090.1" cy="493.5" r="2.75" fill="rgb(184,184,184)"/>
<circle cx="1110.9" cy="492.4" r="2.75" fill="rgb(184,184,184)"/>
<circle cx="1134.4" cy="496.1" r="2.75" fill="rgb(184,184,184)"/>
<circle cx="1081.2" cy="498.7" r="2.75" fill="rgb(184,184,184)"/>
<circle cx="1091.6" cy="499.7" r="2.75" fill="rgb(184,184,184)"/>
<circle cx="1094.2" cy="503.4" r="2.75" fill="rgb(184,184,184)"/>
<circle cx="1109.9" cy="500.2" r="2.75" fill="rgb(184,184,184)"/>
<circle cx="1108.8" cy="506.5" r="2.75" fill="rgb(184,184,184)"/>
<circle cx="1131.8" cy="504.4" r="2.75" fill="rgb(184,184,184)"/>
<circle cx="1129.7" cy="510.1" r="2.75" fill="rgb(184,184,184)"/>
<circle cx="1202.6" cy="478.3" r="2.75" fill="rgb(184,184,184)"/>
<circle cx="1219.8" cy="480.9" r="2.75" fill="rgb(184,184,184)"/>
<circle cx="1230.8" cy="479.9" r="2.75" fill="rgb(184,184,184)"/>
<circle cx="1237.6" cy="477.3" r="2.75" fill="rgb(184,184,184)"/>
<circle cx="1160.9" cy="484.1" r="2.75" fill="rgb(184,184,184)"/>
<circle cx="1183.9" cy="483.0" r="2.75" fill="rgb(184,184,184)"/>
<circle cx="1204.2" cy="489.3" r="2.75" fill="rgb(184,184,184)"/>
<circle cx="1217.8" cy="489.3" r="2.75" fill="rgb(184,184,184)"/>
<circle cx="1225.0" cy="487.2" r="2.75" fill="rgb(184,184,184)"/>
<circle cx="1159.9" cy="495.5" r="2.75" fill="rgb(184,184,184)"/>
<circle cx="1183.4" cy="494.5" r="2.75" fill="rgb(184,184,184)"/>
<circle cx="1212.5" cy="495.0" r="2.75" fill="rgb(184,184,184)"/>
<circle cx="1202.1" cy="497.1" r="2.75" fill="rgb(184,184,184)"/>
<circle cx="1205.2" cy="500.2" r="2.75" fill="rgb(184,184,184)"/>
<circle cx="1156.8" cy="503.9" r="2.75" fill="rgb(184,184,184)"/>
<circle cx="1153.1" cy="509.6" r="2.75" fill="rgb(184,184,184)"/>
<circle cx="1181.3" cy="501.8" r="2.75" fill="rgb(184,184,184)"/>
<circle cx="1176.1" cy="508.6" r="2.75" fill="rgb(184,184,184)"/>
<circle cx="1195.9" cy="503.4" r="2.75" fill="rgb(184,184,184)"/>
<circle cx="1192.7" cy="505.4" r="2.75" fill="rgb(184,184,184)"/>
<circle cx="1112.0" cy="280.8" r="2.75" fill="rgb(184,184,184)"/>
<circle cx="1104.2" cy="287.0" r="2.75" fill="rgb(184,184,184)"/>
<circle cx="1097.3" cy="290.2" r="2.75" fill="rgb(184,184,184)"/>
<circle cx="1120.5" cy="285.7" r="2.75" fill="rgb(184,184,184)"/>
<circle cx="1132.7" cy="287.0" r="2.75" fill="rgb(184,184,184)"/>
<circle cx="1143.3" cy="284.5" r="2.75" fill="rgb(184,184,184)"/>
<circle cx="1158.8" cy="283.3" r="2.75" fill="rgb(184,184,184)"/>
<circle cx="1172.2" cy="283.7" r="2.75" fill="rgb(184,184,184)"/>
<circle cx="1179.9" cy="286.1" r="2.75" fill="rgb(184,184,184)"/>
<circle cx="1186.4" cy="283.7" r="2.75" fill="rgb(184,184,184)"/>
<circle cx="1198.2" cy="284.5" r="2.75" fill="rgb(184,184,184)"/>
<circle cx="1191.3" cy="279.2" r="2.75" fill="rgb(184,184,184)"/>
<circle cx="1110.7" cy="292.6" r="2.75" fill="rgb(184,184,184)"/>
<circle cx="1101.4" cy="297.1" r="2.75" fill="rgb(184,184,184)"/>
<circle cx="1123.8" cy="293.5" r="2.75" fill="rgb(184,184,184)"/>
<circle cx="1134.8" cy="296.3" r="2.75" fill="rgb(184,184,184)"/>
<circle cx="1144.9" cy="292.2" r="2.75" fill="rgb(184,184,184)"/>
<circle cx="1160.0" cy="291.0" r="2.75" fill="rgb(184,184,184)"/>
<circle cx="1173.0" cy="291.4" r="2.75" fill="rgb(184,184,184)"/>
<circle cx="1180.7" cy="295.1" r="2.75" fill="rgb(184,184,184)"/>
<circle cx="1186.4" cy="291.8" r="2.75" fill="rgb(184,184,184)"/>
<circle cx="1195.0" cy="291.0" r="2.75" fill="rgb(184,184,184)"/>
<circle cx="1113.6" cy="298.7" r="2.75" fill="rgb(184,184,184)"/>
<circle cx="1104.2" cy="303.6" r="2.75" fill="rgb(184,184,184)"/>
<circle cx="1125.0" cy="301.2" r="2.75" fill="rgb(184,184,184)"/>
<circle cx="1136.4" cy="305.3" r="2.75" fill="rgb(184,184,184)"/>
<circle cx="1147.4" cy="301.2" r="2.75" fill="rgb(184,184,184)"/>
<circle cx="1161.2" cy="299.2" r="2.75" fill="rgb(184,184,184)"/>
<circle cx="1173.8" cy="300.4" r="2.75" fill="rgb(184,184,184)"/>
<circle cx="1181.9" cy="304.0" r="2.75" fill="rgb(184,184,184)"/>
<circle cx="1188.0" cy="299.6" r="2.75" fill="rgb(184,184,184)"/>
<circle cx="1195.8" cy="296.7" r="2.75" fill="rgb(184,184,184)"/>
<circle cx="1115.2" cy="306.5" r="2.75" fill="rgb(184,184,184)"/>
<circle cx="1106.3" cy="311.0" r="2.75" fill="rgb(184,184,184)"/>
<circle cx="1126.6" cy="309.7" r="2.75" fill="rgb(184,184,184)"/>
<circle cx="1138.0" cy="313.8" r="2.75" fill="rgb(184,184,184)"/>
<circle cx="1149.0" cy="310.1" r="2.75" fill="rgb(184,184,184)"/>
<circle cx="1162.4" cy="308.5" r="2.75" fill="rgb(184,184,184)"/>
<circle cx="1175.0" cy="309.3" r="2.75" fill="rgb(184,184,184)"/>
<circle cx="1183.2" cy="312.2" r="2.75" fill="rgb(184,184,184)"/>
<circle cx="1189.3" cy="307.7" r="2.75" fill="rgb(184,184,184)"/>
<circle cx="1196.2" cy="304.0" r="2.75" fill="rgb(184,184,184)"/>
<circle cx="1117.3" cy="314.2" r="2.75" fill="rgb(184,184,184)"/>
<circle cx="1108.7" cy="318.7" r="2.75" fill="rgb(184,184,184)"/>
<circle cx="1128.6" cy="318.3" r="2.75" fill="rgb(184,184,184)"/>
<circle cx="1139.6" cy="322.3" r="2.75" fill="rgb(184,184,184)"/>
<circle cx="1150.6" cy="319.5" r="2.75" fill="rgb(184,184,184)"/>
<circle cx="1164.0" cy="317.9" r="2.75" fill="rgb(184,184,184)"/>
<circle cx="1176.2" cy="318.7" r="2.75" fill="rgb(184,184,184)"/>
<circle cx="1184.8" cy="321.1" r="2.75" fill="rgb(184,184,184)"/>
<circle cx="1190.1" cy="316.2" r="2.75" fill="rgb(184,184,184)"/>
<circle cx="1196.6" cy="311.8" r="2.75" fill="rgb(184,184,184)"/>
<circle cx="1119.7" cy="322.8" r="2.75" fill="rgb(184,184,184)"/>
<circle cx="1196.6" cy="320.3" r="2.75" fill="rgb(184,184,184)"/>
<circle cx="1196.6" cy="327.6" r="2.75" fill="rgb(184,184,184)"/>
<circle cx="1205.8" cy="287.0" r="2.75" fill="rgb(184,184,184)"/>
<circle cx="1203.4" cy="293.9" r="2.75" fill="rgb(184,184,184)"/>
<circle cx="1203.4" cy="300.8" r="2.75" fill="rgb(184,184,184)"/>
<circle cx="1203.4" cy="308.1" r="2.75" fill="rgb(184,184,184)"/>
<circle cx="1203.0" cy="316.2" r="2.75" fill="rgb(184,184,184)"/>
<circle cx="1202.1" cy="323.6" r="2.75" fill="rgb(184,184,184)"/>
<circle cx="959.9" cy="375.8" r="2.75" fill="rgb(195,195,195)"/>
<circle cx="982.6" cy="375.0" r="2.75" fill="rgb(189,189,189)"/>
<circle cx="997.0" cy="376.6" r="2.75" fill="rgb(186,186,186)"/>
<circle cx="1028.3" cy="376.6" r="2.75" fill="rgb(184,184,184)"/>
<circle cx="951.7" cy="380.1" r="2.75" fill="rgb(198,198,198)"/>
<circle cx="972.4" cy="380.5" r="2.75" fill="rgb(192,192,192)"/>
<circle cx="980.6" cy="384.8" r="2.75" fill="rgb(190,190,190)"/>
<circle cx="967.3" cy="386.3" r="2.75" fill="rgb(193,193,193)"/>
<circle cx="1010.3" cy="382.0" r="2.75" fill="rgb(184,184,184)"/>
<circle cx="945.8" cy="386.3" r="2.75" fill="rgb(200,200,200)"/>
<circle cx="993.9" cy="389.9" r="2.75" fill="rgb(187,187,187)"/>
<circle cx="1022.5" cy="388.3" r="2.75" fill="rgb(184,184,184)"/>
<circle cx="1039.3" cy="382.0" r="2.75" fill="rgb(184,184,184)"/>
<circle cx="962.2" cy="396.1" r="2.75" fill="rgb(195,195,195)"/>
<circle cx="977.5" cy="395.3" r="2.75" fill="rgb(191,191,191)"/>
<circle cx="1008.4" cy="395.3" r="2.75" fill="rgb(185,185,185)"/>
<circle cx="1033.0" cy="393.0" r="2.75" fill="rgb(184,184,184)"/>
<circle cx="955.2" cy="402.8" r="2.75" fill="rgb(198,198,198)"/>
<circle cx="974.0" cy="406.3" r="2.75" fill="rgb(193,193,193)"/>
<circle cx="992.7" cy="402.8" r="2.75" fill="rgb(188,188,188)"/>
<circle cx="1022.1" cy="400.0" r="2.75" fill="rgb(184,184,184)"/>
<circle cx="1033.4" cy="404.0" r="2.75" fill="rgb(184,184,184)"/>
<circle cx="952.0" cy="411.4" r="2.75" fill="rgb(200,200,200)"/>
<circle cx="1009.2" cy="410.2" r="2.75" fill="rgb(185,185,185)"/>
<circle cx="955.6" cy="419.6" r="2.75" fill="rgb(199,199,199)"/>
<circle cx="970.4" cy="418.0" r="2.75" fill="rgb(194,194,194)"/>
<circle cx="991.6" cy="416.9" r="2.75" fill="rgb(189,189,189)"/>
<circle cx="1024.8" cy="414.1" r="2.75" fill="rgb(184,184,184)"/>
<circle cx="1037.7" cy="416.1" r="2.75" fill="rgb(184,184,184)"/>
<circle cx="970.8" cy="428.5" r="2.75" fill="rgb(195,195,195)"/>
<circle cx="991.6" cy="431.3" r="2.75" fill="rgb(190,190,190)"/>
<circle cx="1015.8" cy="430.5" r="2.75" fill="rgb(185,185,185)"/>
<circle cx="1032.6" cy="429.3" r="2.75" fill="rgb(184,184,184)"/>
<circle cx="975.1" cy="439.1" r="2.75" fill="rgb(195,195,195)"/>
<circle cx="991.6" cy="445.7" r="2.75" fill="rgb(191,191,191)"/>
<circle cx="1012.3" cy="444.2" r="2.75" fill="rgb(187,187,187)"/>
<circle cx="1038.5" cy="450.4" r="2.75" fill="rgb(184,184,184)"/>
<circle cx="997.4" cy="455.5" r="2.75" fill="rgb(191,191,191)"/>
<circle cx="1014.6" cy="460.2" r="2.75" fill="rgb(188,188,188)"/>
<circle cx="1035.0" cy="461.4" r="2.75" fill="rgb(185,185,185)"/>
<circle cx="1265.7" cy="375.8" r="2.75" fill="rgb(184,184,184)"/>
<circle cx="1279.0" cy="379.3" r="2.75" fill="rgb(185,185,185)"/>
<circle cx="1297.0" cy="380.1" r="2.75" fill="rgb(191,191,191)"/>
<circle cx="1311.9" cy="376.6" r="2.75" fill="rgb(197,197,197)"/>
<circle cx="1316.5" cy="375.4" r="2.75" fill="rgb(199,199,199)"/>
<circle cx="1270.0" cy="384.8" r="2.75" fill="rgb(184,184,184)"/>
<circle cx="1287.2" cy="386.0" r="2.75" fill="rgb(188,188,188)"/>
<circle cx="1304.0" cy="384.8" r="2.75" fill="rgb(194,194,194)"/>
<circle cx="1311.1" cy="385.2" r="2.75" fill="rgb(197,197,197)"/>
<circle cx="1244.2" cy="389.5" r="2.75" fill="rgb(184,184,184)"/>
<circle cx="1278.2" cy="391.0" r="2.75" fill="rgb(185,185,185)"/>
<circle cx="1295.8" cy="392.6" r="2.75" fill="rgb(191,191,191)"/>
<circle cx="1310.7" cy="391.4" r="2.75" fill="rgb(197,197,197)"/>
<circle cx="1268.4" cy="395.3" r="2.75" fill="rgb(184,184,184)"/>
<circle cx="1304.0" cy="396.1" r="2.75" fill="rgb(194,194,194)"/>
<circle cx="1284.9" cy="400.8" r="2.75" fill="rgb(188,188,188)"/>
<circle cx="1274.3" cy="405.5" r="2.75" fill="rgb(185,185,185)"/>
<circle cx="1293.5" cy="407.1" r="2.75" fill="rgb(191,191,191)"/>
<circle cx="1302.1" cy="407.1" r="2.75" fill="rgb(194,194,194)"/>
<circle cx="1277.0" cy="421.6" r="2.75" fill="rgb(187,187,187)"/>
<circle cx="1288.4" cy="421.2" r="2.75" fill="rgb(190,190,190)"/>
<circle cx="1295.4" cy="417.6" r="2.75" fill="rgb(192,192,192)"/>
<circle cx="1244.6" cy="423.5" r="2.75" fill="rgb(184,184,184)"/>
<circle cx="1274.3" cy="435.6" r="2.75" fill="rgb(187,187,187)"/>
<circle cx="1282.5" cy="428.5" r="2.75" fill="rgb(189,189,189)"/>
<circle cx="1282.5" cy="436.3" r="2.75" fill="rgb(189,189,189)"/>
<circle cx="1270.0" cy="445.3" r="2.75" fill="rgb(186,186,186)"/>
<circle cx="1267.3" cy="451.6" r="2.75" fill="rgb(186,186,186)"/>
<circle cx="1112.2" cy="332.7" r="2.75" fill="rgb(184,184,184)"/>
<circle cx="1108.8" cy="337.1" r="2.75" fill="rgb(184,184,184)"/>
<circle cx="1113.9" cy="337.9" r="2.75" fill="rgb(184,184,184)"/>
<circle cx="1106.2" cy="342.2" r="2.75" fill="rgb(184,184,184)"/>
<circle cx="1112.2" cy="343.1" r="2.75" fill="rgb(184,184,184)"/>
<circle cx="1101.9" cy="344.8" r="2.75" fill="rgb(184,184,184)"/>
<circle cx="1107.1" cy="347.4" r="2.75" fill="rgb(184,184,184)"/>
<circle cx="1113.1" cy="348.2" r="2.75" fill="rgb(184,184,184)"/>
<circle cx="1104.5" cy="352.6" r="2.75" fill="rgb(184,184,184)"/>
<circle cx="1110.5" cy="351.7" r="2.75" fill="rgb(184,184,184)"/>
<circle cx="1115.7" cy="350.8" r="2.75" fill="rgb(184,184,184)"/>
<circle cx="1103.6" cy="356.0" r="2.75" fill="rgb(184,184,184)"/>
<circle cx="1109.6" cy="355.1" r="2.75" fill="rgb(184,184,184)"/>
<circle cx="1115.7" cy="356.0" r="2.75" fill="rgb(184,184,184)"/>
<circle cx="1120.8" cy="355.1" r="2.75" fill="rgb(184,184,184)"/>
<circle cx="1126.0" cy="354.3" r="2.75" fill="rgb(184,184,184)"/>
<circle cx="1131.2" cy="354.7" r="2.75" fill="rgb(184,184,184)"/>
<circle cx="1136.3" cy="355.1" r="2.75" fill="rgb(184,184,184)"/>
<circle cx="1141.5" cy="356.0" r="2.75" fill="rgb(184,184,184)"/>
<circle cx="1146.7" cy="356.9" r="2.75" fill="rgb(184,184,184)"/>
<circle cx="1151.8" cy="357.7" r="2.75" fill="rgb(184,184,184)"/>
<circle cx="1157.0" cy="358.6" r="2.75" fill="rgb(184,184,184)"/>
<circle cx="1116.5" cy="361.2" r="2.75" fill="rgb(184,184,184)"/>
<circle cx="1122.6" cy="360.3" r="2.75" fill="rgb(184,184,184)"/>
<circle cx="1129.4" cy="359.4" r="2.75" fill="rgb(184,184,184)"/>
<circle cx="1134.6" cy="361.2" r="2.75" fill="rgb(184,184,184)"/>
<circle cx="1139.8" cy="361.2" r="2.75" fill="rgb(184,184,184)"/>
<circle cx="1144.9" cy="361.2" r="2.75" fill="rgb(184,184,184)"/>
<circle cx="1150.1" cy="362.0" r="2.75" fill="rgb(184,184,184)"/>
<circle cx="1155.3" cy="362.9" r="2.75" fill="rgb(184,184,184)"/>
<circle cx="1177.7" cy="356.0" r="2.75" fill="rgb(184,184,184)"/>
<circle cx="1182.8" cy="355.1" r="2.75" fill="rgb(184,184,184)"/>
<circle cx="1188.0" cy="354.3" r="2.75" fill="rgb(184,184,184)"/>
<circle cx="1193.1" cy="353.4" r="2.75" fill="rgb(184,184,184)"/>
<circle cx="1198.3" cy="353.4" r="2.75" fill="rgb(184,184,184)"/>
<circle cx="1203.5" cy="354.3" r="2.75" fill="rgb(184,184,184)"/>
<circle cx="1208.6" cy="354.3" r="2.75" fill="rgb(184,184,184)"/>
<circle cx="1176.8" cy="361.2" r="2.75" fill="rgb(184,184,184)"/>
<circle cx="1182.0" cy="360.3" r="2.75" fill="rgb(184,184,184)"/>
<circle cx="1187.1" cy="359.4" r="2.75" fill="rgb(184,184,184)"/>
<circle cx="1192.3" cy="358.6" r="2.75" fill="rgb(184,184,184)"/>
<circle cx="1197.5" cy="359.4" r="2.75" fill="rgb(184,184,184)"/>
<circle cx="1202.6" cy="361.2" r="2.75" fill="rgb(184,184,184)"/>
<circle cx="1206.9" cy="357.7" r="2.75" fill="rgb(184,184,184)"/>
<circle cx="1133.7" cy="365.5" r="2.75" fill="rgb(184,184,184)"/>
<circle cx="1136.3" cy="366.3" r="2.75" fill="rgb(184,184,184)"/>
<circle cx="1148.4" cy="366.3" r="2.75" fill="rgb(184,184,184)"/>
<circle cx="1153.5" cy="368.0" r="2.75" fill="rgb(184,184,184)"/>
<circle cx="1157.8" cy="370.6" r="2.75" fill="rgb(184,184,184)"/>
<circle cx="1151.8" cy="373.2" r="2.75" fill="rgb(184,184,184)"/>
<circle cx="1163.9" cy="369.8" r="2.75" fill="rgb(184,184,184)"/>
<circle cx="1168.2" cy="368.0" r="2.75" fill="rgb(184,184,184)"/>
<circle cx="1170.8" cy="373.2" r="2.75" fill="rgb(184,184,184)"/>
<circle cx="1172.5" cy="376.7" r="2.75" fill="rgb(184,184,184)"/>
<circle cx="1162.2" cy="374.9" r="2.75" fill="rgb(184,184,184)"/>
<circle cx="1155.3" cy="376.7" r="2.75" fill="rgb(184,184,184)"/>
<circle cx="1175.9" cy="366.3" r="2.75" fill="rgb(184,184,184)"/>
<circle cx="1181.1" cy="368.0" r="2.75" fill="rgb(184,184,184)"/>
<circle cx="1194.0" cy="331.9" r="2.75" fill="rgb(184,184,184)"/>
<circle cx="1198.3" cy="333.6" r="2.75" fill="rgb(184,184,184)"/>
<circle cx="1202.6" cy="335.3" r="2.75" fill="rgb(184,184,184)"/>
<circle cx="1206.9" cy="337.9" r="2.75" fill="rgb(184,184,184)"/>
<circle cx="1209.5" cy="342.2" r="2.75" fill="rgb(184,184,184)"/>
<circle cx="1204.3" cy="342.2" r="2.75" fill="rgb(184,184,184)"/>
<circle cx="1209.5" cy="347.4" r="2.75" fill="rgb(184,184,184)"/>
<circle cx="1205.2" cy="348.2" r="2.75" fill="rgb(184,184,184)"/>
<circle cx="1200.0" cy="349.1" r="2.75" fill="rgb(184,184,184)"/>
<circle cx="1210.4" cy="351.7" r="2.75" fill="rgb(184,184,184)"/>
<circle cx="1206.1" cy="352.6" r="2.75" fill="rgb(184,184,184)"/>
<circle cx="1073.8" cy="409.0" r="2.75" fill="rgb(184,184,184)"/>
<circle cx="1070.1" cy="410.6" r="2.75" fill="rgb(184,184,184)"/>
<circle cx="1066.4" cy="412.1" r="2.75" fill="rgb(184,184,184)"/>
<circle cx="1062.7" cy="413.7" r="2.75" fill="rgb(184,184,184)"/>
<circle cx="1059.0" cy="415.2" r="2.75" fill="rgb(184,184,184)"/>
<circle cx="1055.3" cy="416.8" r="2.75" fill="rgb(184,184,184)"/>
<circle cx="1051.7" cy="418.3" r="2.75" fill="rgb(184,184,184)"/>
<circle cx="1076.1" cy="411.0" r="2.75" fill="rgb(184,184,184)"/>
<circle cx="1073.2" cy="413.8" r="2.75" fill="rgb(184,184,184)"/>
<circle cx="1070.3" cy="416.5" r="2.75" fill="rgb(184,184,184)"/>
<circle cx="1067.4" cy="419.3" r="2.75" fill="rgb(184,184,184)"/>
<circle cx="1064.5" cy="422.1" r="2.75" fill="rgb(184,184,184)"/>
<circle cx="1061.7" cy="424.8" r="2.75" fill="rgb(184,184,184)"/>
<circle cx="1080.6" cy="412.4" r="2.75" fill="rgb(184,184,184)"/>
<circle cx="1079.3" cy="416.2" r="2.75" fill="rgb(184,184,184)"/>
<circle cx="1078.0" cy="420.0" r="2.75" fill="rgb(184,184,184)"/>
<circle cx="1076.6" cy="423.7" r="2.75" fill="rgb(184,184,184)"/>
<circle cx="1075.3" cy="427.5" r="2.75" fill="rgb(184,184,184)"/>
<circle cx="1089.4" cy="412.7" r="2.75" fill="rgb(184,184,184)"/>
<circle cx="1089.4" cy="416.7" r="2.75" fill="rgb(184,184,184)"/>
<circle cx="1089.4" cy="420.7" r="2.75" fill="rgb(184,184,184)"/>
<circle cx="1089.4" cy="424.7" r="2.75" fill="rgb(184,184,184)"/>
<circle cx="1089.4" cy="428.7" r="2.75" fill="rgb(184,184,184)"/>
<circle cx="1100.5" cy="412.2" r="2.75" fill="rgb(184,184,184)"/>
<circle cx="1101.0" cy="416.1" r="2.75" fill="rgb(184,184,184)"/>
<circle cx="1101.6" cy="420.1" r="2.75" fill="rgb(184,184,184)"/>
<circle cx="1102.1" cy="424.1" r="2.75" fill="rgb(184,184,184)"/>
<circle cx="1102.7" cy="428.0" r="2.75" fill="rgb(184,184,184)"/>
<circle cx="1238.7" cy="403.0" r="2.75" fill="rgb(184,184,184)"/>
<circle cx="1242.6" cy="403.8" r="2.75" fill="rgb(184,184,184)"/>
<circle cx="1246.6" cy="404.5" r="2.75" fill="rgb(184,184,184)"/>
<circle cx="1250.5" cy="405.3" r="2.75" fill="rgb(184,184,184)"/>
<circle cx="1254.4" cy="406.1" r="2.75" fill="rgb(184,184,184)"/>
<circle cx="1258.3" cy="406.8" r="2.75" fill="rgb(184,184,184)"/>
<circle cx="1262.3" cy="407.6" r="2.75" fill="rgb(184,184,184)"/>
<circle cx="1266.2" cy="408.4" r="2.75" fill="rgb(184,184,184)"/>
<circle cx="1236.8" cy="404.5" r="2.75" fill="rgb(184,184,184)"/>
<circle cx="1240.3" cy="406.4" r="2.75" fill="rgb(184,184,184)"/>
<circle cx="1243.9" cy="408.3" r="2.75" fill="rgb(184,184,184)"/>
<circle cx="1247.4" cy="410.2" r="2.75" fill="rgb(184,184,184)"/>
<circle cx="1250.9" cy="412.1" r="2.75" fill="rgb(184,184,184)"/>
<circle cx="1254.5" cy="414.0" r="2.75" fill="rgb(184,184,184)"/>
<circle cx="1258.0" cy="415.8" r="2.75" fill="rgb(184,184,184)"/>
<circle cx="1261.5" cy="417.7" r="2.75" fill="rgb(184,184,184)"/>
<circle cx="1232.9" cy="406.0" r="2.75" fill="rgb(184,184,184)"/>
<circle cx="1235.6" cy="409.0" r="2.75" fill="rgb(184,184,184)"/>
<circle cx="1238.2" cy="412.0" r="2.75" fill="rgb(184,184,184)"/>
<circle cx="1240.9" cy="415.0" r="2.75" fill="rgb(184,184,184)"/>
<circle cx="1243.5" cy="418.0" r="2.75" fill="rgb(184,184,184)"/>
<circle cx="1246.2" cy="421.0" r="2.75" fill="rgb(184,184,184)"/>
<circle cx="1248.8" cy="424.0" r="2.75" fill="rgb(184,184,184)"/>
<circle cx="1251.5" cy="427.0" r="2.75" fill="rgb(184,184,184)"/>
<circle cx="1227.6" cy="406.8" r="2.75" fill="rgb(184,184,184)"/>
<circle cx="1229.4" cy="410.4" r="2.75" fill="rgb(184,184,184)"/>
<circle cx="1231.2" cy="414.0" r="2.75" fill="rgb(184,184,184)"/>
<circle cx="1233.0" cy="417.5" r="2.75" fill="rgb(184,184,184)"/>
<circle cx="1234.8" cy="421.1" r="2.75" fill="rgb(184,184,184)"/>
<circle cx="1236.6" cy="424.7" r="2.75" fill="rgb(184,184,184)"/>
<circle cx="1238.4" cy="428.3" r="2.75" fill="rgb(184,184,184)"/>
<circle cx="1220.5" cy="407.2" r="2.75" fill="rgb(184,184,184)"/>
<circle cx="1221.1" cy="411.2" r="2.75" fill="rgb(184,184,184)"/>
<circle cx="1221.8" cy="415.1" r="2.75" fill="rgb(184,184,184)"/>
<circle cx="1222.5" cy="419.0" r="2.75" fill="rgb(184,184,184)"/>
<circle cx="1223.1" cy="423.0" r="2.75" fill="rgb(184,184,184)"/>
<circle cx="1223.8" cy="426.9" r="2.75" fill="rgb(184,184,184)"/>
<circle cx="1211.9" cy="407.5" r="2.75" fill="rgb(184,184,184)"/>
<circle cx="1211.4" cy="411.5" r="2.75" fill="rgb(184,184,184)"/>
<circle cx="1211.0" cy="415.5" r="2.75" fill="rgb(184,184,184)"/>
<circle cx="1210.5" cy="419.5" r="2.75" fill="rgb(184,184,184)"/>
<circle cx="1210.1" cy="423.4" r="2.75" fill="rgb(184,184,184)"/>
<circle cx="1209.6" cy="427.4" r="2.75" fill="rgb(184,184,184)"/>
<polygon points="1067.7,404.2 1079.0,400.7 1090.9,398.5 1102.9,396.2 1108.2,404.8 1102.9,406.7 1085.0,407.2 1068.5,406.7" fill="#2fcfcf" fill-opacity="0.95"/>
<polygon points="1204.1,400.7 1214.6,392.5 1225.8,392.5 1234.8,393.2 1246.0,397.3 1243.8,400.7 1227.3,401.8 1207.1,402.2" fill="#2fcfcf" fill-opacity="0.95"/>
<circle cx="1119.4" cy="385.0" r="2.75" fill="#2fcfcf"/>
<circle cx="1119.1" cy="387.6" r="2.75" fill="#2fcfcf"/>
<circle cx="1118.8" cy="390.1" r="2.75" fill="#2fcfcf"/>
<circle cx="1118.4" cy="392.7" r="2.75" fill="#2fcfcf"/>
<circle cx="1118.1" cy="395.3" r="2.75" fill="#2fcfcf"/>
<circle cx="1118.3" cy="397.8" r="2.75" fill="#2fcfcf"/>
<circle cx="1119.3" cy="400.2" r="2.75" fill="#2fcfcf"/>
<circle cx="1120.3" cy="402.6" r="2.75" fill="#2fcfcf"/>
<circle cx="1121.3" cy="405.0" r="2.75" fill="#2fcfcf"/>
<circle cx="1135.1" cy="384.2" r="2.75" fill="#2fcfcf"/>
<circle cx="1134.8" cy="386.8" r="2.75" fill="#2fcfcf"/>
<circle cx="1134.4" cy="389.4" r="2.75" fill="#2fcfcf"/>
<circle cx="1134.0" cy="391.9" r="2.75" fill="#2fcfcf"/>
<circle cx="1133.6" cy="394.5" r="2.75" fill="#2fcfcf"/>
<circle cx="1133.6" cy="397.1" r="2.75" fill="#2fcfcf"/>
<circle cx="1133.6" cy="399.7" r="2.75" fill="#2fcfcf"/>
<circle cx="1133.6" cy="402.3" r="2.75" fill="#2fcfcf"/>
<circle cx="1133.6" cy="404.9" r="2.75" fill="#2fcfcf"/>
<circle cx="1150.1" cy="385.0" r="2.75" fill="#2fcfcf"/>
<circle cx="1149.9" cy="387.6" r="2.75" fill="#2fcfcf"/>
<circle cx="1149.8" cy="390.2" r="2.75" fill="#2fcfcf"/>
<circle cx="1149.6" cy="392.8" r="2.75" fill="#2fcfcf"/>
<circle cx="1149.4" cy="395.4" r="2.75" fill="#2fcfcf"/>
<circle cx="1148.8" cy="397.9" r="2.75" fill="#2fcfcf"/>
<circle cx="1148.1" cy="400.4" r="2.75" fill="#2fcfcf"/>
<circle cx="1147.5" cy="402.9" r="2.75" fill="#2fcfcf"/>
<circle cx="1146.9" cy="405.4" r="2.75" fill="#2fcfcf"/>
<circle cx="1162.9" cy="385.0" r="2.75" fill="#2fcfcf"/>
<circle cx="1163.1" cy="387.6" r="2.75" fill="#2fcfcf"/>
<circle cx="1163.2" cy="390.2" r="2.75" fill="#2fcfcf"/>
<circle cx="1163.4" cy="392.8" r="2.75" fill="#2fcfcf"/>
<circle cx="1163.6" cy="395.4" r="2.75" fill="#2fcfcf"/>
<circle cx="1163.3" cy="397.9" r="2.75" fill="#2fcfcf"/>
<circle cx="1163.0" cy="400.5" r="2.75" fill="#2fcfcf"/>
<circle cx="1162.7" cy="403.1" r="2.75" fill="#2fcfcf"/>
<circle cx="1162.3" cy="405.7" r="2.75" fill="#2fcfcf"/>
<circle cx="1174.9" cy="385.0" r="2.75" fill="#2fcfcf"/>
<circle cx="1175.5" cy="387.5" r="2.75" fill="#2fcfcf"/>
<circle cx="1176.1" cy="390.0" r="2.75" fill="#2fcfcf"/>
<circle cx="1176.7" cy="392.6" r="2.75" fill="#2fcfcf"/>
<circle cx="1177.0" cy="395.1" r="2.75" fill="#2fcfcf"/>
<circle cx="1176.6" cy="397.7" r="2.75" fill="#2fcfcf"/>
<circle cx="1176.3" cy="400.3" r="2.75" fill="#2fcfcf"/>
<circle cx="1176.0" cy="402.8" r="2.75" fill="#2fcfcf"/>
<circle cx="1175.7" cy="405.4" r="2.75" fill="#2fcfcf"/>
<circle cx="1187.6" cy="384.2" r="2.75" fill="#2fcfcf"/>
<circle cx="1188.5" cy="386.7" r="2.75" fill="#2fcfcf"/>
<circle cx="1189.4" cy="389.1" r="2.75" fill="#2fcfcf"/>
<circle cx="1190.3" cy="391.6" r="2.75" fill="#2fcfcf"/>
<circle cx="1190.2" cy="394.1" r="2.75" fill="#2fcfcf"/>
<circle cx="1189.6" cy="396.6" r="2.75" fill="#2fcfcf"/>
<circle cx="1188.9" cy="399.1" r="2.75" fill="#2fcfcf"/>
<circle cx="1188.3" cy="401.6" r="2.75" fill="#2fcfcf"/>
<circle cx="1187.7" cy="404.1" r="2.75" fill="#2fcfcf"/>
<circle cx="1201.8" cy="383.5" r="2.75" fill="#2fcfcf"/>
<circle cx="1202.3" cy="386.0" r="2.75" fill="#2fcfcf"/>
<circle cx="1202.7" cy="388.6" r="2.75" fill="#2fcfcf"/>
<circle cx="1203.1" cy="391.2" r="2.75" fill="#2fcfcf"/>
<circle cx="1202.9" cy="393.7" r="2.75" fill="#2fcfcf"/>
<circle cx="1202.1" cy="396.2" r="2.75" fill="#2fcfcf"/>
<circle cx="1201.3" cy="398.6" r="2.75" fill="#2fcfcf"/>
<circle cx="1200.4" cy="401.1" r="2.75" fill="#2fcfcf"/>
<circle cx="1214.6" cy="385.0" r="2.75" fill="#2fcfcf"/>
<circle cx="1214.8" cy="387.6" r="2.75" fill="#2fcfcf"/>
<circle cx="1215.1" cy="390.2" r="2.75" fill="#2fcfcf"/>
<circle cx="1215.2" cy="392.7" r="2.75" fill="#2fcfcf"/>
<circle cx="1214.2" cy="395.1" r="2.75" fill="#2fcfcf"/>
<circle cx="1213.3" cy="397.6" r="2.75" fill="#2fcfcf"/>
<circle cx="1212.3" cy="400.0" r="2.75" fill="#2fcfcf"/>
<circle cx="1007.7" cy="287.4" r="2.75" fill="#2e4d9e"/>
<circle cx="1018.2" cy="287.0" r="2.75" fill="#2e4d9e"/>
<circle cx="1026.8" cy="289.0" r="2.75" fill="#2e4d9e"/>
<circle cx="1034.3" cy="289.8" r="2.75" fill="#2e4d9e"/>
<circle cx="1046.3" cy="290.6" r="2.75" fill="#2e4d9e"/>
<circle cx="1058.1" cy="290.6" r="2.75" fill="#2e4d9e"/>
<circle cx="1068.7" cy="289.8" r="2.75" fill="#2e4d9e"/>
<circle cx="1078.4" cy="288.2" r="2.75" fill="#2e4d9e"/>
<circle cx="1087.0" cy="285.9" r="2.75" fill="#2e4d9e"/>
<circle cx="998.3" cy="291.0" r="2.75" fill="#2e4d9e"/>
<circle cx="1015.0" cy="292.6" r="2.75" fill="#2e4d9e"/>
<circle cx="1023.6" cy="296.0" r="2.75" fill="#2e4d9e"/>
<circle cx="1033.8" cy="297.3" r="2.75" fill="#2e4d9e"/>
<circle cx="1045.2" cy="298.4" r="2.75" fill="#2e4d9e"/>
<circle cx="1057.3" cy="298.4" r="2.75" fill="#2e4d9e"/>
<circle cx="1069.0" cy="297.1" r="2.75" fill="#2e4d9e"/>
<circle cx="1080.0" cy="294.9" r="2.75" fill="#2e4d9e"/>
<circle cx="1088.9" cy="292.6" r="2.75" fill="#2e4d9e"/>
<circle cx="985.3" cy="295.3" r="2.75" fill="#2e4d9e"/>
<circle cx="1005.6" cy="298.4" r="2.75" fill="#2e4d9e"/>
<circle cx="1016.6" cy="303.5" r="2.75" fill="#2e4d9e"/>
<circle cx="1029.1" cy="306.7" r="2.75" fill="#2e4d9e"/>
<circle cx="1043.2" cy="308.2" r="2.75" fill="#2e4d9e"/>
<circle cx="1057.3" cy="307.8" r="2.75" fill="#2e4d9e"/>
<circle cx="1070.9" cy="306.2" r="2.75" fill="#2e4d9e"/>
<circle cx="1082.6" cy="303.9" r="2.75" fill="#2e4d9e"/>
<circle cx="1092.8" cy="301.0" r="2.75" fill="#2e4d9e"/>
<circle cx="967.6" cy="301.5" r="2.75" fill="#2e4d9e"/>
<circle cx="992.8" cy="304.6" r="2.75" fill="#2e4d9e"/>
<circle cx="1006.9" cy="311.2" r="2.75" fill="#2e4d9e"/>
<circle cx="1022.8" cy="315.9" r="2.75" fill="#2e4d9e"/>
<circle cx="1040.4" cy="318.7" r="2.75" fill="#2e4d9e"/>
<circle cx="1057.0" cy="317.2" r="2.75" fill="#2e4d9e"/>
<circle cx="1072.1" cy="314.8" r="2.75" fill="#2e4d9e"/>
<circle cx="1085.1" cy="311.7" r="2.75" fill="#2e4d9e"/>
<circle cx="1095.6" cy="307.8" r="2.75" fill="#2e4d9e"/>
<circle cx="974.0" cy="317.9" r="2.75" fill="#2e4d9e"/>
<circle cx="995.5" cy="324.2" r="2.75" fill="#2e4d9e"/>
<circle cx="1015.3" cy="330.1" r="2.75" fill="#2e4d9e"/>
<circle cx="1036.9" cy="334.4" r="2.75" fill="#2e4d9e"/>
<circle cx="1058.8" cy="329.4" r="2.75" fill="#2e4d9e"/>
<circle cx="1075.0" cy="324.5" r="2.75" fill="#2e4d9e"/>
<circle cx="1087.5" cy="320.3" r="2.75" fill="#2e4d9e"/>
<circle cx="1098.0" cy="315.6" r="2.75" fill="#2e4d9e"/>
<circle cx="1091.2" cy="328.6" r="2.75" fill="#2e4d9e"/>
<circle cx="1100.6" cy="323.7" r="2.75" fill="#2e4d9e"/>
<circle cx="1103.9" cy="330.5" r="2.75" fill="#2e4d9e"/>
<circle cx="1080.0" cy="333.6" r="2.75" fill="#2e4d9e"/>
<circle cx="1214.7" cy="281.9" r="2.75" fill="#2e4d9e"/>
<circle cx="1224.1" cy="284.3" r="2.75" fill="#2e4d9e"/>
<circle cx="1234.2" cy="285.4" r="2.75" fill="#2e4d9e"/>
<circle cx="1244.4" cy="285.4" r="2.75" fill="#2e4d9e"/>
<circle cx="1255.4" cy="285.1" r="2.75" fill="#2e4d9e"/>
<circle cx="1265.5" cy="283.8" r="2.75" fill="#2e4d9e"/>
<circle cx="1274.1" cy="281.9" r="2.75" fill="#2e4d9e"/>
<circle cx="1282.8" cy="280.4" r="2.75" fill="#2e4d9e"/>
<circle cx="1213.9" cy="289.0" r="2.75" fill="#2e4d9e"/>
<circle cx="1222.5" cy="291.0" r="2.75" fill="#2e4d9e"/>
<circle cx="1232.4" cy="292.6" r="2.75" fill="#2e4d9e"/>
<circle cx="1243.6" cy="292.9" r="2.75" fill="#2e4d9e"/>
<circle cx="1254.3" cy="292.6" r="2.75" fill="#2e4d9e"/>
<circle cx="1264.0" cy="290.6" r="2.75" fill="#2e4d9e"/>
<circle cx="1272.1" cy="289.5" r="2.75" fill="#2e4d9e"/>
<circle cx="1279.3" cy="284.8" r="2.75" fill="#2e4d9e"/>
<circle cx="1290.6" cy="282.7" r="2.75" fill="#2e4d9e"/>
<circle cx="1300.3" cy="286.3" r="2.75" fill="#2e4d9e"/>
<circle cx="1212.0" cy="297.6" r="2.75" fill="#2e4d9e"/>
<circle cx="1220.9" cy="299.2" r="2.75" fill="#2e4d9e"/>
<circle cx="1231.9" cy="301.5" r="2.75" fill="#2e4d9e"/>
<circle cx="1244.4" cy="302.6" r="2.75" fill="#2e4d9e"/>
<circle cx="1256.6" cy="302.0" r="2.75" fill="#2e4d9e"/>
<circle cx="1268.4" cy="299.2" r="2.75" fill="#2e4d9e"/>
<circle cx="1278.1" cy="295.7" r="2.75" fill="#2e4d9e"/>
<circle cx="1286.2" cy="290.1" r="2.75" fill="#2e4d9e"/>
<circle cx="1296.5" cy="296.0" r="2.75" fill="#2e4d9e"/>
<circle cx="1312.2" cy="291.3" r="2.75" fill="#2e4d9e"/>
<circle cx="1210.8" cy="304.6" r="2.75" fill="#2e4d9e"/>
<circle cx="1220.5" cy="307.3" r="2.75" fill="#2e4d9e"/>
<circle cx="1232.4" cy="309.8" r="2.75" fill="#2e4d9e"/>
<circle cx="1246.0" cy="311.7" r="2.75" fill="#2e4d9e"/>
<circle cx="1261.3" cy="312.0" r="2.75" fill="#2e4d9e"/>
<circle cx="1275.4" cy="307.8" r="2.75" fill="#2e4d9e"/>
<circle cx="1287.1" cy="302.6" r="2.75" fill="#2e4d9e"/>
<circle cx="1210.5" cy="312.0" r="2.75" fill="#2e4d9e"/>
<circle cx="1219.8" cy="315.6" r="2.75" fill="#2e4d9e"/>
<circle cx="1232.1" cy="319.5" r="2.75" fill="#2e4d9e"/>
<circle cx="1247.1" cy="323.7" r="2.75" fill="#2e4d9e"/>
<circle cx="1267.1" cy="328.9" r="2.75" fill="#2e4d9e"/>
<circle cx="1283.5" cy="321.9" r="2.75" fill="#2e4d9e"/>
<circle cx="1297.3" cy="315.1" r="2.75" fill="#2e4d9e"/>
<circle cx="1310.6" cy="307.8" r="2.75" fill="#2e4d9e"/>
<circle cx="1209.7" cy="320.3" r="2.75" fill="#2e4d9e"/>
<circle cx="1217.8" cy="324.5" r="2.75" fill="#2e4d9e"/>
<circle cx="1228.8" cy="329.7" r="2.75" fill="#2e4d9e"/>
<circle cx="1207.6" cy="327.3" r="2.75" fill="#2e4d9e"/>
<circle cx="1213.9" cy="332.8" r="2.75" fill="#2e4d9e"/>
<circle cx="1242.1" cy="334.4" r="2.75" fill="#2e4d9e"/>
<circle cx="1096.3" cy="337.1" r="2.75" fill="#2e4d9e"/>
<circle cx="1066.1" cy="341.8" r="2.75" fill="#2e4d9e"/>
<circle cx="1086.5" cy="343.8" r="2.75" fill="#2e4d9e"/>
<circle cx="1050.1" cy="350.8" r="2.75" fill="#2e4d9e"/>
<circle cx="1074.7" cy="352.2" r="2.75" fill="#2e4d9e"/>
<circle cx="1061.4" cy="361.4" r="2.75" fill="#2e4d9e"/>
<circle cx="1222.7" cy="339.1" r="2.75" fill="#2e4d9e"/>
<circle cx="1234.0" cy="346.9" r="2.75" fill="#2e4d9e"/>
<circle cx="1256.7" cy="344.2" r="2.75" fill="#2e4d9e"/>
<circle cx="1246.5" cy="355.5" r="2.75" fill="#2e4d9e"/>
<circle cx="1138.0" cy="242.5" r="2.75" fill="#3fc43f"/>
<circle cx="1157.9" cy="243.1" r="2.75" fill="#3fc43f"/>
<circle cx="1177.9" cy="241.7" r="2.75" fill="#3fc43f"/>
<circle cx="1139.6" cy="260.8" r="2.75" fill="#3fc43f"/>
<circle cx="1157.6" cy="260.4" r="2.75" fill="#3fc43f"/>
<circle cx="1175.1" cy="260.4" r="2.75" fill="#3fc43f"/>
<circle cx="1139.1" cy="269.1" r="2.75" fill="#3fc43f"/>
<circle cx="1157.2" cy="269.7" r="2.75" fill="#3fc43f"/>
<circle cx="1173.2" cy="268.6" r="2.75" fill="#3fc43f"/>
<circle cx="1141.6" cy="276.9" r="2.75" fill="#3fc43f"/>
<circle cx="1157.6" cy="276.5" r="2.75" fill="#3fc43f"/>
<circle cx="1171.6" cy="276.5" r="2.75" fill="#3fc43f"/>
<circle cx="1066.7" cy="404.4" r="2.75" fill="#2fcfcf"/>
<circle cx="1070.9" cy="403.4" r="2.75" fill="#2fcfcf"/>
<circle cx="1075.0" cy="402.3" r="2.75" fill="#2fcfcf"/>
<circle cx="1079.2" cy="401.3" r="2.75" fill="#2fcfcf"/>
<circle cx="1083.4" cy="402.3" r="2.75" fill="#2fcfcf"/>
<circle cx="1087.6" cy="403.4" r="2.75" fill="#2fcfcf"/>
<circle cx="1091.7" cy="403.4" r="2.75" fill="#2fcfcf"/>
<circle cx="1095.9" cy="403.4" r="2.75" fill="#2fcfcf"/>
<circle cx="1100.1" cy="403.4" r="2.75" fill="#2fcfcf"/>
<circle cx="1104.2" cy="403.4" r="2.75" fill="#2fcfcf"/>
<circle cx="1108.4" cy="404.4" r="2.75" fill="#2fcfcf"/>
<circle cx="1110.5" cy="406.0" r="2.75" fill="#2fcfcf"/>
<circle cx="1068.8" cy="398.1" r="2.75" fill="#2fcfcf"/>
<circle cx="1076.1" cy="396.1" r="2.75" fill="#2fcfcf"/>
<circle cx="1081.3" cy="399.2" r="2.75" fill="#2fcfcf"/>
<circle cx="1089.6" cy="394.0" r="2.75" fill="#2fcfcf"/>
<circle cx="1090.7" cy="399.2" r="2.75" fill="#2fcfcf"/>
<circle cx="1096.9" cy="401.3" r="2.75" fill="#2fcfcf"/>
<circle cx="1104.2" cy="389.8" r="2.75" fill="#2fcfcf"/>
<circle cx="1104.2" cy="396.1" r="2.75" fill="#2fcfcf"/>
<circle cx="1103.2" cy="400.2" r="2.75" fill="#2fcfcf"/>
<circle cx="1064.6" cy="406.5" r="2.75" fill="#2fcfcf"/>
<circle cx="1073.0" cy="406.5" r="2.75" fill="#2fcfcf"/>
<circle cx="1080.3" cy="406.0" r="2.75" fill="#2fcfcf"/>
<circle cx="1088.6" cy="406.5" r="2.75" fill="#2fcfcf"/>
<circle cx="1098.0" cy="405.4" r="2.75" fill="#2fcfcf"/>
<circle cx="1119.9" cy="386.7" r="2.75" fill="#2fcfcf"/>
<circle cx="1119.9" cy="391.9" r="2.75" fill="#2fcfcf"/>
<circle cx="1118.8" cy="397.1" r="2.75" fill="#2fcfcf"/>
<circle cx="1120.9" cy="401.3" r="2.75" fill="#2fcfcf"/>
<circle cx="1122.0" cy="405.4" r="2.75" fill="#2fcfcf"/>
<circle cx="1135.5" cy="385.6" r="2.75" fill="#2fcfcf"/>
<circle cx="1134.5" cy="390.8" r="2.75" fill="#2fcfcf"/>
<circle cx="1133.4" cy="396.1" r="2.75" fill="#2fcfcf"/>
<circle cx="1133.4" cy="401.3" r="2.75" fill="#2fcfcf"/>
<circle cx="1134.5" cy="406.5" r="2.75" fill="#2fcfcf"/>
<circle cx="1149.9" cy="385.6" r="2.75" fill="#2fcfcf"/>
<circle cx="1149.9" cy="390.8" r="2.75" fill="#2fcfcf"/>
<circle cx="1149.4" cy="396.1" r="2.75" fill="#2fcfcf"/>
<circle cx="1147.3" cy="402.3" r="2.75" fill="#2fcfcf"/>
<circle cx="1145.7" cy="406.5" r="2.75" fill="#2fcfcf"/>
<circle cx="1161.9" cy="386.7" r="2.75" fill="#2fcfcf"/>
<circle cx="1162.9" cy="391.9" r="2.75" fill="#2fcfcf"/>
<circle cx="1164.0" cy="397.1" r="2.75" fill="#2fcfcf"/>
<circle cx="1162.9" cy="403.4" r="2.75" fill="#2fcfcf"/>
<circle cx="1161.9" cy="407.5" r="2.75" fill="#2fcfcf"/>
<circle cx="1175.4" cy="385.6" r="2.75" fill="#2fcfcf"/>
<circle cx="1177.0" cy="390.8" r="2.75" fill="#2fcfcf"/>
<circle cx="1178.0" cy="396.1" r="2.75" fill="#2fcfcf"/>
<circle cx="1177.5" cy="401.3" r="2.75" fill="#2fcfcf"/>
<circle cx="1175.4" cy="405.4" r="2.75" fill="#2fcfcf"/>
<circle cx="1187.4" cy="383.6" r="2.75" fill="#2fcfcf"/>
<circle cx="1190.0" cy="388.8" r="2.75" fill="#2fcfcf"/>
<circle cx="1191.6" cy="394.0" r="2.75" fill="#2fcfcf"/>
<circle cx="1189.0" cy="399.2" r="2.75" fill="#2fcfcf"/>
<circle cx="1185.9" cy="404.4" r="2.75" fill="#2fcfcf"/>
<circle cx="1201.5" cy="383.6" r="2.75" fill="#2fcfcf"/>
<circle cx="1203.1" cy="388.8" r="2.75" fill="#2fcfcf"/>
<circle cx="1204.6" cy="394.0" r="2.75" fill="#2fcfcf"/>
<circle cx="1202.5" cy="399.2" r="2.75" fill="#2fcfcf"/>
<circle cx="1198.4" cy="401.3" r="2.75" fill="#2fcfcf"/>
<circle cx="1206.7" cy="400.2" r="2.75" fill="#2fcfcf"/>
<circle cx="1213.0" cy="398.1" r="2.75" fill="#2fcfcf"/>
<circle cx="1215.0" cy="385.6" r="2.75" fill="#2fcfcf"/>
<circle cx="1215.0" cy="390.8" r="2.75" fill="#2fcfcf"/>
<circle cx="1219.2" cy="397.1" r="2.75" fill="#2fcfcf"/>
<circle cx="1225.5" cy="388.8" r="2.75" fill="#2fcfcf"/>
<circle cx="1225.5" cy="396.1" r="2.75" fill="#2fcfcf"/>
<circle cx="1231.7" cy="397.1" r="2.75" fill="#2fcfcf"/>
<circle cx="1234.9" cy="390.8" r="2.75" fill="#2fcfcf"/>
<circle cx="1238.0" cy="397.1" r="2.75" fill="#2fcfcf"/>
<circle cx="1242.1" cy="391.9" r="2.75" fill="#2fcfcf"/>
<circle cx="1245.3" cy="396.1" r="2.75" fill="#2fcfcf"/>
<circle cx="1248.4" cy="396.1" r="2.75" fill="#2fcfcf"/>
<circle cx="1210.9" cy="401.3" r="2.75" fill="#2fcfcf"/>
<circle cx="1219.2" cy="400.2" r="2.75" fill="#2fcfcf"/>
<circle cx="1227.6" cy="399.2" r="2.75" fill="#2fcfcf"/>
<circle cx="1235.9" cy="399.2" r="2.75" fill="#2fcfcf"/>
<circle cx="1244.2" cy="398.1" r="2.75" fill="#2fcfcf"/>
<path d="M1003.3,282.6 L1009.5,283.7 L1015.8,284.5 L1022.1,284.8 L1028.3,284.8 L1034.6,285.0 L1040.8,285.1 L1047.1,284.8 L1053.4,284.8 L1059.6,284.8 L1065.9,284.8 L1072.1,283.9 L1078.4,282.9 L1084.7,282.2 L1090.9,281.4 L1097.2,280.6 L1103.4,280.1" fill="none" stroke="#e7cc92" stroke-width="3.0" stroke-linecap="round" stroke-linejoin="round" stroke-opacity="0.9"/>
<path d="M1198.2,277.0 L1204.5,277.9 L1210.8,278.6 L1217.0,279.2 L1223.3,279.8 L1229.5,280.3 L1235.8,280.6 L1242.1,280.6 L1248.3,280.3 L1254.6,279.8 L1260.8,279.5 L1267.1,279.0 L1273.4,278.6 L1279.6,277.9 L1282.8,277.0" fill="none" stroke="#e7cc92" stroke-width="3.0" stroke-linecap="round" stroke-linejoin="round" stroke-opacity="0.9"/>
<circle cx="993.9" cy="249.1" r="2.75" fill="#c63dba"/>
<circle cx="1009.1" cy="243.6" r="2.75" fill="#c63dba"/>
<circle cx="1027.1" cy="240.5" r="2.75" fill="#c63dba"/>
<circle cx="1047.9" cy="238.4" r="2.75" fill="#c63dba"/>
<circle cx="1070.3" cy="238.9" r="2.75" fill="#c63dba"/>
<circle cx="1092.8" cy="239.7" r="2.75" fill="#c63dba"/>
<circle cx="1115.6" cy="241.6" r="2.75" fill="#c63dba"/>
<circle cx="1004.5" cy="256.9" r="2.75" fill="#c63dba"/>
<circle cx="1018.9" cy="254.1" r="2.75" fill="#c63dba"/>
<circle cx="1036.9" cy="252.5" r="2.75" fill="#c63dba"/>
<circle cx="1056.2" cy="251.9" r="2.75" fill="#c63dba"/>
<circle cx="1077.3" cy="253.8" r="2.75" fill="#c63dba"/>
<circle cx="1098.4" cy="255.3" r="2.75" fill="#c63dba"/>
<circle cx="1118.3" cy="260.0" r="2.75" fill="#c63dba"/>
<circle cx="993.6" cy="261.6" r="2.75" fill="#c63dba"/>
<circle cx="1015.0" cy="264.4" r="2.75" fill="#c63dba"/>
<circle cx="1029.6" cy="262.9" r="2.75" fill="#c63dba"/>
<circle cx="1045.9" cy="261.3" r="2.75" fill="#c63dba"/>
<circle cx="1062.0" cy="260.8" r="2.75" fill="#c63dba"/>
<circle cx="1080.3" cy="261.9" r="2.75" fill="#c63dba"/>
<circle cx="1098.0" cy="264.4" r="2.75" fill="#c63dba"/>
<circle cx="1118.3" cy="267.1" r="2.75" fill="#c63dba"/>
<circle cx="1003.8" cy="267.9" r="2.75" fill="#c63dba"/>
<circle cx="1022.4" cy="270.2" r="2.75" fill="#c63dba"/>
<circle cx="1034.9" cy="268.2" r="2.75" fill="#c63dba"/>
<circle cx="1049.9" cy="267.1" r="2.75" fill="#c63dba"/>
<circle cx="1065.6" cy="267.1" r="2.75" fill="#c63dba"/>
<circle cx="1078.4" cy="267.1" r="2.75" fill="#c63dba"/>
<circle cx="1089.7" cy="267.1" r="2.75" fill="#c63dba"/>
<circle cx="1106.3" cy="267.6" r="2.75" fill="#c63dba"/>
<circle cx="995.8" cy="271.8" r="2.75" fill="#c63dba"/>
<circle cx="1013.5" cy="272.6" r="2.75" fill="#c63dba"/>
<circle cx="1008.0" cy="276.9" r="2.75" fill="#c63dba"/>
<circle cx="1016.6" cy="279.6" r="2.75" fill="#c63dba"/>
<circle cx="1024.4" cy="277.6" r="2.75" fill="#c63dba"/>
<circle cx="1033.0" cy="276.9" r="2.75" fill="#c63dba"/>
<circle cx="1043.7" cy="276.9" r="2.75" fill="#c63dba"/>
<circle cx="1054.6" cy="276.0" r="2.75" fill="#c63dba"/>
<circle cx="1066.7" cy="276.0" r="2.75" fill="#c63dba"/>
<circle cx="1075.6" cy="275.4" r="2.75" fill="#c63dba"/>
<circle cx="1084.4" cy="273.3" r="2.75" fill="#c63dba"/>
<circle cx="1092.5" cy="273.8" r="2.75" fill="#c63dba"/>
<circle cx="1100.0" cy="275.4" r="2.75" fill="#c63dba"/>
<circle cx="1113.6" cy="272.6" r="2.75" fill="#c63dba"/>
<circle cx="1199.0" cy="240.2" r="2.75" fill="#c63dba"/>
<circle cx="1219.7" cy="237.3" r="2.75" fill="#c63dba"/>
<circle cx="1239.2" cy="236.3" r="2.75" fill="#c63dba"/>
<circle cx="1257.7" cy="235.8" r="2.75" fill="#c63dba"/>
<circle cx="1274.9" cy="236.3" r="2.75" fill="#c63dba"/>
<circle cx="1288.2" cy="237.3" r="2.75" fill="#c63dba"/>
<circle cx="1298.4" cy="241.6" r="2.75" fill="#c63dba"/>
<circle cx="1213.9" cy="253.5" r="2.75" fill="#c63dba"/>
<circle cx="1233.0" cy="250.6" r="2.75" fill="#c63dba"/>
<circle cx="1251.9" cy="247.5" r="2.75" fill="#c63dba"/>
<circle cx="1267.9" cy="247.2" r="2.75" fill="#c63dba"/>
<circle cx="1282.0" cy="247.5" r="2.75" fill="#c63dba"/>
<circle cx="1292.1" cy="249.9" r="2.75" fill="#c63dba"/>
<circle cx="1298.4" cy="253.8" r="2.75" fill="#c63dba"/>
<circle cx="1193.9" cy="258.8" r="2.75" fill="#c63dba"/>
<circle cx="1210.0" cy="261.9" r="2.75" fill="#c63dba"/>
<circle cx="1215.5" cy="263.5" r="2.75" fill="#c63dba"/>
<circle cx="1228.3" cy="258.5" r="2.75" fill="#c63dba"/>
<circle cx="1228.0" cy="263.2" r="2.75" fill="#c63dba"/>
<circle cx="1246.0" cy="256.9" r="2.75" fill="#c63dba"/>
<circle cx="1260.4" cy="256.1" r="2.75" fill="#c63dba"/>
<circle cx="1284.0" cy="258.2" r="2.75" fill="#c63dba"/>
<circle cx="1292.1" cy="260.0" r="2.75" fill="#c63dba"/>
<circle cx="1295.3" cy="264.0" r="2.75" fill="#c63dba"/>
<circle cx="1188.4" cy="265.5" r="2.75" fill="#c63dba"/>
<circle cx="1199.0" cy="265.0" r="2.75" fill="#c63dba"/>
<circle cx="1241.3" cy="262.9" r="2.75" fill="#c63dba"/>
<circle cx="1256.5" cy="262.4" r="2.75" fill="#c63dba"/>
<circle cx="1269.1" cy="262.9" r="2.75" fill="#c63dba"/>
<circle cx="1279.6" cy="263.2" r="2.75" fill="#c63dba"/>
<circle cx="1285.1" cy="264.7" r="2.75" fill="#c63dba"/>
<circle cx="1190.7" cy="271.3" r="2.75" fill="#c63dba"/>
<circle cx="1202.6" cy="272.6" r="2.75" fill="#c63dba"/>
<circle cx="1211.2" cy="270.7" r="2.75" fill="#c63dba"/>
<circle cx="1220.2" cy="270.7" r="2.75" fill="#c63dba"/>
<circle cx="1230.6" cy="271.8" r="2.75" fill="#c63dba"/>
<circle cx="1240.5" cy="271.8" r="2.75" fill="#c63dba"/>
<circle cx="1251.8" cy="271.3" r="2.75" fill="#c63dba"/>
<circle cx="1260.8" cy="271.5" r="2.75" fill="#c63dba"/>
<circle cx="1269.5" cy="270.7" r="2.75" fill="#c63dba"/>
<circle cx="1276.5" cy="271.3" r="2.75" fill="#c63dba"/>
<circle cx="1282.8" cy="270.2" r="2.75" fill="#c63dba"/>
<circle cx="1286.7" cy="268.6" r="2.75" fill="#c63dba"/>
<circle cx="1181.8" cy="275.4" r="2.75" fill="#c63dba"/>
<circle cx="1127.0" cy="276.5" r="2.75" fill="#c63dba"/></g>
<rect x="7.5" y="32.2" width="1521" height="599.6" fill="none" stroke="#333" stroke-width="1.8"/>
<line x1="767.1" y1="32" x2="767.1" y2="632" stroke="#333" stroke-width="1.8"/>
<text class="lbl" x="4.6" y="23.2" font-size="27.2">A</text>
<text class="lbl" x="769.0" y="23.0" font-size="27.2">B</text>
</svg>
</body></html>
